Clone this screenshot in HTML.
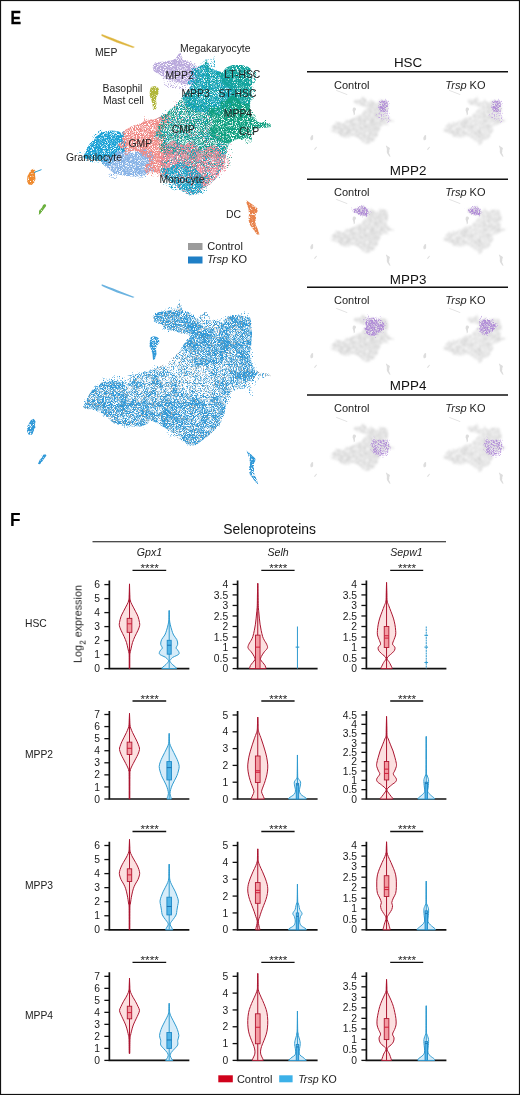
<!DOCTYPE html>
<html><head><meta charset="utf-8"><style>
html,body{margin:0;padding:0;background:#fff;}
body{width:520px;height:1095px;overflow:hidden;}
svg{display:block;font-family:"Liberation Sans", sans-serif;}
text{will-change:transform;}
</style></head><body>
<svg width="520" height="1095" viewBox="0 0 520 1095">
<rect x="0" y="0" width="520" height="1095" fill="#fff"/>
<defs><filter id="f0" filterUnits="userSpaceOnUse" x="-20" y="-20" width="340" height="300" color-interpolation-filters="sRGB"><feTurbulence type="fractalNoise" baseFrequency="0.05" numOctaves="2" seed="251" result="w"/><feDisplacementMap in="SourceGraphic" in2="w" scale="28" xChannelSelector="R" yChannelSelector="G" result="d"/><feTurbulence type="fractalNoise" baseFrequency="1.37" numOctaves="1" seed="201" result="n"/><feColorMatrix in="n" type="matrix" values="0 0 0 0 0  0 0 0 0 0  0 0 0 0 0  6 0 0 0 -2.980" result="m"/><feComposite in="d" in2="m" operator="in" result="o"/><feGaussianBlur in="o" stdDeviation="0.35"/></filter><filter id="f1" filterUnits="userSpaceOnUse" x="-20" y="-20" width="340" height="300" color-interpolation-filters="sRGB"><feTurbulence type="fractalNoise" baseFrequency="0.05" numOctaves="2" seed="252" result="w"/><feDisplacementMap in="SourceGraphic" in2="w" scale="28" xChannelSelector="R" yChannelSelector="G" result="d"/><feTurbulence type="fractalNoise" baseFrequency="1.37" numOctaves="1" seed="202" result="n"/><feColorMatrix in="n" type="matrix" values="0 0 0 0 0  0 0 0 0 0  0 0 0 0 0  6 0 0 0 -3.006" result="m"/><feComposite in="d" in2="m" operator="in" result="o"/><feGaussianBlur in="o" stdDeviation="0.35"/></filter><filter id="f2" filterUnits="userSpaceOnUse" x="-20" y="-20" width="340" height="300" color-interpolation-filters="sRGB"><feTurbulence type="fractalNoise" baseFrequency="0.05" numOctaves="2" seed="253" result="w"/><feDisplacementMap in="SourceGraphic" in2="w" scale="28" xChannelSelector="R" yChannelSelector="G" result="d"/><feTurbulence type="fractalNoise" baseFrequency="1.37" numOctaves="1" seed="203" result="n"/><feColorMatrix in="n" type="matrix" values="0 0 0 0 0  0 0 0 0 0  0 0 0 0 0  6 0 0 0 -3.069" result="m"/><feComposite in="d" in2="m" operator="in" result="o"/><feGaussianBlur in="o" stdDeviation="0.35"/></filter><filter id="f3" filterUnits="userSpaceOnUse" x="-20" y="-20" width="340" height="300" color-interpolation-filters="sRGB"><feTurbulence type="fractalNoise" baseFrequency="0.05" numOctaves="2" seed="254" result="w"/><feDisplacementMap in="SourceGraphic" in2="w" scale="28" xChannelSelector="R" yChannelSelector="G" result="d"/><feTurbulence type="fractalNoise" baseFrequency="1.37" numOctaves="1" seed="204" result="n"/><feColorMatrix in="n" type="matrix" values="0 0 0 0 0  0 0 0 0 0  0 0 0 0 0  6 0 0 0 -3.248" result="m"/><feComposite in="d" in2="m" operator="in" result="o"/><feGaussianBlur in="o" stdDeviation="0.35"/></filter><filter id="f4" filterUnits="userSpaceOnUse" x="-20" y="-20" width="340" height="300" color-interpolation-filters="sRGB"><feTurbulence type="fractalNoise" baseFrequency="0.05" numOctaves="2" seed="255" result="w"/><feDisplacementMap in="SourceGraphic" in2="w" scale="28" xChannelSelector="R" yChannelSelector="G" result="d"/><feTurbulence type="fractalNoise" baseFrequency="1.37" numOctaves="1" seed="205" result="n"/><feColorMatrix in="n" type="matrix" values="0 0 0 0 0  0 0 0 0 0  0 0 0 0 0  6 0 0 0 -3.600" result="m"/><feComposite in="d" in2="m" operator="in" result="o"/><feGaussianBlur in="o" stdDeviation="0.35"/></filter><filter id="f5" filterUnits="userSpaceOnUse" x="-20" y="-20" width="340" height="300" color-interpolation-filters="sRGB"><feTurbulence type="fractalNoise" baseFrequency="0.05" numOctaves="2" seed="269" result="w"/><feDisplacementMap in="SourceGraphic" in2="w" scale="28" xChannelSelector="R" yChannelSelector="G" result="d"/><feTurbulence type="fractalNoise" baseFrequency="1.37" numOctaves="1" seed="219" result="n"/><feColorMatrix in="n" type="matrix" values="0 0 0 0 0  0 0 0 0 0  0 0 0 0 0  6 0 0 0 -3.600" result="m"/><feComposite in="d" in2="m" operator="in" result="o"/><feGaussianBlur in="o" stdDeviation="0.35"/></filter><filter id="f6" filterUnits="userSpaceOnUse" x="-20" y="-20" width="340" height="300" color-interpolation-filters="sRGB"><feTurbulence type="fractalNoise" baseFrequency="0.05" numOctaves="2" seed="256" result="w"/><feDisplacementMap in="SourceGraphic" in2="w" scale="28" xChannelSelector="R" yChannelSelector="G" result="d"/><feTurbulence type="fractalNoise" baseFrequency="1.37" numOctaves="1" seed="206" result="n"/><feColorMatrix in="n" type="matrix" values="0 0 0 0 0  0 0 0 0 0  0 0 0 0 0  6 0 0 0 -3.090" result="m"/><feComposite in="d" in2="m" operator="in" result="o"/><feGaussianBlur in="o" stdDeviation="0.35"/></filter><filter id="f7" filterUnits="userSpaceOnUse" x="-20" y="-20" width="340" height="300" color-interpolation-filters="sRGB"><feTurbulence type="fractalNoise" baseFrequency="0.05" numOctaves="2" seed="257" result="w"/><feDisplacementMap in="SourceGraphic" in2="w" scale="28" xChannelSelector="R" yChannelSelector="G" result="d"/><feTurbulence type="fractalNoise" baseFrequency="1.37" numOctaves="1" seed="207" result="n"/><feColorMatrix in="n" type="matrix" values="0 0 0 0 0  0 0 0 0 0  0 0 0 0 0  6 0 0 0 -3.600" result="m"/><feComposite in="d" in2="m" operator="in" result="o"/><feGaussianBlur in="o" stdDeviation="0.35"/></filter><filter id="f8" filterUnits="userSpaceOnUse" x="-20" y="-20" width="340" height="300" color-interpolation-filters="sRGB"><feTurbulence type="fractalNoise" baseFrequency="0.05" numOctaves="2" seed="270" result="w"/><feDisplacementMap in="SourceGraphic" in2="w" scale="28" xChannelSelector="R" yChannelSelector="G" result="d"/><feTurbulence type="fractalNoise" baseFrequency="1.37" numOctaves="1" seed="220" result="n"/><feColorMatrix in="n" type="matrix" values="0 0 0 0 0  0 0 0 0 0  0 0 0 0 0  6 0 0 0 -3.600" result="m"/><feComposite in="d" in2="m" operator="in" result="o"/><feGaussianBlur in="o" stdDeviation="0.35"/></filter><filter id="f9" filterUnits="userSpaceOnUse" x="-20" y="-20" width="340" height="300" color-interpolation-filters="sRGB"><feTurbulence type="fractalNoise" baseFrequency="0.05" numOctaves="2" seed="258" result="w"/><feDisplacementMap in="SourceGraphic" in2="w" scale="28" xChannelSelector="R" yChannelSelector="G" result="d"/><feTurbulence type="fractalNoise" baseFrequency="1.37" numOctaves="1" seed="208" result="n"/><feColorMatrix in="n" type="matrix" values="0 0 0 0 0  0 0 0 0 0  0 0 0 0 0  6 0 0 0 -3.037" result="m"/><feComposite in="d" in2="m" operator="in" result="o"/><feGaussianBlur in="o" stdDeviation="0.35"/></filter><filter id="f10" filterUnits="userSpaceOnUse" x="-20" y="-20" width="340" height="300" color-interpolation-filters="sRGB"><feTurbulence type="fractalNoise" baseFrequency="0.05" numOctaves="2" seed="268" result="w"/><feDisplacementMap in="SourceGraphic" in2="w" scale="28" xChannelSelector="R" yChannelSelector="G" result="d"/><feTurbulence type="fractalNoise" baseFrequency="1.37" numOctaves="1" seed="218" result="n"/><feColorMatrix in="n" type="matrix" values="0 0 0 0 0  0 0 0 0 0  0 0 0 0 0  6 0 0 0 -3.600" result="m"/><feComposite in="d" in2="m" operator="in" result="o"/><feGaussianBlur in="o" stdDeviation="0.35"/></filter><filter id="f11" filterUnits="userSpaceOnUse" x="-20" y="-20" width="340" height="300" color-interpolation-filters="sRGB"><feTurbulence type="fractalNoise" baseFrequency="0.05" numOctaves="2" seed="259" result="w"/><feDisplacementMap in="SourceGraphic" in2="w" scale="28" xChannelSelector="R" yChannelSelector="G" result="d"/><feTurbulence type="fractalNoise" baseFrequency="1.37" numOctaves="1" seed="209" result="n"/><feColorMatrix in="n" type="matrix" values="0 0 0 0 0  0 0 0 0 0  0 0 0 0 0  6 0 0 0 -3.006" result="m"/><feComposite in="d" in2="m" operator="in" result="o"/><feGaussianBlur in="o" stdDeviation="0.35"/></filter><filter id="f12" filterUnits="userSpaceOnUse" x="-20" y="-20" width="340" height="300" color-interpolation-filters="sRGB"><feTurbulence type="fractalNoise" baseFrequency="0.05" numOctaves="2" seed="260" result="w"/><feDisplacementMap in="SourceGraphic" in2="w" scale="28" xChannelSelector="R" yChannelSelector="G" result="d"/><feTurbulence type="fractalNoise" baseFrequency="1.37" numOctaves="1" seed="210" result="n"/><feColorMatrix in="n" type="matrix" values="0 0 0 0 0  0 0 0 0 0  0 0 0 0 0  6 0 0 0 -3.143" result="m"/><feComposite in="d" in2="m" operator="in" result="o"/><feGaussianBlur in="o" stdDeviation="0.35"/></filter><filter id="f13" filterUnits="userSpaceOnUse" x="-20" y="-20" width="340" height="300" color-interpolation-filters="sRGB"><feTurbulence type="fractalNoise" baseFrequency="0.05" numOctaves="2" seed="261" result="w"/><feDisplacementMap in="SourceGraphic" in2="w" scale="28" xChannelSelector="R" yChannelSelector="G" result="d"/><feTurbulence type="fractalNoise" baseFrequency="1.37" numOctaves="1" seed="211" result="n"/><feColorMatrix in="n" type="matrix" values="0 0 0 0 0  0 0 0 0 0  0 0 0 0 0  6 0 0 0 -3.375" result="m"/><feComposite in="d" in2="m" operator="in" result="o"/><feGaussianBlur in="o" stdDeviation="0.35"/></filter><filter id="f14" filterUnits="userSpaceOnUse" x="-20" y="-20" width="340" height="300" color-interpolation-filters="sRGB"><feTurbulence type="fractalNoise" baseFrequency="0.05" numOctaves="2" seed="262" result="w"/><feDisplacementMap in="SourceGraphic" in2="w" scale="28" xChannelSelector="R" yChannelSelector="G" result="d"/><feTurbulence type="fractalNoise" baseFrequency="1.37" numOctaves="1" seed="212" result="n"/><feColorMatrix in="n" type="matrix" values="0 0 0 0 0  0 0 0 0 0  0 0 0 0 0  6 0 0 0 -2.980" result="m"/><feComposite in="d" in2="m" operator="in" result="o"/><feGaussianBlur in="o" stdDeviation="0.35"/></filter><filter id="f15" filterUnits="userSpaceOnUse" x="-20" y="-20" width="340" height="300" color-interpolation-filters="sRGB"><feTurbulence type="fractalNoise" baseFrequency="0.05" numOctaves="2" seed="263" result="w"/><feDisplacementMap in="SourceGraphic" in2="w" scale="28" xChannelSelector="R" yChannelSelector="G" result="d"/><feTurbulence type="fractalNoise" baseFrequency="1.37" numOctaves="1" seed="213" result="n"/><feColorMatrix in="n" type="matrix" values="0 0 0 0 0  0 0 0 0 0  0 0 0 0 0  6 0 0 0 -3.006" result="m"/><feComposite in="d" in2="m" operator="in" result="o"/><feGaussianBlur in="o" stdDeviation="0.35"/></filter><filter id="f16" filterUnits="userSpaceOnUse" x="-20" y="-20" width="340" height="300" color-interpolation-filters="sRGB"><feTurbulence type="fractalNoise" baseFrequency="0.07" numOctaves="2" seed="51" result="w"/><feDisplacementMap in="SourceGraphic" in2="w" scale="18" xChannelSelector="R" yChannelSelector="G" result="d"/><feTurbulence type="fractalNoise" baseFrequency="1.07" numOctaves="1" seed="1" result="n"/><feColorMatrix in="n" type="matrix" values="0 0 0 0 0  0 0 0 0 0  0 0 0 0 0  6 0 0 0 -2.075" result="m"/><feComposite in="d" in2="m" operator="in" result="o"/><feGaussianBlur in="o" stdDeviation="0.45"/></filter><filter id="f17" filterUnits="userSpaceOnUse" x="-20" y="-20" width="340" height="300" color-interpolation-filters="sRGB"><feTurbulence type="fractalNoise" baseFrequency="0.07" numOctaves="2" seed="52" result="w"/><feDisplacementMap in="SourceGraphic" in2="w" scale="18" xChannelSelector="R" yChannelSelector="G" result="d"/><feTurbulence type="fractalNoise" baseFrequency="1.07" numOctaves="1" seed="2" result="n"/><feColorMatrix in="n" type="matrix" values="0 0 0 0 0  0 0 0 0 0  0 0 0 0 0  6 0 0 0 -2.156" result="m"/><feComposite in="d" in2="m" operator="in" result="o"/><feGaussianBlur in="o" stdDeviation="0.45"/></filter><filter id="f18" filterUnits="userSpaceOnUse" x="-20" y="-20" width="340" height="300" color-interpolation-filters="sRGB"><feTurbulence type="fractalNoise" baseFrequency="0.07" numOctaves="2" seed="53" result="w"/><feDisplacementMap in="SourceGraphic" in2="w" scale="18" xChannelSelector="R" yChannelSelector="G" result="d"/><feTurbulence type="fractalNoise" baseFrequency="1.07" numOctaves="1" seed="3" result="n"/><feColorMatrix in="n" type="matrix" values="0 0 0 0 0  0 0 0 0 0  0 0 0 0 0  6 0 0 0 -2.269" result="m"/><feComposite in="d" in2="m" operator="in" result="o"/><feGaussianBlur in="o" stdDeviation="0.45"/></filter><filter id="f19" filterUnits="userSpaceOnUse" x="-20" y="-20" width="340" height="300" color-interpolation-filters="sRGB"><feTurbulence type="fractalNoise" baseFrequency="0.07" numOctaves="2" seed="54" result="w"/><feDisplacementMap in="SourceGraphic" in2="w" scale="18" xChannelSelector="R" yChannelSelector="G" result="d"/><feTurbulence type="fractalNoise" baseFrequency="1.07" numOctaves="1" seed="4" result="n"/><feColorMatrix in="n" type="matrix" values="0 0 0 0 0  0 0 0 0 0  0 0 0 0 0  6 0 0 0 -2.588" result="m"/><feComposite in="d" in2="m" operator="in" result="o"/><feGaussianBlur in="o" stdDeviation="0.45"/></filter><filter id="f20" filterUnits="userSpaceOnUse" x="-20" y="-20" width="340" height="300" color-interpolation-filters="sRGB"><feTurbulence type="fractalNoise" baseFrequency="0.07" numOctaves="2" seed="55" result="w"/><feDisplacementMap in="SourceGraphic" in2="w" scale="18" xChannelSelector="R" yChannelSelector="G" result="d"/><feTurbulence type="fractalNoise" baseFrequency="1.07" numOctaves="1" seed="5" result="n"/><feColorMatrix in="n" type="matrix" values="0 0 0 0 0  0 0 0 0 0  0 0 0 0 0  6 0 0 0 -3.386" result="m"/><feComposite in="d" in2="m" operator="in" result="o"/><feGaussianBlur in="o" stdDeviation="0.45"/></filter><filter id="f21" filterUnits="userSpaceOnUse" x="-20" y="-20" width="340" height="300" color-interpolation-filters="sRGB"><feTurbulence type="fractalNoise" baseFrequency="0.07" numOctaves="2" seed="69" result="w"/><feDisplacementMap in="SourceGraphic" in2="w" scale="18" xChannelSelector="R" yChannelSelector="G" result="d"/><feTurbulence type="fractalNoise" baseFrequency="1.07" numOctaves="1" seed="19" result="n"/><feColorMatrix in="n" type="matrix" values="0 0 0 0 0  0 0 0 0 0  0 0 0 0 0  6 0 0 0 -3.600" result="m"/><feComposite in="d" in2="m" operator="in" result="o"/><feGaussianBlur in="o" stdDeviation="0.45"/></filter><filter id="f22" filterUnits="userSpaceOnUse" x="-20" y="-20" width="340" height="300" color-interpolation-filters="sRGB"><feTurbulence type="fractalNoise" baseFrequency="0.07" numOctaves="2" seed="56" result="w"/><feDisplacementMap in="SourceGraphic" in2="w" scale="18" xChannelSelector="R" yChannelSelector="G" result="d"/><feTurbulence type="fractalNoise" baseFrequency="1.07" numOctaves="1" seed="6" result="n"/><feColorMatrix in="n" type="matrix" values="0 0 0 0 0  0 0 0 0 0  0 0 0 0 0  6 0 0 0 -2.306" result="m"/><feComposite in="d" in2="m" operator="in" result="o"/><feGaussianBlur in="o" stdDeviation="0.45"/></filter><filter id="f23" filterUnits="userSpaceOnUse" x="-20" y="-20" width="340" height="300" color-interpolation-filters="sRGB"><feTurbulence type="fractalNoise" baseFrequency="0.07" numOctaves="2" seed="57" result="w"/><feDisplacementMap in="SourceGraphic" in2="w" scale="18" xChannelSelector="R" yChannelSelector="G" result="d"/><feTurbulence type="fractalNoise" baseFrequency="1.07" numOctaves="1" seed="7" result="n"/><feColorMatrix in="n" type="matrix" values="0 0 0 0 0  0 0 0 0 0  0 0 0 0 0  6 0 0 0 -3.270" result="m"/><feComposite in="d" in2="m" operator="in" result="o"/><feGaussianBlur in="o" stdDeviation="0.45"/></filter><filter id="f24" filterUnits="userSpaceOnUse" x="-20" y="-20" width="340" height="300" color-interpolation-filters="sRGB"><feTurbulence type="fractalNoise" baseFrequency="0.07" numOctaves="2" seed="70" result="w"/><feDisplacementMap in="SourceGraphic" in2="w" scale="18" xChannelSelector="R" yChannelSelector="G" result="d"/><feTurbulence type="fractalNoise" baseFrequency="1.07" numOctaves="1" seed="20" result="n"/><feColorMatrix in="n" type="matrix" values="0 0 0 0 0  0 0 0 0 0  0 0 0 0 0  6 0 0 0 -3.600" result="m"/><feComposite in="d" in2="m" operator="in" result="o"/><feGaussianBlur in="o" stdDeviation="0.45"/></filter><filter id="f25" filterUnits="userSpaceOnUse" x="-20" y="-20" width="340" height="300" color-interpolation-filters="sRGB"><feTurbulence type="fractalNoise" baseFrequency="0.07" numOctaves="2" seed="58" result="w"/><feDisplacementMap in="SourceGraphic" in2="w" scale="18" xChannelSelector="R" yChannelSelector="G" result="d"/><feTurbulence type="fractalNoise" baseFrequency="1.07" numOctaves="1" seed="8" result="n"/><feColorMatrix in="n" type="matrix" values="0 0 0 0 0  0 0 0 0 0  0 0 0 0 0  6 0 0 0 -2.212" result="m"/><feComposite in="d" in2="m" operator="in" result="o"/><feGaussianBlur in="o" stdDeviation="0.45"/></filter><filter id="f26" filterUnits="userSpaceOnUse" x="-20" y="-20" width="340" height="300" color-interpolation-filters="sRGB"><feTurbulence type="fractalNoise" baseFrequency="0.07" numOctaves="2" seed="68" result="w"/><feDisplacementMap in="SourceGraphic" in2="w" scale="18" xChannelSelector="R" yChannelSelector="G" result="d"/><feTurbulence type="fractalNoise" baseFrequency="1.07" numOctaves="1" seed="18" result="n"/><feColorMatrix in="n" type="matrix" values="0 0 0 0 0  0 0 0 0 0  0 0 0 0 0  6 0 0 0 -3.471" result="m"/><feComposite in="d" in2="m" operator="in" result="o"/><feGaussianBlur in="o" stdDeviation="0.45"/></filter><filter id="f27" filterUnits="userSpaceOnUse" x="-20" y="-20" width="340" height="300" color-interpolation-filters="sRGB"><feTurbulence type="fractalNoise" baseFrequency="0.07" numOctaves="2" seed="59" result="w"/><feDisplacementMap in="SourceGraphic" in2="w" scale="18" xChannelSelector="R" yChannelSelector="G" result="d"/><feTurbulence type="fractalNoise" baseFrequency="1.07" numOctaves="1" seed="9" result="n"/><feColorMatrix in="n" type="matrix" values="0 0 0 0 0  0 0 0 0 0  0 0 0 0 0  6 0 0 0 -2.156" result="m"/><feComposite in="d" in2="m" operator="in" result="o"/><feGaussianBlur in="o" stdDeviation="0.45"/></filter><filter id="f28" filterUnits="userSpaceOnUse" x="-20" y="-20" width="340" height="300" color-interpolation-filters="sRGB"><feTurbulence type="fractalNoise" baseFrequency="0.07" numOctaves="2" seed="60" result="w"/><feDisplacementMap in="SourceGraphic" in2="w" scale="18" xChannelSelector="R" yChannelSelector="G" result="d"/><feTurbulence type="fractalNoise" baseFrequency="1.07" numOctaves="1" seed="10" result="n"/><feColorMatrix in="n" type="matrix" values="0 0 0 0 0  0 0 0 0 0  0 0 0 0 0  6 0 0 0 -2.400" result="m"/><feComposite in="d" in2="m" operator="in" result="o"/><feGaussianBlur in="o" stdDeviation="0.45"/></filter><filter id="f29" filterUnits="userSpaceOnUse" x="-20" y="-20" width="340" height="300" color-interpolation-filters="sRGB"><feTurbulence type="fractalNoise" baseFrequency="0.07" numOctaves="2" seed="61" result="w"/><feDisplacementMap in="SourceGraphic" in2="w" scale="18" xChannelSelector="R" yChannelSelector="G" result="d"/><feTurbulence type="fractalNoise" baseFrequency="1.07" numOctaves="1" seed="11" result="n"/><feColorMatrix in="n" type="matrix" values="0 0 0 0 0  0 0 0 0 0  0 0 0 0 0  6 0 0 0 -2.780" result="m"/><feComposite in="d" in2="m" operator="in" result="o"/><feGaussianBlur in="o" stdDeviation="0.45"/></filter><filter id="f30" filterUnits="userSpaceOnUse" x="-20" y="-20" width="340" height="300" color-interpolation-filters="sRGB"><feTurbulence type="fractalNoise" baseFrequency="0.07" numOctaves="2" seed="62" result="w"/><feDisplacementMap in="SourceGraphic" in2="w" scale="18" xChannelSelector="R" yChannelSelector="G" result="d"/><feTurbulence type="fractalNoise" baseFrequency="1.07" numOctaves="1" seed="12" result="n"/><feColorMatrix in="n" type="matrix" values="0 0 0 0 0  0 0 0 0 0  0 0 0 0 0  6 0 0 0 -2.000" result="m"/><feComposite in="d" in2="m" operator="in" result="o"/><feGaussianBlur in="o" stdDeviation="0.45"/></filter><filter id="f31" filterUnits="userSpaceOnUse" x="-20" y="-20" width="340" height="300" color-interpolation-filters="sRGB"><feTurbulence type="fractalNoise" baseFrequency="0.07" numOctaves="2" seed="63" result="w"/><feDisplacementMap in="SourceGraphic" in2="w" scale="18" xChannelSelector="R" yChannelSelector="G" result="d"/><feTurbulence type="fractalNoise" baseFrequency="1.07" numOctaves="1" seed="13" result="n"/><feColorMatrix in="n" type="matrix" values="0 0 0 0 0  0 0 0 0 0  0 0 0 0 0  6 0 0 0 -2.156" result="m"/><feComposite in="d" in2="m" operator="in" result="o"/><feGaussianBlur in="o" stdDeviation="0.45"/></filter><filter id="f32" filterUnits="userSpaceOnUse" x="-20" y="-20" width="340" height="300" color-interpolation-filters="sRGB"><feTurbulence type="fractalNoise" baseFrequency="0.07" numOctaves="2" seed="64" result="w"/><feDisplacementMap in="SourceGraphic" in2="w" scale="2" xChannelSelector="R" yChannelSelector="G" result="d"/><feTurbulence type="fractalNoise" baseFrequency="1.37" numOctaves="1" seed="14" result="n"/><feColorMatrix in="n" type="matrix" values="0 0 0 0 0  0 0 0 0 0  0 0 0 0 0  6 0 0 0 -1.720" result="m"/><feComposite in="d" in2="m" operator="in" result="o"/><feGaussianBlur in="o" stdDeviation="0.35"/></filter><filter id="f33" filterUnits="userSpaceOnUse" x="-20" y="-20" width="340" height="300" color-interpolation-filters="sRGB"><feTurbulence type="fractalNoise" baseFrequency="0.07" numOctaves="2" seed="65" result="w"/><feDisplacementMap in="SourceGraphic" in2="w" scale="2" xChannelSelector="R" yChannelSelector="G" result="d"/><feTurbulence type="fractalNoise" baseFrequency="1.37" numOctaves="1" seed="15" result="n"/><feColorMatrix in="n" type="matrix" values="0 0 0 0 0  0 0 0 0 0  0 0 0 0 0  6 0 0 0 -1.720" result="m"/><feComposite in="d" in2="m" operator="in" result="o"/><feGaussianBlur in="o" stdDeviation="0.35"/></filter><filter id="f34" filterUnits="userSpaceOnUse" x="-20" y="-20" width="340" height="300" color-interpolation-filters="sRGB"><feTurbulence type="fractalNoise" baseFrequency="0.07" numOctaves="2" seed="66" result="w"/><feDisplacementMap in="SourceGraphic" in2="w" scale="2" xChannelSelector="R" yChannelSelector="G" result="d"/><feTurbulence type="fractalNoise" baseFrequency="1.37" numOctaves="1" seed="16" result="n"/><feColorMatrix in="n" type="matrix" values="0 0 0 0 0  0 0 0 0 0  0 0 0 0 0  6 0 0 0 -1.520" result="m"/><feComposite in="d" in2="m" operator="in" result="o"/><feGaussianBlur in="o" stdDeviation="0.35"/></filter><filter id="f35" filterUnits="userSpaceOnUse" x="-20" y="-20" width="340" height="300" color-interpolation-filters="sRGB"><feTurbulence type="fractalNoise" baseFrequency="0.07" numOctaves="2" seed="67" result="w"/><feDisplacementMap in="SourceGraphic" in2="w" scale="2" xChannelSelector="R" yChannelSelector="G" result="d"/><feTurbulence type="fractalNoise" baseFrequency="1.37" numOctaves="1" seed="17" result="n"/><feColorMatrix in="n" type="matrix" values="0 0 0 0 0  0 0 0 0 0  0 0 0 0 0  6 0 0 0 -1.520" result="m"/><feComposite in="d" in2="m" operator="in" result="o"/><feGaussianBlur in="o" stdDeviation="0.35"/></filter><filter id="f36" filterUnits="userSpaceOnUse" x="-20" y="-20" width="340" height="300" color-interpolation-filters="sRGB"><feTurbulence type="fractalNoise" baseFrequency="0.05" numOctaves="2" seed="111" result="w"/><feDisplacementMap in="SourceGraphic" in2="w" scale="28" xChannelSelector="R" yChannelSelector="G" result="d"/><feTurbulence type="fractalNoise" baseFrequency="1.37" numOctaves="1" seed="61" result="n"/><feColorMatrix in="n" type="matrix" values="0 0 0 0 0  0 0 0 0 0  0 0 0 0 0  6 0 0 0 -3.386" result="m"/><feComposite in="d" in2="m" operator="in" result="o"/><feGaussianBlur in="o" stdDeviation="0.35"/></filter><filter id="f37" filterUnits="userSpaceOnUse" x="-20" y="-20" width="340" height="300" color-interpolation-filters="sRGB"><feTurbulence type="fractalNoise" baseFrequency="0.07" numOctaves="2" seed="112" result="w"/><feDisplacementMap in="SourceGraphic" in2="w" scale="10" xChannelSelector="R" yChannelSelector="G" result="d"/><feTurbulence type="fractalNoise" baseFrequency="1.1" numOctaves="1" seed="62" result="n"/><feColorMatrix in="n" type="matrix" values="1 0 0 0 0  1 0 0 0 0  1 0 0 0 0  0 0 0 0 1" result="g1"/><feTurbulence type="fractalNoise" baseFrequency="0.1" numOctaves="2" seed="152" result="n2"/><feColorMatrix in="n2" type="matrix" values="1 0 0 0 0  1 0 0 0 0  1 0 0 0 0  0 0 0 0 1" result="g2"/><feComposite in="g1" in2="g2" operator="arithmetic" k1="0" k2="1" k3="0.3" k4="-0.15" result="sum"/><feColorMatrix in="sum" type="matrix" values="0 0 0 0 0  0 0 0 0 0  0 0 0 0 0  6 0 0 0 -3.060" result="m"/><feComposite in="d" in2="m" operator="in" result="o"/><feGaussianBlur in="o" stdDeviation="0.35"/></filter><filter id="f38" filterUnits="userSpaceOnUse" x="-20" y="-20" width="340" height="300" color-interpolation-filters="sRGB"><feTurbulence type="fractalNoise" baseFrequency="0.07" numOctaves="2" seed="80" result="w"/><feDisplacementMap in="SourceGraphic" in2="w" scale="18" xChannelSelector="R" yChannelSelector="G" result="d"/><feTurbulence type="fractalNoise" baseFrequency="1.1" numOctaves="1" seed="30" result="n"/><feColorMatrix in="n" type="matrix" values="1 0 0 0 0  1 0 0 0 0  1 0 0 0 0  0 0 0 0 1" result="g1"/><feTurbulence type="fractalNoise" baseFrequency="0.1" numOctaves="2" seed="120" result="n2"/><feColorMatrix in="n2" type="matrix" values="1 0 0 0 0  1 0 0 0 0  1 0 0 0 0  0 0 0 0 1" result="g2"/><feComposite in="g1" in2="g2" operator="arithmetic" k1="0" k2="1" k3="0.3" k4="-0.15" result="sum"/><feColorMatrix in="sum" type="matrix" values="0 0 0 0 0  0 0 0 0 0  0 0 0 0 0  6 0 0 0 -2.494" result="m"/><feComposite in="d" in2="m" operator="in" result="o"/><feGaussianBlur in="o" stdDeviation="0.35"/></filter><filter id="f39" filterUnits="userSpaceOnUse" x="-20" y="-20" width="340" height="300" color-interpolation-filters="sRGB"><feTurbulence type="fractalNoise" baseFrequency="0.07" numOctaves="2" seed="81" result="w"/><feDisplacementMap in="SourceGraphic" in2="w" scale="18" xChannelSelector="R" yChannelSelector="G" result="d"/><feTurbulence type="fractalNoise" baseFrequency="1.1" numOctaves="1" seed="31" result="n"/><feColorMatrix in="n" type="matrix" values="1 0 0 0 0  1 0 0 0 0  1 0 0 0 0  0 0 0 0 1" result="g1"/><feTurbulence type="fractalNoise" baseFrequency="0.1" numOctaves="2" seed="121" result="n2"/><feColorMatrix in="n2" type="matrix" values="1 0 0 0 0  1 0 0 0 0  1 0 0 0 0  0 0 0 0 1" result="g2"/><feComposite in="g1" in2="g2" operator="arithmetic" k1="0" k2="1" k3="0.3" k4="-0.15" result="sum"/><feColorMatrix in="sum" type="matrix" values="0 0 0 0 0  0 0 0 0 0  0 0 0 0 0  6 0 0 0 -2.494" result="m"/><feComposite in="d" in2="m" operator="in" result="o"/><feGaussianBlur in="o" stdDeviation="0.35"/></filter><filter id="f40" filterUnits="userSpaceOnUse" x="-20" y="-20" width="340" height="300" color-interpolation-filters="sRGB"><feTurbulence type="fractalNoise" baseFrequency="0.07" numOctaves="2" seed="82" result="w"/><feDisplacementMap in="SourceGraphic" in2="w" scale="18" xChannelSelector="R" yChannelSelector="G" result="d"/><feTurbulence type="fractalNoise" baseFrequency="1.1" numOctaves="1" seed="32" result="n"/><feColorMatrix in="n" type="matrix" values="1 0 0 0 0  1 0 0 0 0  1 0 0 0 0  0 0 0 0 1" result="g1"/><feTurbulence type="fractalNoise" baseFrequency="0.1" numOctaves="2" seed="122" result="n2"/><feColorMatrix in="n2" type="matrix" values="1 0 0 0 0  1 0 0 0 0  1 0 0 0 0  0 0 0 0 1" result="g2"/><feComposite in="g1" in2="g2" operator="arithmetic" k1="0" k2="1" k3="0.3" k4="-0.15" result="sum"/><feColorMatrix in="sum" type="matrix" values="0 0 0 0 0  0 0 0 0 0  0 0 0 0 0  6 0 0 0 -2.494" result="m"/><feComposite in="d" in2="m" operator="in" result="o"/><feGaussianBlur in="o" stdDeviation="0.35"/></filter><filter id="f41" filterUnits="userSpaceOnUse" x="-20" y="-20" width="340" height="300" color-interpolation-filters="sRGB"><feTurbulence type="fractalNoise" baseFrequency="0.07" numOctaves="2" seed="83" result="w"/><feDisplacementMap in="SourceGraphic" in2="w" scale="18" xChannelSelector="R" yChannelSelector="G" result="d"/><feTurbulence type="fractalNoise" baseFrequency="1.1" numOctaves="1" seed="33" result="n"/><feColorMatrix in="n" type="matrix" values="1 0 0 0 0  1 0 0 0 0  1 0 0 0 0  0 0 0 0 1" result="g1"/><feTurbulence type="fractalNoise" baseFrequency="0.1" numOctaves="2" seed="123" result="n2"/><feColorMatrix in="n2" type="matrix" values="1 0 0 0 0  1 0 0 0 0  1 0 0 0 0  0 0 0 0 1" result="g2"/><feComposite in="g1" in2="g2" operator="arithmetic" k1="0" k2="1" k3="0.3" k4="-0.15" result="sum"/><feColorMatrix in="sum" type="matrix" values="0 0 0 0 0  0 0 0 0 0  0 0 0 0 0  6 0 0 0 -2.880" result="m"/><feComposite in="d" in2="m" operator="in" result="o"/><feGaussianBlur in="o" stdDeviation="0.35"/></filter><filter id="f42" filterUnits="userSpaceOnUse" x="-20" y="-20" width="340" height="300" color-interpolation-filters="sRGB"><feTurbulence type="fractalNoise" baseFrequency="0.07" numOctaves="2" seed="84" result="w"/><feDisplacementMap in="SourceGraphic" in2="w" scale="18" xChannelSelector="R" yChannelSelector="G" result="d"/><feTurbulence type="fractalNoise" baseFrequency="1.1" numOctaves="1" seed="34" result="n"/><feColorMatrix in="n" type="matrix" values="1 0 0 0 0  1 0 0 0 0  1 0 0 0 0  0 0 0 0 1" result="g1"/><feTurbulence type="fractalNoise" baseFrequency="0.1" numOctaves="2" seed="124" result="n2"/><feColorMatrix in="n2" type="matrix" values="1 0 0 0 0  1 0 0 0 0  1 0 0 0 0  0 0 0 0 1" result="g2"/><feComposite in="g1" in2="g2" operator="arithmetic" k1="0" k2="1" k3="0.3" k4="-0.15" result="sum"/><feColorMatrix in="sum" type="matrix" values="0 0 0 0 0  0 0 0 0 0  0 0 0 0 0  6 0 0 0 -2.588" result="m"/><feComposite in="d" in2="m" operator="in" result="o"/><feGaussianBlur in="o" stdDeviation="0.35"/></filter><filter id="f43" filterUnits="userSpaceOnUse" x="-20" y="-20" width="340" height="300" color-interpolation-filters="sRGB"><feTurbulence type="fractalNoise" baseFrequency="0.07" numOctaves="2" seed="85" result="w"/><feDisplacementMap in="SourceGraphic" in2="w" scale="18" xChannelSelector="R" yChannelSelector="G" result="d"/><feTurbulence type="fractalNoise" baseFrequency="1.1" numOctaves="1" seed="35" result="n"/><feColorMatrix in="n" type="matrix" values="1 0 0 0 0  1 0 0 0 0  1 0 0 0 0  0 0 0 0 1" result="g1"/><feTurbulence type="fractalNoise" baseFrequency="0.1" numOctaves="2" seed="125" result="n2"/><feColorMatrix in="n2" type="matrix" values="1 0 0 0 0  1 0 0 0 0  1 0 0 0 0  0 0 0 0 1" result="g2"/><feComposite in="g1" in2="g2" operator="arithmetic" k1="0" k2="1" k3="0.3" k4="-0.15" result="sum"/><feColorMatrix in="sum" type="matrix" values="0 0 0 0 0  0 0 0 0 0  0 0 0 0 0  6 0 0 0 -2.720" result="m"/><feComposite in="d" in2="m" operator="in" result="o"/><feGaussianBlur in="o" stdDeviation="0.35"/></filter><filter id="f44" filterUnits="userSpaceOnUse" x="-20" y="-20" width="340" height="300" color-interpolation-filters="sRGB"><feTurbulence type="fractalNoise" baseFrequency="0.07" numOctaves="2" seed="86" result="w"/><feDisplacementMap in="SourceGraphic" in2="w" scale="18" xChannelSelector="R" yChannelSelector="G" result="d"/><feTurbulence type="fractalNoise" baseFrequency="1.1" numOctaves="1" seed="36" result="n"/><feColorMatrix in="n" type="matrix" values="1 0 0 0 0  1 0 0 0 0  1 0 0 0 0  0 0 0 0 1" result="g1"/><feTurbulence type="fractalNoise" baseFrequency="0.1" numOctaves="2" seed="126" result="n2"/><feColorMatrix in="n2" type="matrix" values="1 0 0 0 0  1 0 0 0 0  1 0 0 0 0  0 0 0 0 1" result="g2"/><feComposite in="g1" in2="g2" operator="arithmetic" k1="0" k2="1" k3="0.3" k4="-0.15" result="sum"/><feColorMatrix in="sum" type="matrix" values="0 0 0 0 0  0 0 0 0 0  0 0 0 0 0  6 0 0 0 -3.060" result="m"/><feComposite in="d" in2="m" operator="in" result="o"/><feGaussianBlur in="o" stdDeviation="0.35"/></filter><filter id="f45" filterUnits="userSpaceOnUse" x="-20" y="-20" width="340" height="300" color-interpolation-filters="sRGB"><feTurbulence type="fractalNoise" baseFrequency="0.07" numOctaves="2" seed="87" result="w"/><feDisplacementMap in="SourceGraphic" in2="w" scale="18" xChannelSelector="R" yChannelSelector="G" result="d"/><feTurbulence type="fractalNoise" baseFrequency="1.1" numOctaves="1" seed="37" result="n"/><feColorMatrix in="n" type="matrix" values="1 0 0 0 0  1 0 0 0 0  1 0 0 0 0  0 0 0 0 1" result="g1"/><feTurbulence type="fractalNoise" baseFrequency="0.1" numOctaves="2" seed="127" result="n2"/><feColorMatrix in="n2" type="matrix" values="1 0 0 0 0  1 0 0 0 0  1 0 0 0 0  0 0 0 0 1" result="g2"/><feComposite in="g1" in2="g2" operator="arithmetic" k1="0" k2="1" k3="0.3" k4="-0.15" result="sum"/><feColorMatrix in="sum" type="matrix" values="0 0 0 0 0  0 0 0 0 0  0 0 0 0 0  6 0 0 0 -2.681" result="m"/><feComposite in="d" in2="m" operator="in" result="o"/><feGaussianBlur in="o" stdDeviation="0.35"/></filter><filter id="f46" filterUnits="userSpaceOnUse" x="-20" y="-20" width="340" height="300" color-interpolation-filters="sRGB"><feTurbulence type="fractalNoise" baseFrequency="0.07" numOctaves="2" seed="88" result="w"/><feDisplacementMap in="SourceGraphic" in2="w" scale="18" xChannelSelector="R" yChannelSelector="G" result="d"/><feTurbulence type="fractalNoise" baseFrequency="1.1" numOctaves="1" seed="38" result="n"/><feColorMatrix in="n" type="matrix" values="1 0 0 0 0  1 0 0 0 0  1 0 0 0 0  0 0 0 0 1" result="g1"/><feTurbulence type="fractalNoise" baseFrequency="0.1" numOctaves="2" seed="128" result="n2"/><feColorMatrix in="n2" type="matrix" values="1 0 0 0 0  1 0 0 0 0  1 0 0 0 0  0 0 0 0 1" result="g2"/><feComposite in="g1" in2="g2" operator="arithmetic" k1="0" k2="1" k3="0.3" k4="-0.15" result="sum"/><feColorMatrix in="sum" type="matrix" values="0 0 0 0 0  0 0 0 0 0  0 0 0 0 0  6 0 0 0 -2.644" result="m"/><feComposite in="d" in2="m" operator="in" result="o"/><feGaussianBlur in="o" stdDeviation="0.35"/></filter><filter id="f47" filterUnits="userSpaceOnUse" x="-20" y="-20" width="340" height="300" color-interpolation-filters="sRGB"><feTurbulence type="fractalNoise" baseFrequency="0.07" numOctaves="2" seed="110" result="w"/><feDisplacementMap in="SourceGraphic" in2="w" scale="5" xChannelSelector="R" yChannelSelector="G" result="d"/><feTurbulence type="fractalNoise" baseFrequency="1.37" numOctaves="1" seed="60" result="n"/><feColorMatrix in="n" type="matrix" values="0 0 0 0 0  0 0 0 0 0  0 0 0 0 0  6 0 0 0 -3.471" result="m"/><feComposite in="d" in2="m" operator="in" result="o"/><feGaussianBlur in="o" stdDeviation="0.35"/></filter><filter id="f48" filterUnits="userSpaceOnUse" x="-20" y="-20" width="340" height="300" color-interpolation-filters="sRGB"><feTurbulence type="fractalNoise" baseFrequency="0.07" numOctaves="2" seed="100" result="w"/><feDisplacementMap in="SourceGraphic" in2="w" scale="2" xChannelSelector="R" yChannelSelector="G" result="d"/><feTurbulence type="fractalNoise" baseFrequency="1.37" numOctaves="1" seed="50" result="n"/><feColorMatrix in="n" type="matrix" values="1 0 0 0 0  1 0 0 0 0  1 0 0 0 0  0 0 0 0 1" result="g1"/><feTurbulence type="fractalNoise" baseFrequency="0.1" numOctaves="2" seed="140" result="n2"/><feColorMatrix in="n2" type="matrix" values="1 0 0 0 0  1 0 0 0 0  1 0 0 0 0  0 0 0 0 1" result="g2"/><feComposite in="g1" in2="g2" operator="arithmetic" k1="0" k2="1" k3="0.25" k4="-0.125" result="sum"/><feColorMatrix in="sum" type="matrix" values="0 0 0 0 0  0 0 0 0 0  0 0 0 0 0  6 0 0 0 -1.875" result="m"/><feComposite in="d" in2="m" operator="in" result="o"/><feGaussianBlur in="o" stdDeviation="0.35"/></filter><filter id="f49" filterUnits="userSpaceOnUse" x="-20" y="-20" width="340" height="300" color-interpolation-filters="sRGB"><feTurbulence type="fractalNoise" baseFrequency="0.07" numOctaves="2" seed="105" result="w"/><feDisplacementMap in="SourceGraphic" in2="w" scale="2" xChannelSelector="R" yChannelSelector="G" result="d"/><feTurbulence type="fractalNoise" baseFrequency="1.37" numOctaves="1" seed="55" result="n"/><feColorMatrix in="n" type="matrix" values="1 0 0 0 0  1 0 0 0 0  1 0 0 0 0  0 0 0 0 1" result="g1"/><feTurbulence type="fractalNoise" baseFrequency="0.1" numOctaves="2" seed="145" result="n2"/><feColorMatrix in="n2" type="matrix" values="1 0 0 0 0  1 0 0 0 0  1 0 0 0 0  0 0 0 0 1" result="g2"/><feComposite in="g1" in2="g2" operator="arithmetic" k1="0" k2="1" k3="0.25" k4="-0.125" result="sum"/><feColorMatrix in="sum" type="matrix" values="0 0 0 0 0  0 0 0 0 0  0 0 0 0 0  6 0 0 0 -2.000" result="m"/><feComposite in="d" in2="m" operator="in" result="o"/><feGaussianBlur in="o" stdDeviation="0.35"/></filter><filter id="f50" filterUnits="userSpaceOnUse" x="-20" y="-20" width="340" height="300" color-interpolation-filters="sRGB"><feTurbulence type="fractalNoise" baseFrequency="0.07" numOctaves="2" seed="102" result="w"/><feDisplacementMap in="SourceGraphic" in2="w" scale="2" xChannelSelector="R" yChannelSelector="G" result="d"/><feTurbulence type="fractalNoise" baseFrequency="1.37" numOctaves="1" seed="52" result="n"/><feColorMatrix in="n" type="matrix" values="1 0 0 0 0  1 0 0 0 0  1 0 0 0 0  0 0 0 0 1" result="g1"/><feTurbulence type="fractalNoise" baseFrequency="0.1" numOctaves="2" seed="142" result="n2"/><feColorMatrix in="n2" type="matrix" values="1 0 0 0 0  1 0 0 0 0  1 0 0 0 0  0 0 0 0 1" result="g2"/><feComposite in="g1" in2="g2" operator="arithmetic" k1="0" k2="1" k3="0.25" k4="-0.125" result="sum"/><feColorMatrix in="sum" type="matrix" values="0 0 0 0 0  0 0 0 0 0  0 0 0 0 0  6 0 0 0 -1.875" result="m"/><feComposite in="d" in2="m" operator="in" result="o"/><feGaussianBlur in="o" stdDeviation="0.35"/></filter><filter id="f51" filterUnits="userSpaceOnUse" x="-20" y="-20" width="340" height="300" color-interpolation-filters="sRGB"><feTurbulence type="fractalNoise" baseFrequency="0.07" numOctaves="2" seed="103" result="w"/><feDisplacementMap in="SourceGraphic" in2="w" scale="2" xChannelSelector="R" yChannelSelector="G" result="d"/><feTurbulence type="fractalNoise" baseFrequency="1.37" numOctaves="1" seed="53" result="n"/><feColorMatrix in="n" type="matrix" values="1 0 0 0 0  1 0 0 0 0  1 0 0 0 0  0 0 0 0 1" result="g1"/><feTurbulence type="fractalNoise" baseFrequency="0.1" numOctaves="2" seed="143" result="n2"/><feColorMatrix in="n2" type="matrix" values="1 0 0 0 0  1 0 0 0 0  1 0 0 0 0  0 0 0 0 1" result="g2"/><feComposite in="g1" in2="g2" operator="arithmetic" k1="0" k2="1" k3="0.25" k4="-0.125" result="sum"/><feColorMatrix in="sum" type="matrix" values="0 0 0 0 0  0 0 0 0 0  0 0 0 0 0  6 0 0 0 -1.875" result="m"/><feComposite in="d" in2="m" operator="in" result="o"/><feGaussianBlur in="o" stdDeviation="0.35"/></filter><filter id="f52" filterUnits="userSpaceOnUse" x="-20" y="-20" width="340" height="300" color-interpolation-filters="sRGB"><feTurbulence type="fractalNoise" baseFrequency="0.05" numOctaves="2" seed="120" result="w"/><feDisplacementMap in="SourceGraphic" in2="w" scale="12" xChannelSelector="R" yChannelSelector="G" result="d"/><feTurbulence type="fractalNoise" baseFrequency="4.09" numOctaves="1" seed="70" result="n"/><feColorMatrix in="n" type="matrix" values="0 0 0 0 0  0 0 0 0 0  0 0 0 0 0  2.0 0 0 0 -0.573" result="m"/><feComposite in="d" in2="m" operator="in" result="o"/><feGaussianBlur in="o" stdDeviation="2.6"/></filter><filter id="f53" filterUnits="userSpaceOnUse" x="-20" y="-20" width="340" height="300" color-interpolation-filters="sRGB"><feTurbulence type="fractalNoise" baseFrequency="0.05" numOctaves="2" seed="121" result="w"/><feDisplacementMap in="SourceGraphic" in2="w" scale="12" xChannelSelector="R" yChannelSelector="G" result="d"/><feTurbulence type="fractalNoise" baseFrequency="4.09" numOctaves="1" seed="71" result="n"/><feColorMatrix in="n" type="matrix" values="0 0 0 0 0  0 0 0 0 0  0 0 0 0 0  2.0 0 0 0 -0.625" result="m"/><feComposite in="d" in2="m" operator="in" result="o"/><feGaussianBlur in="o" stdDeviation="2.6"/></filter><filter id="f54" filterUnits="userSpaceOnUse" x="-20" y="-20" width="340" height="300" color-interpolation-filters="sRGB"><feTurbulence type="fractalNoise" baseFrequency="0.06" numOctaves="2" seed="122" result="w"/><feDisplacementMap in="SourceGraphic" in2="w" scale="10" xChannelSelector="R" yChannelSelector="G" result="d"/><feTurbulence type="fractalNoise" baseFrequency="4.09" numOctaves="1" seed="72" result="n"/><feColorMatrix in="n" type="matrix" values="0 0 0 0 0  0 0 0 0 0  0 0 0 0 0  4 0 0 0 -1.383" result="m"/><feComposite in="d" in2="m" operator="in" result="o"/><feGaussianBlur in="o" stdDeviation="1.6"/></filter><filter id="f55" filterUnits="userSpaceOnUse" x="-20" y="-20" width="340" height="300" color-interpolation-filters="sRGB"><feTurbulence type="fractalNoise" baseFrequency="0.06" numOctaves="2" seed="124" result="w"/><feDisplacementMap in="SourceGraphic" in2="w" scale="14" xChannelSelector="R" yChannelSelector="G" result="d"/><feTurbulence type="fractalNoise" baseFrequency="4.09" numOctaves="1" seed="74" result="n"/><feColorMatrix in="n" type="matrix" values="0 0 0 0 0  0 0 0 0 0  0 0 0 0 0  4 0 0 0 -1.725" result="m"/><feComposite in="d" in2="m" operator="in" result="o"/><feGaussianBlur in="o" stdDeviation="1.6"/></filter><filter id="f56" filterUnits="userSpaceOnUse" x="-20" y="-20" width="340" height="300" color-interpolation-filters="sRGB"><feTurbulence type="fractalNoise" baseFrequency="0.06" numOctaves="2" seed="123" result="w"/><feDisplacementMap in="SourceGraphic" in2="w" scale="30" xChannelSelector="R" yChannelSelector="G" result="d"/><feTurbulence type="fractalNoise" baseFrequency="4.09" numOctaves="1" seed="73" result="n"/><feColorMatrix in="n" type="matrix" values="0 0 0 0 0  0 0 0 0 0  0 0 0 0 0  4 0 0 0 -1.987" result="m"/><feComposite in="d" in2="m" operator="in" result="o"/><feGaussianBlur in="o" stdDeviation="1.0"/></filter></defs>
<path d="M101.8,34.3 Q108,36.4 118,40.6 L134.5,47 L133,47.8 L117,42.4 Q107,38.7 101.6,35.8Z" fill="#dcb43c" stroke="#e8c868" stroke-width="0.6" stroke-opacity="0.6"/>
<path d="M83.0,157.0 L86.0,151.0 L90.0,143.0 L95.0,136.0 L101.0,133.0 L107.0,131.0 L113.0,130.0 L119.0,131.5 L121.0,133.0 L124.0,140.0 L123.0,148.0 L118.8,154.6 L109.6,159.0 L102.0,163.8 L100.0,160.0 L92.0,159.0 L85.0,158.5Z" fill="#1ba2d6" filter="url(#f0)"/>
<path d="M102.0,163.8 L109.6,159.0 L118.8,154.6 L124.6,152.3 L135.0,151.0 L145.0,153.0 L150.0,158.0 L150.0,171.0 L147.0,174.0 L141.0,176.5 L130.0,176.5 L121.0,175.4 L113.8,173.3 L105.8,168.0Z" fill="#88b3e6" filter="url(#f1)"/>
<path d="M121.0,133.0 L126.0,129.5 L132.0,126.0 L140.0,123.5 L146.0,121.0 L153.0,119.5 L158.0,118.0 L162.0,115.0 L163.0,120.0 L160.0,130.0 L160.0,138.0 L165.0,145.0 L168.0,155.0 L166.0,165.0 L165.0,176.0 L162.0,176.0 L155.0,172.0 L150.0,171.0 L150.0,158.0 L145.0,153.0 L135.0,151.0 L124.6,152.3 L123.0,148.0 L124.0,140.0Z" fill="#f08a86" filter="url(#f2)"/>
<path d="M162.0,115.0 L166.0,114.0 L170.0,110.0 L175.0,106.0 L180.0,100.0 L184.0,99.0 L190.0,104.0 L200.0,108.0 L212.0,110.0 L212.0,122.0 L215.0,134.0 L224.0,140.0 L231.0,142.0 L227.0,148.0 L226.0,155.0 L220.0,155.0 L200.0,157.5 L182.5,155.0 L167.5,150.0 L164.0,146.0 L160.0,138.0 L160.0,130.0 L163.0,120.0Z" fill="#0f9e86" filter="url(#f3)"/>
<path d="M162.0,115.0 L166.0,114.0 L170.0,110.0 L175.0,106.0 L180.0,100.0 L184.0,99.0 L190.0,104.0 L200.0,108.0 L212.0,110.0 L212.0,122.0 L215.0,134.0 L224.0,140.0 L231.0,142.0 L227.0,148.0 L226.0,155.0 L220.0,155.0 L200.0,157.5 L182.5,155.0 L167.5,150.0 L164.0,146.0 L160.0,138.0 L160.0,130.0 L163.0,120.0Z" fill="#18a3c9" filter="url(#f4)"/>
<path d="M162.0,115.0 L166.0,114.0 L170.0,110.0 L175.0,106.0 L180.0,100.0 L184.0,99.0 L190.0,104.0 L200.0,108.0 L212.0,110.0 L212.0,122.0 L215.0,134.0 L224.0,140.0 L231.0,142.0 L227.0,148.0 L226.0,155.0 L220.0,155.0 L200.0,157.5 L182.5,155.0 L167.5,150.0 L164.0,146.0 L160.0,138.0 L160.0,130.0 L163.0,120.0Z" fill="#ee8a98" filter="url(#f5)"/>
<path d="M165.0,145.0 L175.0,143.0 L185.0,148.0 L200.0,152.0 L215.0,150.0 L226.0,152.0 L226.0,156.0 L224.0,166.0 L219.0,175.0 L212.0,183.0 L204.0,189.0 L203.0,184.0 L196.0,176.0 L188.0,170.0 L178.0,166.0 L168.0,168.0 L166.0,160.0Z" fill="#ef8797" filter="url(#f6)"/>
<path d="M165.0,145.0 L175.0,143.0 L185.0,148.0 L200.0,152.0 L215.0,150.0 L226.0,152.0 L226.0,156.0 L224.0,166.0 L219.0,175.0 L212.0,183.0 L204.0,189.0 L203.0,184.0 L196.0,176.0 L188.0,170.0 L178.0,166.0 L168.0,168.0 L166.0,160.0Z" fill="#17a0c6" filter="url(#f7)"/>
<path d="M165.0,145.0 L175.0,143.0 L185.0,148.0 L200.0,152.0 L215.0,150.0 L226.0,152.0 L226.0,156.0 L224.0,166.0 L219.0,175.0 L212.0,183.0 L204.0,189.0 L203.0,184.0 L196.0,176.0 L188.0,170.0 L178.0,166.0 L168.0,168.0 L166.0,160.0Z" fill="#0f9e86" filter="url(#f8)"/>
<path d="M168.0,168.0 L178.0,166.0 L188.0,170.0 L196.0,176.0 L203.0,184.0 L204.0,189.0 L196.0,195.0 L191.0,196.0 L185.0,193.0 L178.0,188.0 L170.0,181.0 L165.0,176.0Z" fill="#17a3c8" filter="url(#f9)"/>
<path d="M168.0,168.0 L178.0,166.0 L188.0,170.0 L196.0,176.0 L203.0,184.0 L204.0,189.0 L196.0,195.0 L191.0,196.0 L185.0,193.0 L178.0,188.0 L170.0,181.0 L165.0,176.0Z" fill="#ee8a98" filter="url(#f10)"/>
<path d="M191.0,84.0 L182.5,83.8 L175.0,81.2 L167.5,80.0 L160.0,75.0 L153.8,71.2 L152.5,66.2 L155.0,62.5 L165.0,61.2 L175.0,59.5 L178.8,53.8 L180.5,52.5 L182.5,60.0 L190.0,62.5 L193.8,65.0 L196.0,68.8 L196.0,76.0Z" fill="#b9a8dc" filter="url(#f11)"/>
<path d="M196.0,68.8 L200.0,66.2 L203.8,63.8 L205.5,58.8 L207.5,62.5 L210.0,67.5 L215.0,70.0 L222.5,72.5 L226.0,76.0 L229.0,86.0 L230.0,100.0 L224.0,108.0 L212.0,110.0 L200.0,108.0 L190.0,104.0 L184.0,99.0 L188.8,88.8 L191.0,84.0 L196.0,76.0Z" fill="#18a5c9" filter="url(#f12)"/>
<path d="M196.0,68.8 L200.0,66.2 L203.8,63.8 L205.5,58.8 L207.5,62.5 L210.0,67.5 L215.0,70.0 L222.5,72.5 L226.0,76.0 L229.0,86.0 L230.0,100.0 L224.0,108.0 L212.0,110.0 L200.0,108.0 L190.0,104.0 L184.0,99.0 L188.8,88.8 L191.0,84.0 L196.0,76.0Z" fill="#12a39c" filter="url(#f13)"/>
<path d="M222.5,72.5 L226.2,67.5 L232.5,65.0 L242.5,65.0 L250.0,67.5 L252.0,75.0 L252.0,85.0 L251.2,95.0 L250.0,105.0 L240.0,106.0 L230.0,100.0 L229.0,86.0 L226.0,76.0Z" fill="#13a49e" filter="url(#f14)"/>
<path d="M250.0,105.0 L251.2,112.5 L255.0,120.0 L262.0,123.0 L271.0,123.5 L271.0,127.0 L262.0,128.0 L255.0,128.5 L250.0,132.0 L252.0,140.0 L246.0,138.0 L238.0,139.0 L231.0,142.0 L224.0,140.0 L215.0,134.0 L212.0,122.0 L212.0,110.0 L224.0,108.0 L230.0,100.0 L240.0,106.0Z" fill="#0fa080" filter="url(#f15)"/>
<clipPath id="cpo"><path d="M83.0,157.0 L86.0,151.0 L90.0,143.0 L95.0,136.0 L101.0,133.0 L107.0,131.0 L113.0,130.5 L119.0,131.5 L121.0,133.0 L126.0,129.5 L132.0,126.0 L140.0,123.5 L146.0,121.0 L153.0,119.5 L158.0,118.0 L162.0,115.0 L166.0,114.0 L170.0,110.0 L175.0,106.0 L180.0,100.0 L184.0,94.0 L188.5,89.0 L192.0,84.5 L182.5,83.8 L175.0,81.2 L167.5,80.0 L160.0,75.0 L153.8,71.2 L152.5,66.2 L155.0,62.5 L165.0,61.2 L175.0,59.5 L178.8,53.8 L180.5,52.5 L182.5,60.0 L190.0,62.5 L193.8,65.0 L196.0,68.8 L200.0,66.2 L203.8,63.8 L205.5,58.8 L207.5,62.5 L210.0,67.5 L215.0,70.0 L222.5,72.5 L226.2,67.5 L232.5,65.0 L242.5,65.0 L250.0,67.5 L252.0,75.0 L252.0,85.0 L251.2,95.0 L250.0,105.0 L251.2,112.5 L255.0,120.0 L262.0,123.0 L271.0,123.5 L271.0,127.0 L262.0,128.0 L255.0,128.5 L250.0,132.0 L252.0,140.0 L246.0,138.0 L238.0,139.0 L231.0,142.0 L227.0,148.0 L226.0,156.0 L224.0,166.0 L219.0,175.0 L212.0,183.0 L204.0,189.0 L196.0,195.0 L191.0,196.0 L185.0,193.0 L178.0,188.0 L170.0,181.0 L162.0,176.0 L155.0,172.0 L150.0,171.0 L147.0,174.0 L141.0,176.5 L130.0,176.5 L120.0,175.0 L113.8,173.3 L105.8,166.5 L100.0,162.0 L92.0,160.0 L85.0,158.5Z"/></clipPath><g clip-path="url(#cpo)">
<path d="M83.0,157.0 L86.0,151.0 L90.0,143.0 L95.0,136.0 L101.0,133.0 L107.0,131.0 L113.0,130.0 L119.0,131.5 L121.0,133.0 L124.0,140.0 L123.0,148.0 L118.8,154.6 L109.6,159.0 L102.0,163.8 L100.0,160.0 L92.0,159.0 L85.0,158.5Z" fill="#1ba2d6" stroke="#1ba2d6" stroke-width="5" stroke-linejoin="round" filter="url(#f16)"/>
<path d="M102.0,163.8 L109.6,159.0 L118.8,154.6 L124.6,152.3 L135.0,151.0 L145.0,153.0 L150.0,158.0 L150.0,171.0 L147.0,174.0 L141.0,176.5 L130.0,176.5 L121.0,175.4 L113.8,173.3 L105.8,168.0Z" fill="#88b3e6" stroke="#88b3e6" stroke-width="5" stroke-linejoin="round" filter="url(#f17)"/>
<path d="M121.0,133.0 L126.0,129.5 L132.0,126.0 L140.0,123.5 L146.0,121.0 L153.0,119.5 L158.0,118.0 L162.0,115.0 L163.0,120.0 L160.0,130.0 L160.0,138.0 L165.0,145.0 L168.0,155.0 L166.0,165.0 L165.0,176.0 L162.0,176.0 L155.0,172.0 L150.0,171.0 L150.0,158.0 L145.0,153.0 L135.0,151.0 L124.6,152.3 L123.0,148.0 L124.0,140.0Z" fill="#f08a86" stroke="#f08a86" stroke-width="5" stroke-linejoin="round" filter="url(#f18)"/>
<path d="M162.0,115.0 L166.0,114.0 L170.0,110.0 L175.0,106.0 L180.0,100.0 L184.0,99.0 L190.0,104.0 L200.0,108.0 L212.0,110.0 L212.0,122.0 L215.0,134.0 L224.0,140.0 L231.0,142.0 L227.0,148.0 L226.0,155.0 L220.0,155.0 L200.0,157.5 L182.5,155.0 L167.5,150.0 L164.0,146.0 L160.0,138.0 L160.0,130.0 L163.0,120.0Z" fill="#0f9e86" stroke="#0f9e86" stroke-width="5" stroke-linejoin="round" filter="url(#f19)"/>
<path d="M162.0,115.0 L166.0,114.0 L170.0,110.0 L175.0,106.0 L180.0,100.0 L184.0,99.0 L190.0,104.0 L200.0,108.0 L212.0,110.0 L212.0,122.0 L215.0,134.0 L224.0,140.0 L231.0,142.0 L227.0,148.0 L226.0,155.0 L220.0,155.0 L200.0,157.5 L182.5,155.0 L167.5,150.0 L164.0,146.0 L160.0,138.0 L160.0,130.0 L163.0,120.0Z" fill="#18a3c9" stroke="#18a3c9" stroke-width="5" stroke-linejoin="round" filter="url(#f20)"/>
<path d="M162.0,115.0 L166.0,114.0 L170.0,110.0 L175.0,106.0 L180.0,100.0 L184.0,99.0 L190.0,104.0 L200.0,108.0 L212.0,110.0 L212.0,122.0 L215.0,134.0 L224.0,140.0 L231.0,142.0 L227.0,148.0 L226.0,155.0 L220.0,155.0 L200.0,157.5 L182.5,155.0 L167.5,150.0 L164.0,146.0 L160.0,138.0 L160.0,130.0 L163.0,120.0Z" fill="#ee8a98" stroke="#ee8a98" stroke-width="5" stroke-linejoin="round" filter="url(#f21)"/>
<path d="M165.0,145.0 L175.0,143.0 L185.0,148.0 L200.0,152.0 L215.0,150.0 L226.0,152.0 L226.0,156.0 L224.0,166.0 L219.0,175.0 L212.0,183.0 L204.0,189.0 L203.0,184.0 L196.0,176.0 L188.0,170.0 L178.0,166.0 L168.0,168.0 L166.0,160.0Z" fill="#ef8797" stroke="#ef8797" stroke-width="5" stroke-linejoin="round" filter="url(#f22)"/>
<path d="M165.0,145.0 L175.0,143.0 L185.0,148.0 L200.0,152.0 L215.0,150.0 L226.0,152.0 L226.0,156.0 L224.0,166.0 L219.0,175.0 L212.0,183.0 L204.0,189.0 L203.0,184.0 L196.0,176.0 L188.0,170.0 L178.0,166.0 L168.0,168.0 L166.0,160.0Z" fill="#17a0c6" stroke="#17a0c6" stroke-width="5" stroke-linejoin="round" filter="url(#f23)"/>
<path d="M165.0,145.0 L175.0,143.0 L185.0,148.0 L200.0,152.0 L215.0,150.0 L226.0,152.0 L226.0,156.0 L224.0,166.0 L219.0,175.0 L212.0,183.0 L204.0,189.0 L203.0,184.0 L196.0,176.0 L188.0,170.0 L178.0,166.0 L168.0,168.0 L166.0,160.0Z" fill="#0f9e86" stroke="#0f9e86" stroke-width="5" stroke-linejoin="round" filter="url(#f24)"/>
<path d="M168.0,168.0 L178.0,166.0 L188.0,170.0 L196.0,176.0 L203.0,184.0 L204.0,189.0 L196.0,195.0 L191.0,196.0 L185.0,193.0 L178.0,188.0 L170.0,181.0 L165.0,176.0Z" fill="#17a3c8" stroke="#17a3c8" stroke-width="5" stroke-linejoin="round" filter="url(#f25)"/>
<path d="M168.0,168.0 L178.0,166.0 L188.0,170.0 L196.0,176.0 L203.0,184.0 L204.0,189.0 L196.0,195.0 L191.0,196.0 L185.0,193.0 L178.0,188.0 L170.0,181.0 L165.0,176.0Z" fill="#ee8a98" stroke="#ee8a98" stroke-width="5" stroke-linejoin="round" filter="url(#f26)"/>
<path d="M191.0,84.0 L182.5,83.8 L175.0,81.2 L167.5,80.0 L160.0,75.0 L153.8,71.2 L152.5,66.2 L155.0,62.5 L165.0,61.2 L175.0,59.5 L178.8,53.8 L180.5,52.5 L182.5,60.0 L190.0,62.5 L193.8,65.0 L196.0,68.8 L196.0,76.0Z" fill="#b9a8dc" stroke="#b9a8dc" stroke-width="5" stroke-linejoin="round" filter="url(#f27)"/>
<path d="M196.0,68.8 L200.0,66.2 L203.8,63.8 L205.5,58.8 L207.5,62.5 L210.0,67.5 L215.0,70.0 L222.5,72.5 L226.0,76.0 L229.0,86.0 L230.0,100.0 L224.0,108.0 L212.0,110.0 L200.0,108.0 L190.0,104.0 L184.0,99.0 L188.8,88.8 L191.0,84.0 L196.0,76.0Z" fill="#18a5c9" stroke="#18a5c9" stroke-width="5" stroke-linejoin="round" filter="url(#f28)"/>
<path d="M196.0,68.8 L200.0,66.2 L203.8,63.8 L205.5,58.8 L207.5,62.5 L210.0,67.5 L215.0,70.0 L222.5,72.5 L226.0,76.0 L229.0,86.0 L230.0,100.0 L224.0,108.0 L212.0,110.0 L200.0,108.0 L190.0,104.0 L184.0,99.0 L188.8,88.8 L191.0,84.0 L196.0,76.0Z" fill="#12a39c" stroke="#12a39c" stroke-width="5" stroke-linejoin="round" filter="url(#f29)"/>
<path d="M222.5,72.5 L226.2,67.5 L232.5,65.0 L242.5,65.0 L250.0,67.5 L252.0,75.0 L252.0,85.0 L251.2,95.0 L250.0,105.0 L240.0,106.0 L230.0,100.0 L229.0,86.0 L226.0,76.0Z" fill="#13a49e" stroke="#13a49e" stroke-width="5" stroke-linejoin="round" filter="url(#f30)"/>
<path d="M250.0,105.0 L251.2,112.5 L255.0,120.0 L262.0,123.0 L271.0,123.5 L271.0,127.0 L262.0,128.0 L255.0,128.5 L250.0,132.0 L252.0,140.0 L246.0,138.0 L238.0,139.0 L231.0,142.0 L224.0,140.0 L215.0,134.0 L212.0,122.0 L212.0,110.0 L224.0,108.0 L230.0,100.0 L240.0,106.0Z" fill="#0fa080" stroke="#0fa080" stroke-width="5" stroke-linejoin="round" filter="url(#f31)"/>
</g>
<path d="M151.0,87.0 L155.0,86.0 L158.5,88.0 L159.5,92.0 L157.5,95.0 L156.0,99.0 L156.5,104.0 L155.0,109.0 L153.0,110.0 L152.5,104.0 L151.0,99.0 L149.5,95.0 L150.0,90.0Z" fill="#b0b63a" filter="url(#f32)"/>
<path d="M246.0,200.0 L249.5,202.5 L254.5,206.0 L257.5,208.5 L257.5,211.5 L255.8,214.0 L256.0,219.0 L255.0,223.0 L257.5,228.5 L259.5,234.5 L257.0,234.5 L253.0,229.0 L250.0,225.0 L248.5,220.0 L249.0,214.0 L248.5,208.5 L246.8,204.0Z" fill="#e8834c" filter="url(#f33)"/>
<path d="M31.0,170.0 L33.5,168.8 L35.5,171.0 L35.0,175.0 L35.5,179.0 L34.0,183.0 L31.5,185.0 L28.5,184.5 L27.0,181.0 L27.5,176.0 L29.5,172.5Z" fill="#ef8a2e" filter="url(#f34)"/>
<path d="M38.0,214.0 L39.5,210.0 L42.0,207.5 L43.0,205.0 L45.0,204.0 L46.5,205.5 L45.0,207.5 L43.5,209.5 L41.5,212.5 L39.5,214.5Z" fill="#6bb03e" filter="url(#f35)"/>
<path d="M34,172.5 L41.5,169.6" stroke="#2a9fd6" stroke-width="1"/>
<g transform="translate(0 250)">
<path d="M101.8,34.3 Q108,36.4 118,40.6 L134.5,47 L133,47.8 L117,42.4 Q107,38.7 101.6,35.8Z" fill="#3a9ad6" fill-opacity="0.75"/>
<path d="M83.0,157.0 L86.0,151.0 L90.0,143.0 L95.0,136.0 L101.0,133.0 L107.0,131.0 L113.0,130.5 L119.0,131.5 L121.0,133.0 L126.0,129.5 L132.0,126.0 L140.0,123.5 L146.0,121.0 L153.0,119.5 L158.0,118.0 L162.0,115.0 L166.0,114.0 L170.0,110.0 L175.0,106.0 L180.0,100.0 L184.0,94.0 L188.5,89.0 L192.0,84.5 L182.5,83.8 L175.0,81.2 L167.5,80.0 L160.0,75.0 L153.8,71.2 L152.5,66.2 L155.0,62.5 L165.0,61.2 L175.0,59.5 L178.8,53.8 L180.5,52.5 L182.5,60.0 L190.0,62.5 L193.8,65.0 L196.0,68.8 L200.0,66.2 L203.8,63.8 L205.5,58.8 L207.5,62.5 L210.0,67.5 L215.0,70.0 L222.5,72.5 L226.2,67.5 L232.5,65.0 L242.5,65.0 L250.0,67.5 L252.0,75.0 L252.0,85.0 L251.2,95.0 L250.0,105.0 L251.2,112.5 L255.0,120.0 L262.0,123.0 L271.0,123.5 L271.0,127.0 L262.0,128.0 L255.0,128.5 L250.0,132.0 L252.0,140.0 L246.0,138.0 L238.0,139.0 L231.0,142.0 L227.0,148.0 L226.0,156.0 L224.0,166.0 L219.0,175.0 L212.0,183.0 L204.0,189.0 L196.0,195.0 L191.0,196.0 L185.0,193.0 L178.0,188.0 L170.0,181.0 L162.0,176.0 L155.0,172.0 L150.0,171.0 L147.0,174.0 L141.0,176.5 L130.0,176.5 L120.0,175.0 L113.8,173.3 L105.8,166.5 L100.0,162.0 L92.0,160.0 L85.0,158.5Z" fill="#3099d8" filter="url(#f36)"/>
<g clip-path="url(#cpo)">
<path d="M83.0,157.0 L86.0,151.0 L90.0,143.0 L95.0,136.0 L101.0,133.0 L107.0,131.0 L113.0,130.5 L119.0,131.5 L121.0,133.0 L126.0,129.5 L132.0,126.0 L140.0,123.5 L146.0,121.0 L153.0,119.5 L158.0,118.0 L162.0,115.0 L166.0,114.0 L170.0,110.0 L175.0,106.0 L180.0,100.0 L184.0,94.0 L188.5,89.0 L192.0,84.5 L182.5,83.8 L175.0,81.2 L167.5,80.0 L160.0,75.0 L153.8,71.2 L152.5,66.2 L155.0,62.5 L165.0,61.2 L175.0,59.5 L178.8,53.8 L180.5,52.5 L182.5,60.0 L190.0,62.5 L193.8,65.0 L196.0,68.8 L200.0,66.2 L203.8,63.8 L205.5,58.8 L207.5,62.5 L210.0,67.5 L215.0,70.0 L222.5,72.5 L226.2,67.5 L232.5,65.0 L242.5,65.0 L250.0,67.5 L252.0,75.0 L252.0,85.0 L251.2,95.0 L250.0,105.0 L251.2,112.5 L255.0,120.0 L262.0,123.0 L271.0,123.5 L271.0,127.0 L262.0,128.0 L255.0,128.5 L250.0,132.0 L252.0,140.0 L246.0,138.0 L238.0,139.0 L231.0,142.0 L227.0,148.0 L226.0,156.0 L224.0,166.0 L219.0,175.0 L212.0,183.0 L204.0,189.0 L196.0,195.0 L191.0,196.0 L185.0,193.0 L178.0,188.0 L170.0,181.0 L162.0,176.0 L155.0,172.0 L150.0,171.0 L147.0,174.0 L141.0,176.5 L130.0,176.5 L120.0,175.0 L113.8,173.3 L105.8,166.5 L100.0,162.0 L92.0,160.0 L85.0,158.5Z" fill="#3099d8" filter="url(#f37)"/>
<path d="M191.0,84.0 L182.5,83.8 L175.0,81.2 L167.5,80.0 L160.0,75.0 L153.8,71.2 L152.5,66.2 L155.0,62.5 L165.0,61.2 L175.0,59.5 L178.8,53.8 L180.5,52.5 L182.5,60.0 L190.0,62.5 L193.8,65.0 L196.0,68.8 L196.0,76.0Z" fill="#3099d8" stroke="#3099d8" stroke-width="5" stroke-linejoin="round" filter="url(#f38)"/>
<path d="M186.0,86.0 L196.0,80.0 L210.0,84.0 L220.0,90.0 L224.0,100.0 L220.0,110.0 L205.0,114.0 L192.0,110.0 L186.0,100.0Z" fill="#3099d8" stroke="#3099d8" stroke-width="5" stroke-linejoin="round" filter="url(#f39)"/>
<path d="M226.0,66.0 L240.0,64.0 L250.0,67.0 L252.0,80.0 L251.0,100.0 L252.0,118.0 L248.0,130.0 L240.0,128.0 L232.0,120.0 L228.0,105.0 L225.0,90.0Z" fill="#3099d8" stroke="#3099d8" stroke-width="5" stroke-linejoin="round" filter="url(#f40)"/>
<path d="M215.0,118.0 L235.0,122.0 L250.0,132.0 L246.0,140.0 L232.0,143.0 L222.0,140.0 L214.0,130.0Z" fill="#3099d8" stroke="#3099d8" stroke-width="5" stroke-linejoin="round" filter="url(#f41)"/>
<path d="M83.0,157.0 L86.0,151.0 L90.0,143.0 L95.0,136.0 L101.0,133.0 L107.0,131.0 L113.0,130.0 L119.0,131.5 L121.0,133.0 L124.0,140.0 L123.0,148.0 L118.8,154.6 L109.6,159.0 L102.0,163.8 L100.0,160.0 L92.0,159.0 L85.0,158.5Z" fill="#3099d8" stroke="#3099d8" stroke-width="5" stroke-linejoin="round" filter="url(#f42)"/>
<path d="M102.0,163.8 L109.6,159.0 L118.8,154.6 L124.6,152.3 L135.0,151.0 L145.0,153.0 L150.0,158.0 L150.0,171.0 L147.0,174.0 L141.0,176.5 L130.0,176.5 L121.0,175.4 L113.8,173.3 L105.8,168.0Z" fill="#3099d8" stroke="#3099d8" stroke-width="5" stroke-linejoin="round" filter="url(#f43)"/>
<path d="M121.0,133.0 L126.0,129.5 L132.0,126.0 L140.0,123.5 L146.0,121.0 L153.0,119.5 L158.0,118.0 L162.0,115.0 L163.0,120.0 L160.0,130.0 L160.0,138.0 L165.0,145.0 L168.0,155.0 L166.0,165.0 L165.0,176.0 L162.0,176.0 L155.0,172.0 L150.0,171.0 L150.0,158.0 L145.0,153.0 L135.0,151.0 L124.6,152.3 L123.0,148.0 L124.0,140.0Z" fill="#3099d8" stroke="#3099d8" stroke-width="5" stroke-linejoin="round" filter="url(#f44)"/>
<path d="M165.0,145.0 L175.0,143.0 L185.0,148.0 L200.0,152.0 L215.0,150.0 L226.0,152.0 L226.0,156.0 L224.0,166.0 L219.0,175.0 L212.0,183.0 L204.0,189.0 L203.0,184.0 L196.0,176.0 L188.0,170.0 L178.0,166.0 L168.0,168.0 L166.0,160.0Z" fill="#3099d8" stroke="#3099d8" stroke-width="5" stroke-linejoin="round" filter="url(#f45)"/>
<path d="M168.0,168.0 L178.0,166.0 L188.0,170.0 L196.0,176.0 L203.0,184.0 L204.0,189.0 L196.0,195.0 L191.0,196.0 L185.0,193.0 L178.0,188.0 L170.0,181.0 L165.0,176.0Z" fill="#3099d8" stroke="#3099d8" stroke-width="5" stroke-linejoin="round" filter="url(#f46)"/>
<path d="M83.0,157.0 L86.0,151.0 L90.0,143.0 L95.0,136.0 L101.0,133.0 L107.0,131.0 L113.0,130.5 L119.0,131.5 L121.0,133.0 L126.0,129.5 L132.0,126.0 L140.0,123.5 L146.0,121.0 L153.0,119.5 L158.0,118.0 L162.0,115.0 L166.0,114.0 L170.0,110.0 L175.0,106.0 L180.0,100.0 L184.0,94.0 L188.5,89.0 L192.0,84.5 L182.5,83.8 L175.0,81.2 L167.5,80.0 L160.0,75.0 L153.8,71.2 L152.5,66.2 L155.0,62.5 L165.0,61.2 L175.0,59.5 L178.8,53.8 L180.5,52.5 L182.5,60.0 L190.0,62.5 L193.8,65.0 L196.0,68.8 L200.0,66.2 L203.8,63.8 L205.5,58.8 L207.5,62.5 L210.0,67.5 L215.0,70.0 L222.5,72.5 L226.2,67.5 L232.5,65.0 L242.5,65.0 L250.0,67.5 L252.0,75.0 L252.0,85.0 L251.2,95.0 L250.0,105.0 L251.2,112.5 L255.0,120.0 L262.0,123.0 L271.0,123.5 L271.0,127.0 L262.0,128.0 L255.0,128.5 L250.0,132.0 L252.0,140.0 L246.0,138.0 L238.0,139.0 L231.0,142.0 L227.0,148.0 L226.0,156.0 L224.0,166.0 L219.0,175.0 L212.0,183.0 L204.0,189.0 L196.0,195.0 L191.0,196.0 L185.0,193.0 L178.0,188.0 L170.0,181.0 L162.0,176.0 L155.0,172.0 L150.0,171.0 L147.0,174.0 L141.0,176.5 L130.0,176.5 L120.0,175.0 L113.8,173.3 L105.8,166.5 L100.0,162.0 L92.0,160.0 L85.0,158.5Z" fill="#a0a0a0" filter="url(#f47)"/>
</g>
<path d="M151.0,87.0 L155.0,86.0 L158.5,88.0 L159.5,92.0 L157.5,95.0 L156.0,99.0 L156.5,104.0 L155.0,109.0 L153.0,110.0 L152.5,104.0 L151.0,99.0 L149.5,95.0 L150.0,90.0Z" fill="#3099d8" filter="url(#f48)"/>
<path d="M246.5,200.4 L249.6,203.0 L254.5,207.7 L255.5,210.4 L254.0,213.0 L254.0,219.0 L253.8,222.3 L256.3,228.5 L258.5,234.2 L256.5,233.5 L252.5,228.0 L249.5,224.0 L249.0,219.2 L250.0,213.0 L249.2,207.7 L247.5,203.5Z" fill="#3099d8" filter="url(#f49)"/>
<path d="M31.0,170.0 L33.5,168.8 L35.5,171.0 L35.0,175.0 L35.5,179.0 L34.0,183.0 L31.5,185.0 L28.5,184.5 L27.0,181.0 L27.5,176.0 L29.5,172.5Z" fill="#3099d8" filter="url(#f50)"/>
<path d="M38.0,214.0 L39.5,210.0 L42.0,207.5 L43.0,205.0 L45.0,204.0 L46.5,205.5 L45.0,207.5 L43.5,209.5 L41.5,212.5 L39.5,214.5Z" fill="#3099d8" filter="url(#f51)"/>
</g>
<g transform="translate(301.0 78.9) scale(0.345 0.332)">
<path d="M102.2,34.6 L134,47.3" stroke="#e0e0e0" stroke-width="3"/>
<path d="M83.0,157.0 L86.0,151.0 L90.0,143.0 L95.0,136.0 L101.0,133.0 L107.0,131.0 L113.0,130.5 L119.0,131.5 L121.0,133.0 L126.0,129.5 L132.0,126.0 L140.0,123.5 L146.0,121.0 L153.0,119.5 L158.0,118.0 L162.0,115.0 L166.0,114.0 L170.0,110.0 L175.0,106.0 L180.0,100.0 L184.0,94.0 L188.5,89.0 L192.0,84.5 L182.5,83.8 L175.0,81.2 L167.5,80.0 L160.0,75.0 L153.8,71.2 L152.5,66.2 L155.0,62.5 L165.0,61.2 L175.0,59.5 L178.8,53.8 L180.5,52.5 L182.5,60.0 L190.0,62.5 L193.8,65.0 L196.0,68.8 L200.0,66.2 L203.8,63.8 L205.5,58.8 L207.5,62.5 L210.0,67.5 L215.0,70.0 L222.5,72.5 L226.2,67.5 L232.5,65.0 L242.5,65.0 L250.0,67.5 L252.0,75.0 L252.0,85.0 L251.2,95.0 L250.0,105.0 L251.2,112.5 L255.0,120.0 L262.0,123.0 L271.0,123.5 L271.0,127.0 L262.0,128.0 L255.0,128.5 L250.0,132.0 L252.0,140.0 L246.0,138.0 L238.0,139.0 L231.0,142.0 L227.0,148.0 L226.0,156.0 L224.0,166.0 L219.0,175.0 L212.0,183.0 L204.0,189.0 L196.0,195.0 L191.0,196.0 L185.0,193.0 L178.0,188.0 L170.0,181.0 L162.0,176.0 L155.0,172.0 L150.0,171.0 L147.0,174.0 L141.0,176.5 L130.0,176.5 L120.0,175.0 L113.8,173.3 L105.8,166.5 L100.0,162.0 L92.0,160.0 L85.0,158.5Z" fill="#bfbfbf" filter="url(#f52)"/>
<path d="M151.0,87.0 L155.0,86.0 L158.5,88.0 L159.5,92.0 L157.5,95.0 L156.0,99.0 L156.5,104.0 L155.0,109.0 L153.0,110.0 L152.5,104.0 L151.0,99.0 L149.5,95.0 L150.0,90.0Z" fill="#dddddd"/>
<path d="M246.0,200.0 L249.5,202.5 L254.5,206.0 L257.5,208.5 L257.5,211.5 L255.8,214.0 L256.0,219.0 L255.0,223.0 L257.5,228.5 L259.5,234.5 L257.0,234.5 L253.0,229.0 L250.0,225.0 L248.5,220.0 L249.0,214.0 L248.5,208.5 L246.8,204.0Z" fill="#dddddd"/>
<path d="M31.0,170.0 L33.5,168.8 L35.5,171.0 L35.0,175.0 L35.5,179.0 L34.0,183.0 L31.5,185.0 L28.5,184.5 L27.0,181.0 L27.5,176.0 L29.5,172.5Z" fill="#dddddd"/>
<path d="M38.0,214.0 L39.5,210.0 L42.0,207.5 L43.0,205.0 L45.0,204.0 L46.5,205.5 L45.0,207.5 L43.5,209.5 L41.5,212.5 L39.5,214.5Z" fill="#dddddd"/>
<path d="M226.0,68.0 L238.0,65.0 L250.0,67.0 L252.0,80.0 L251.0,96.0 L244.0,100.0 L234.0,99.0 L228.0,92.0 L226.0,80.0Z" fill="#bf9fe0" stroke="#bf9fe0" stroke-width="8" stroke-linejoin="round" filter="url(#f56)"/>
<path d="M220.0,98.0 L252.0,96.0 L258.0,110.0 L255.0,128.0 L235.0,128.0 L222.0,118.0Z" fill="#c4a4e4" filter="url(#f56)"/>
<path d="M226.0,68.0 L238.0,65.0 L250.0,67.0 L252.0,80.0 L251.0,96.0 L244.0,100.0 L234.0,99.0 L228.0,92.0 L226.0,80.0Z" fill="#b08cd6" filter="url(#f54)"/>
</g>
<g transform="translate(414.0 78.9) scale(0.345 0.332)">
<path d="M102.2,34.6 L134,47.3" stroke="#e0e0e0" stroke-width="3"/>
<path d="M83.0,157.0 L86.0,151.0 L90.0,143.0 L95.0,136.0 L101.0,133.0 L107.0,131.0 L113.0,130.5 L119.0,131.5 L121.0,133.0 L126.0,129.5 L132.0,126.0 L140.0,123.5 L146.0,121.0 L153.0,119.5 L158.0,118.0 L162.0,115.0 L166.0,114.0 L170.0,110.0 L175.0,106.0 L180.0,100.0 L184.0,94.0 L188.5,89.0 L192.0,84.5 L182.5,83.8 L175.0,81.2 L167.5,80.0 L160.0,75.0 L153.8,71.2 L152.5,66.2 L155.0,62.5 L165.0,61.2 L175.0,59.5 L178.8,53.8 L180.5,52.5 L182.5,60.0 L190.0,62.5 L193.8,65.0 L196.0,68.8 L200.0,66.2 L203.8,63.8 L205.5,58.8 L207.5,62.5 L210.0,67.5 L215.0,70.0 L222.5,72.5 L226.2,67.5 L232.5,65.0 L242.5,65.0 L250.0,67.5 L252.0,75.0 L252.0,85.0 L251.2,95.0 L250.0,105.0 L251.2,112.5 L255.0,120.0 L262.0,123.0 L271.0,123.5 L271.0,127.0 L262.0,128.0 L255.0,128.5 L250.0,132.0 L252.0,140.0 L246.0,138.0 L238.0,139.0 L231.0,142.0 L227.0,148.0 L226.0,156.0 L224.0,166.0 L219.0,175.0 L212.0,183.0 L204.0,189.0 L196.0,195.0 L191.0,196.0 L185.0,193.0 L178.0,188.0 L170.0,181.0 L162.0,176.0 L155.0,172.0 L150.0,171.0 L147.0,174.0 L141.0,176.5 L130.0,176.5 L120.0,175.0 L113.8,173.3 L105.8,166.5 L100.0,162.0 L92.0,160.0 L85.0,158.5Z" fill="#bfbfbf" filter="url(#f53)"/>
<path d="M151.0,87.0 L155.0,86.0 L158.5,88.0 L159.5,92.0 L157.5,95.0 L156.0,99.0 L156.5,104.0 L155.0,109.0 L153.0,110.0 L152.5,104.0 L151.0,99.0 L149.5,95.0 L150.0,90.0Z" fill="#dddddd"/>
<path d="M246.0,200.0 L249.5,202.5 L254.5,206.0 L257.5,208.5 L257.5,211.5 L255.8,214.0 L256.0,219.0 L255.0,223.0 L257.5,228.5 L259.5,234.5 L257.0,234.5 L253.0,229.0 L250.0,225.0 L248.5,220.0 L249.0,214.0 L248.5,208.5 L246.8,204.0Z" fill="#dddddd"/>
<path d="M31.0,170.0 L33.5,168.8 L35.5,171.0 L35.0,175.0 L35.5,179.0 L34.0,183.0 L31.5,185.0 L28.5,184.5 L27.0,181.0 L27.5,176.0 L29.5,172.5Z" fill="#dddddd"/>
<path d="M38.0,214.0 L39.5,210.0 L42.0,207.5 L43.0,205.0 L45.0,204.0 L46.5,205.5 L45.0,207.5 L43.5,209.5 L41.5,212.5 L39.5,214.5Z" fill="#dddddd"/>
<path d="M226.0,68.0 L238.0,65.0 L250.0,67.0 L252.0,80.0 L251.0,96.0 L244.0,100.0 L234.0,99.0 L228.0,92.0 L226.0,80.0Z" fill="#bf9fe0" stroke="#bf9fe0" stroke-width="8" stroke-linejoin="round" filter="url(#f56)"/>
<path d="M220.0,98.0 L252.0,96.0 L258.0,110.0 L255.0,128.0 L235.0,128.0 L222.0,118.0Z" fill="#c4a4e4" filter="url(#f56)"/>
<path d="M226.0,68.0 L238.0,65.0 L250.0,67.0 L252.0,80.0 L251.0,96.0 L244.0,100.0 L234.0,99.0 L228.0,92.0 L226.0,80.0Z" fill="#b08cd6" filter="url(#f54)"/>
</g>
<g transform="translate(301.0 187.9) scale(0.345 0.332)">
<path d="M102.2,34.6 L134,47.3" stroke="#e0e0e0" stroke-width="3"/>
<path d="M83.0,157.0 L86.0,151.0 L90.0,143.0 L95.0,136.0 L101.0,133.0 L107.0,131.0 L113.0,130.5 L119.0,131.5 L121.0,133.0 L126.0,129.5 L132.0,126.0 L140.0,123.5 L146.0,121.0 L153.0,119.5 L158.0,118.0 L162.0,115.0 L166.0,114.0 L170.0,110.0 L175.0,106.0 L180.0,100.0 L184.0,94.0 L188.5,89.0 L192.0,84.5 L182.5,83.8 L175.0,81.2 L167.5,80.0 L160.0,75.0 L153.8,71.2 L152.5,66.2 L155.0,62.5 L165.0,61.2 L175.0,59.5 L178.8,53.8 L180.5,52.5 L182.5,60.0 L190.0,62.5 L193.8,65.0 L196.0,68.8 L200.0,66.2 L203.8,63.8 L205.5,58.8 L207.5,62.5 L210.0,67.5 L215.0,70.0 L222.5,72.5 L226.2,67.5 L232.5,65.0 L242.5,65.0 L250.0,67.5 L252.0,75.0 L252.0,85.0 L251.2,95.0 L250.0,105.0 L251.2,112.5 L255.0,120.0 L262.0,123.0 L271.0,123.5 L271.0,127.0 L262.0,128.0 L255.0,128.5 L250.0,132.0 L252.0,140.0 L246.0,138.0 L238.0,139.0 L231.0,142.0 L227.0,148.0 L226.0,156.0 L224.0,166.0 L219.0,175.0 L212.0,183.0 L204.0,189.0 L196.0,195.0 L191.0,196.0 L185.0,193.0 L178.0,188.0 L170.0,181.0 L162.0,176.0 L155.0,172.0 L150.0,171.0 L147.0,174.0 L141.0,176.5 L130.0,176.5 L120.0,175.0 L113.8,173.3 L105.8,166.5 L100.0,162.0 L92.0,160.0 L85.0,158.5Z" fill="#bfbfbf" filter="url(#f52)"/>
<path d="M151.0,87.0 L155.0,86.0 L158.5,88.0 L159.5,92.0 L157.5,95.0 L156.0,99.0 L156.5,104.0 L155.0,109.0 L153.0,110.0 L152.5,104.0 L151.0,99.0 L149.5,95.0 L150.0,90.0Z" fill="#dddddd"/>
<path d="M246.0,200.0 L249.5,202.5 L254.5,206.0 L257.5,208.5 L257.5,211.5 L255.8,214.0 L256.0,219.0 L255.0,223.0 L257.5,228.5 L259.5,234.5 L257.0,234.5 L253.0,229.0 L250.0,225.0 L248.5,220.0 L249.0,214.0 L248.5,208.5 L246.8,204.0Z" fill="#dddddd"/>
<path d="M31.0,170.0 L33.5,168.8 L35.5,171.0 L35.0,175.0 L35.5,179.0 L34.0,183.0 L31.5,185.0 L28.5,184.5 L27.0,181.0 L27.5,176.0 L29.5,172.5Z" fill="#dddddd"/>
<path d="M38.0,214.0 L39.5,210.0 L42.0,207.5 L43.0,205.0 L45.0,204.0 L46.5,205.5 L45.0,207.5 L43.5,209.5 L41.5,212.5 L39.5,214.5Z" fill="#dddddd"/>
<path d="M191.0,84.0 L182.5,83.8 L175.0,81.2 L167.5,80.0 L160.0,75.0 L153.8,71.2 L152.5,66.2 L155.0,62.5 L165.0,61.2 L175.0,59.5 L178.8,53.8 L180.5,52.5 L182.5,60.0 L190.0,62.5 L193.8,65.0 L196.0,68.8 L196.0,76.0Z" fill="#bf9fe0" stroke="#bf9fe0" stroke-width="8" stroke-linejoin="round" filter="url(#f56)"/>
<path d="M191.0,84.0 L182.5,83.8 L175.0,81.2 L167.5,80.0 L160.0,75.0 L153.8,71.2 L152.5,66.2 L155.0,62.5 L165.0,61.2 L175.0,59.5 L178.8,53.8 L180.5,52.5 L182.5,60.0 L190.0,62.5 L193.8,65.0 L196.0,68.8 L196.0,76.0Z" fill="#b08cd6" filter="url(#f54)"/>
</g>
<g transform="translate(414.0 187.9) scale(0.345 0.332)">
<path d="M102.2,34.6 L134,47.3" stroke="#e0e0e0" stroke-width="3"/>
<path d="M83.0,157.0 L86.0,151.0 L90.0,143.0 L95.0,136.0 L101.0,133.0 L107.0,131.0 L113.0,130.5 L119.0,131.5 L121.0,133.0 L126.0,129.5 L132.0,126.0 L140.0,123.5 L146.0,121.0 L153.0,119.5 L158.0,118.0 L162.0,115.0 L166.0,114.0 L170.0,110.0 L175.0,106.0 L180.0,100.0 L184.0,94.0 L188.5,89.0 L192.0,84.5 L182.5,83.8 L175.0,81.2 L167.5,80.0 L160.0,75.0 L153.8,71.2 L152.5,66.2 L155.0,62.5 L165.0,61.2 L175.0,59.5 L178.8,53.8 L180.5,52.5 L182.5,60.0 L190.0,62.5 L193.8,65.0 L196.0,68.8 L200.0,66.2 L203.8,63.8 L205.5,58.8 L207.5,62.5 L210.0,67.5 L215.0,70.0 L222.5,72.5 L226.2,67.5 L232.5,65.0 L242.5,65.0 L250.0,67.5 L252.0,75.0 L252.0,85.0 L251.2,95.0 L250.0,105.0 L251.2,112.5 L255.0,120.0 L262.0,123.0 L271.0,123.5 L271.0,127.0 L262.0,128.0 L255.0,128.5 L250.0,132.0 L252.0,140.0 L246.0,138.0 L238.0,139.0 L231.0,142.0 L227.0,148.0 L226.0,156.0 L224.0,166.0 L219.0,175.0 L212.0,183.0 L204.0,189.0 L196.0,195.0 L191.0,196.0 L185.0,193.0 L178.0,188.0 L170.0,181.0 L162.0,176.0 L155.0,172.0 L150.0,171.0 L147.0,174.0 L141.0,176.5 L130.0,176.5 L120.0,175.0 L113.8,173.3 L105.8,166.5 L100.0,162.0 L92.0,160.0 L85.0,158.5Z" fill="#bfbfbf" filter="url(#f53)"/>
<path d="M151.0,87.0 L155.0,86.0 L158.5,88.0 L159.5,92.0 L157.5,95.0 L156.0,99.0 L156.5,104.0 L155.0,109.0 L153.0,110.0 L152.5,104.0 L151.0,99.0 L149.5,95.0 L150.0,90.0Z" fill="#dddddd"/>
<path d="M246.0,200.0 L249.5,202.5 L254.5,206.0 L257.5,208.5 L257.5,211.5 L255.8,214.0 L256.0,219.0 L255.0,223.0 L257.5,228.5 L259.5,234.5 L257.0,234.5 L253.0,229.0 L250.0,225.0 L248.5,220.0 L249.0,214.0 L248.5,208.5 L246.8,204.0Z" fill="#dddddd"/>
<path d="M31.0,170.0 L33.5,168.8 L35.5,171.0 L35.0,175.0 L35.5,179.0 L34.0,183.0 L31.5,185.0 L28.5,184.5 L27.0,181.0 L27.5,176.0 L29.5,172.5Z" fill="#dddddd"/>
<path d="M38.0,214.0 L39.5,210.0 L42.0,207.5 L43.0,205.0 L45.0,204.0 L46.5,205.5 L45.0,207.5 L43.5,209.5 L41.5,212.5 L39.5,214.5Z" fill="#dddddd"/>
<path d="M188.8,81.7 L181.5,81.5 L175.2,79.3 L168.8,78.3 L162.4,74.0 L157.1,70.8 L156.0,66.6 L158.2,63.4 L166.7,62.3 L175.2,60.8 L178.4,56.0 L179.8,54.9 L181.5,61.3 L187.9,63.4 L191.1,65.5 L193.0,68.7 L193.0,74.9Z" fill="#bf9fe0" stroke="#bf9fe0" stroke-width="8" stroke-linejoin="round" filter="url(#f56)"/>
<path d="M188.8,81.7 L181.5,81.5 L175.2,79.3 L168.8,78.3 L162.4,74.0 L157.1,70.8 L156.0,66.6 L158.2,63.4 L166.7,62.3 L175.2,60.8 L178.4,56.0 L179.8,54.9 L181.5,61.3 L187.9,63.4 L191.1,65.5 L193.0,68.7 L193.0,74.9Z" fill="#b08cd6" filter="url(#f54)"/>
</g>
<g transform="translate(301.0 296.9) scale(0.345 0.332)">
<path d="M102.2,34.6 L134,47.3" stroke="#e0e0e0" stroke-width="3"/>
<path d="M83.0,157.0 L86.0,151.0 L90.0,143.0 L95.0,136.0 L101.0,133.0 L107.0,131.0 L113.0,130.5 L119.0,131.5 L121.0,133.0 L126.0,129.5 L132.0,126.0 L140.0,123.5 L146.0,121.0 L153.0,119.5 L158.0,118.0 L162.0,115.0 L166.0,114.0 L170.0,110.0 L175.0,106.0 L180.0,100.0 L184.0,94.0 L188.5,89.0 L192.0,84.5 L182.5,83.8 L175.0,81.2 L167.5,80.0 L160.0,75.0 L153.8,71.2 L152.5,66.2 L155.0,62.5 L165.0,61.2 L175.0,59.5 L178.8,53.8 L180.5,52.5 L182.5,60.0 L190.0,62.5 L193.8,65.0 L196.0,68.8 L200.0,66.2 L203.8,63.8 L205.5,58.8 L207.5,62.5 L210.0,67.5 L215.0,70.0 L222.5,72.5 L226.2,67.5 L232.5,65.0 L242.5,65.0 L250.0,67.5 L252.0,75.0 L252.0,85.0 L251.2,95.0 L250.0,105.0 L251.2,112.5 L255.0,120.0 L262.0,123.0 L271.0,123.5 L271.0,127.0 L262.0,128.0 L255.0,128.5 L250.0,132.0 L252.0,140.0 L246.0,138.0 L238.0,139.0 L231.0,142.0 L227.0,148.0 L226.0,156.0 L224.0,166.0 L219.0,175.0 L212.0,183.0 L204.0,189.0 L196.0,195.0 L191.0,196.0 L185.0,193.0 L178.0,188.0 L170.0,181.0 L162.0,176.0 L155.0,172.0 L150.0,171.0 L147.0,174.0 L141.0,176.5 L130.0,176.5 L120.0,175.0 L113.8,173.3 L105.8,166.5 L100.0,162.0 L92.0,160.0 L85.0,158.5Z" fill="#bfbfbf" filter="url(#f52)"/>
<path d="M151.0,87.0 L155.0,86.0 L158.5,88.0 L159.5,92.0 L157.5,95.0 L156.0,99.0 L156.5,104.0 L155.0,109.0 L153.0,110.0 L152.5,104.0 L151.0,99.0 L149.5,95.0 L150.0,90.0Z" fill="#dddddd"/>
<path d="M246.0,200.0 L249.5,202.5 L254.5,206.0 L257.5,208.5 L257.5,211.5 L255.8,214.0 L256.0,219.0 L255.0,223.0 L257.5,228.5 L259.5,234.5 L257.0,234.5 L253.0,229.0 L250.0,225.0 L248.5,220.0 L249.0,214.0 L248.5,208.5 L246.8,204.0Z" fill="#dddddd"/>
<path d="M31.0,170.0 L33.5,168.8 L35.5,171.0 L35.0,175.0 L35.5,179.0 L34.0,183.0 L31.5,185.0 L28.5,184.5 L27.0,181.0 L27.5,176.0 L29.5,172.5Z" fill="#dddddd"/>
<path d="M38.0,214.0 L39.5,210.0 L42.0,207.5 L43.0,205.0 L45.0,204.0 L46.5,205.5 L45.0,207.5 L43.5,209.5 L41.5,212.5 L39.5,214.5Z" fill="#dddddd"/>
<path d="M186.0,70.0 L198.0,64.0 L208.0,62.0 L220.0,68.0 L234.0,70.0 L242.0,80.0 L240.0,96.0 L230.0,108.0 L214.0,116.0 L200.0,117.0 L190.0,110.0 L184.0,96.0 L187.0,82.0Z" fill="#bf9fe0" stroke="#bf9fe0" stroke-width="8" stroke-linejoin="round" filter="url(#f56)"/>
<path d="M186.0,70.0 L198.0,64.0 L208.0,62.0 L220.0,68.0 L234.0,70.0 L242.0,80.0 L240.0,96.0 L230.0,108.0 L214.0,116.0 L200.0,117.0 L190.0,110.0 L184.0,96.0 L187.0,82.0Z" fill="#b08cd6" filter="url(#f54)"/>
</g>
<g transform="translate(414.0 296.9) scale(0.345 0.332)">
<path d="M102.2,34.6 L134,47.3" stroke="#e0e0e0" stroke-width="3"/>
<path d="M83.0,157.0 L86.0,151.0 L90.0,143.0 L95.0,136.0 L101.0,133.0 L107.0,131.0 L113.0,130.5 L119.0,131.5 L121.0,133.0 L126.0,129.5 L132.0,126.0 L140.0,123.5 L146.0,121.0 L153.0,119.5 L158.0,118.0 L162.0,115.0 L166.0,114.0 L170.0,110.0 L175.0,106.0 L180.0,100.0 L184.0,94.0 L188.5,89.0 L192.0,84.5 L182.5,83.8 L175.0,81.2 L167.5,80.0 L160.0,75.0 L153.8,71.2 L152.5,66.2 L155.0,62.5 L165.0,61.2 L175.0,59.5 L178.8,53.8 L180.5,52.5 L182.5,60.0 L190.0,62.5 L193.8,65.0 L196.0,68.8 L200.0,66.2 L203.8,63.8 L205.5,58.8 L207.5,62.5 L210.0,67.5 L215.0,70.0 L222.5,72.5 L226.2,67.5 L232.5,65.0 L242.5,65.0 L250.0,67.5 L252.0,75.0 L252.0,85.0 L251.2,95.0 L250.0,105.0 L251.2,112.5 L255.0,120.0 L262.0,123.0 L271.0,123.5 L271.0,127.0 L262.0,128.0 L255.0,128.5 L250.0,132.0 L252.0,140.0 L246.0,138.0 L238.0,139.0 L231.0,142.0 L227.0,148.0 L226.0,156.0 L224.0,166.0 L219.0,175.0 L212.0,183.0 L204.0,189.0 L196.0,195.0 L191.0,196.0 L185.0,193.0 L178.0,188.0 L170.0,181.0 L162.0,176.0 L155.0,172.0 L150.0,171.0 L147.0,174.0 L141.0,176.5 L130.0,176.5 L120.0,175.0 L113.8,173.3 L105.8,166.5 L100.0,162.0 L92.0,160.0 L85.0,158.5Z" fill="#bfbfbf" filter="url(#f53)"/>
<path d="M151.0,87.0 L155.0,86.0 L158.5,88.0 L159.5,92.0 L157.5,95.0 L156.0,99.0 L156.5,104.0 L155.0,109.0 L153.0,110.0 L152.5,104.0 L151.0,99.0 L149.5,95.0 L150.0,90.0Z" fill="#dddddd"/>
<path d="M246.0,200.0 L249.5,202.5 L254.5,206.0 L257.5,208.5 L257.5,211.5 L255.8,214.0 L256.0,219.0 L255.0,223.0 L257.5,228.5 L259.5,234.5 L257.0,234.5 L253.0,229.0 L250.0,225.0 L248.5,220.0 L249.0,214.0 L248.5,208.5 L246.8,204.0Z" fill="#dddddd"/>
<path d="M31.0,170.0 L33.5,168.8 L35.5,171.0 L35.0,175.0 L35.5,179.0 L34.0,183.0 L31.5,185.0 L28.5,184.5 L27.0,181.0 L27.5,176.0 L29.5,172.5Z" fill="#dddddd"/>
<path d="M38.0,214.0 L39.5,210.0 L42.0,207.5 L43.0,205.0 L45.0,204.0 L46.5,205.5 L45.0,207.5 L43.5,209.5 L41.5,212.5 L39.5,214.5Z" fill="#dddddd"/>
<path d="M189.6,72.6 L199.8,67.5 L208.3,65.8 L218.5,70.9 L230.4,72.6 L237.2,81.1 L235.5,94.7 L227.0,104.9 L213.4,111.7 L201.5,112.6 L193.0,106.6 L187.9,94.7 L190.5,82.8Z" fill="#bf9fe0" stroke="#bf9fe0" stroke-width="8" stroke-linejoin="round" filter="url(#f56)"/>
<path d="M189.6,72.6 L199.8,67.5 L208.3,65.8 L218.5,70.9 L230.4,72.6 L237.2,81.1 L235.5,94.7 L227.0,104.9 L213.4,111.7 L201.5,112.6 L193.0,106.6 L187.9,94.7 L190.5,82.8Z" fill="#b08cd6" filter="url(#f54)"/>
</g>
<g transform="translate(301.0 405.9) scale(0.345 0.332)">
<path d="M102.2,34.6 L134,47.3" stroke="#e0e0e0" stroke-width="3"/>
<path d="M83.0,157.0 L86.0,151.0 L90.0,143.0 L95.0,136.0 L101.0,133.0 L107.0,131.0 L113.0,130.5 L119.0,131.5 L121.0,133.0 L126.0,129.5 L132.0,126.0 L140.0,123.5 L146.0,121.0 L153.0,119.5 L158.0,118.0 L162.0,115.0 L166.0,114.0 L170.0,110.0 L175.0,106.0 L180.0,100.0 L184.0,94.0 L188.5,89.0 L192.0,84.5 L182.5,83.8 L175.0,81.2 L167.5,80.0 L160.0,75.0 L153.8,71.2 L152.5,66.2 L155.0,62.5 L165.0,61.2 L175.0,59.5 L178.8,53.8 L180.5,52.5 L182.5,60.0 L190.0,62.5 L193.8,65.0 L196.0,68.8 L200.0,66.2 L203.8,63.8 L205.5,58.8 L207.5,62.5 L210.0,67.5 L215.0,70.0 L222.5,72.5 L226.2,67.5 L232.5,65.0 L242.5,65.0 L250.0,67.5 L252.0,75.0 L252.0,85.0 L251.2,95.0 L250.0,105.0 L251.2,112.5 L255.0,120.0 L262.0,123.0 L271.0,123.5 L271.0,127.0 L262.0,128.0 L255.0,128.5 L250.0,132.0 L252.0,140.0 L246.0,138.0 L238.0,139.0 L231.0,142.0 L227.0,148.0 L226.0,156.0 L224.0,166.0 L219.0,175.0 L212.0,183.0 L204.0,189.0 L196.0,195.0 L191.0,196.0 L185.0,193.0 L178.0,188.0 L170.0,181.0 L162.0,176.0 L155.0,172.0 L150.0,171.0 L147.0,174.0 L141.0,176.5 L130.0,176.5 L120.0,175.0 L113.8,173.3 L105.8,166.5 L100.0,162.0 L92.0,160.0 L85.0,158.5Z" fill="#bfbfbf" filter="url(#f52)"/>
<path d="M151.0,87.0 L155.0,86.0 L158.5,88.0 L159.5,92.0 L157.5,95.0 L156.0,99.0 L156.5,104.0 L155.0,109.0 L153.0,110.0 L152.5,104.0 L151.0,99.0 L149.5,95.0 L150.0,90.0Z" fill="#dddddd"/>
<path d="M246.0,200.0 L249.5,202.5 L254.5,206.0 L257.5,208.5 L257.5,211.5 L255.8,214.0 L256.0,219.0 L255.0,223.0 L257.5,228.5 L259.5,234.5 L257.0,234.5 L253.0,229.0 L250.0,225.0 L248.5,220.0 L249.0,214.0 L248.5,208.5 L246.8,204.0Z" fill="#dddddd"/>
<path d="M31.0,170.0 L33.5,168.8 L35.5,171.0 L35.0,175.0 L35.5,179.0 L34.0,183.0 L31.5,185.0 L28.5,184.5 L27.0,181.0 L27.5,176.0 L29.5,172.5Z" fill="#dddddd"/>
<path d="M38.0,214.0 L39.5,210.0 L42.0,207.5 L43.0,205.0 L45.0,204.0 L46.5,205.5 L45.0,207.5 L43.5,209.5 L41.5,212.5 L39.5,214.5Z" fill="#dddddd"/>
<path d="M205.0,104.0 L222.0,102.0 L240.0,104.0 L252.0,106.0 L255.0,118.0 L253.0,134.0 L245.0,148.0 L230.0,150.0 L215.0,146.0 L206.0,134.0 L202.0,118.0Z" fill="#bf9fe0" stroke="#bf9fe0" stroke-width="8" stroke-linejoin="round" filter="url(#f56)"/>
<path d="M205.0,104.0 L222.0,102.0 L240.0,104.0 L252.0,106.0 L255.0,118.0 L253.0,134.0 L245.0,148.0 L230.0,150.0 L215.0,146.0 L206.0,134.0 L202.0,118.0Z" fill="#b08cd6" filter="url(#f55)"/>
</g>
<g transform="translate(414.0 405.9) scale(0.345 0.332)">
<path d="M102.2,34.6 L134,47.3" stroke="#e0e0e0" stroke-width="3"/>
<path d="M83.0,157.0 L86.0,151.0 L90.0,143.0 L95.0,136.0 L101.0,133.0 L107.0,131.0 L113.0,130.5 L119.0,131.5 L121.0,133.0 L126.0,129.5 L132.0,126.0 L140.0,123.5 L146.0,121.0 L153.0,119.5 L158.0,118.0 L162.0,115.0 L166.0,114.0 L170.0,110.0 L175.0,106.0 L180.0,100.0 L184.0,94.0 L188.5,89.0 L192.0,84.5 L182.5,83.8 L175.0,81.2 L167.5,80.0 L160.0,75.0 L153.8,71.2 L152.5,66.2 L155.0,62.5 L165.0,61.2 L175.0,59.5 L178.8,53.8 L180.5,52.5 L182.5,60.0 L190.0,62.5 L193.8,65.0 L196.0,68.8 L200.0,66.2 L203.8,63.8 L205.5,58.8 L207.5,62.5 L210.0,67.5 L215.0,70.0 L222.5,72.5 L226.2,67.5 L232.5,65.0 L242.5,65.0 L250.0,67.5 L252.0,75.0 L252.0,85.0 L251.2,95.0 L250.0,105.0 L251.2,112.5 L255.0,120.0 L262.0,123.0 L271.0,123.5 L271.0,127.0 L262.0,128.0 L255.0,128.5 L250.0,132.0 L252.0,140.0 L246.0,138.0 L238.0,139.0 L231.0,142.0 L227.0,148.0 L226.0,156.0 L224.0,166.0 L219.0,175.0 L212.0,183.0 L204.0,189.0 L196.0,195.0 L191.0,196.0 L185.0,193.0 L178.0,188.0 L170.0,181.0 L162.0,176.0 L155.0,172.0 L150.0,171.0 L147.0,174.0 L141.0,176.5 L130.0,176.5 L120.0,175.0 L113.8,173.3 L105.8,166.5 L100.0,162.0 L92.0,160.0 L85.0,158.5Z" fill="#bfbfbf" filter="url(#f53)"/>
<path d="M151.0,87.0 L155.0,86.0 L158.5,88.0 L159.5,92.0 L157.5,95.0 L156.0,99.0 L156.5,104.0 L155.0,109.0 L153.0,110.0 L152.5,104.0 L151.0,99.0 L149.5,95.0 L150.0,90.0Z" fill="#dddddd"/>
<path d="M246.0,200.0 L249.5,202.5 L254.5,206.0 L257.5,208.5 L257.5,211.5 L255.8,214.0 L256.0,219.0 L255.0,223.0 L257.5,228.5 L259.5,234.5 L257.0,234.5 L253.0,229.0 L250.0,225.0 L248.5,220.0 L249.0,214.0 L248.5,208.5 L246.8,204.0Z" fill="#dddddd"/>
<path d="M31.0,170.0 L33.5,168.8 L35.5,171.0 L35.0,175.0 L35.5,179.0 L34.0,183.0 L31.5,185.0 L28.5,184.5 L27.0,181.0 L27.5,176.0 L29.5,172.5Z" fill="#dddddd"/>
<path d="M38.0,214.0 L39.5,210.0 L42.0,207.5 L43.0,205.0 L45.0,204.0 L46.5,205.5 L45.0,207.5 L43.5,209.5 L41.5,212.5 L39.5,214.5Z" fill="#dddddd"/>
<path d="M205.0,104.0 L222.0,102.0 L240.0,104.0 L252.0,106.0 L255.0,118.0 L253.0,134.0 L245.0,148.0 L230.0,150.0 L215.0,146.0 L206.0,134.0 L202.0,118.0Z" fill="#bf9fe0" stroke="#bf9fe0" stroke-width="8" stroke-linejoin="round" filter="url(#f56)"/>
<path d="M205.0,104.0 L222.0,102.0 L240.0,104.0 L252.0,106.0 L255.0,118.0 L253.0,134.0 L245.0,148.0 L230.0,150.0 L215.0,146.0 L206.0,134.0 L202.0,118.0Z" fill="#b08cd6" filter="url(#f55)"/>
</g>
<text x="94.89" y="55.7" font-size="10.4" text-anchor="start" fill="#222" font-weight="normal" font-style="normal" >MEP</text>
<text x="180.06" y="51.5" font-size="10.4" text-anchor="start" fill="#222" font-weight="normal" font-style="normal" >Megakaryocyte</text>
<text x="102.48" y="91.8" font-size="10.4" text-anchor="start" fill="#222" font-weight="normal" font-style="normal" >Basophil</text>
<text x="102.91" y="104.4" font-size="10.4" text-anchor="start" fill="#222" font-weight="normal" font-style="normal" >Mast cell</text>
<text x="165.45" y="78.8" font-size="10.4" text-anchor="start" fill="#222" font-weight="normal" font-style="normal" >MPP2</text>
<text x="224.2" y="77.6" font-size="10.4" text-anchor="start" fill="#222" font-weight="normal" font-style="normal" >LT-HSC</text>
<text x="218.42" y="97" font-size="10.4" text-anchor="start" fill="#222" font-weight="normal" font-style="normal" >ST-HSC</text>
<text x="181.42" y="97" font-size="10.4" text-anchor="start" fill="#222" font-weight="normal" font-style="normal" >MPP3</text>
<text x="223.85" y="117" font-size="10.4" text-anchor="start" fill="#222" font-weight="normal" font-style="normal" >MPP4</text>
<text x="238.89" y="134.5" font-size="10.4" text-anchor="start" fill="#222" font-weight="normal" font-style="normal" >CLP</text>
<text x="171.71" y="133" font-size="10.4" text-anchor="start" fill="#222" font-weight="normal" font-style="normal" >CMP</text>
<text x="128.42" y="147" font-size="10.4" text-anchor="start" fill="#222" font-weight="normal" font-style="normal" >GMP</text>
<text x="65.95" y="161.2" font-size="10.4" text-anchor="start" fill="#222" font-weight="normal" font-style="normal" >Granulocyte</text>
<text x="159.4" y="182.6" font-size="10.4" text-anchor="start" fill="#222" font-weight="normal" font-style="normal" >Monocyte</text>
<text x="225.93" y="217.6" font-size="10.4" text-anchor="start" fill="#222" font-weight="normal" font-style="normal" >DC</text>
<rect x="188" y="243" width="14.5" height="7" fill="#9b9b9b"/>
<text x="207.37" y="250.2" font-size="11" text-anchor="start" fill="#222" font-weight="normal" font-style="normal" >Control</text>
<rect x="188" y="256.5" width="14.5" height="7" fill="#1f7fc6"/>
<text x="206.9" y="262.8" font-size="11" fill="#222"><tspan font-style="italic">Trsp</tspan> KO</text>
<text x="10.6" y="23.6" font-size="18.2" text-anchor="start" fill="#000" font-weight="bold" font-style="normal" stroke="#000" stroke-width="0.35" transform="translate(10.6 0) scale(0.87 1) translate(-10.6 0)">E</text>
<text x="10.0" y="526" font-size="18.2" text-anchor="start" fill="#000" font-weight="bold" font-style="normal" transform="translate(10 0) scale(0.95 1) translate(-10 0)">F</text>
<text x="408.1" y="67" font-size="13.4" text-anchor="middle" fill="#111" font-weight="normal" font-style="normal" >HSC</text>
<line x1="307" y1="71.7" x2="508" y2="71.7" stroke="#111" stroke-width="1.5" />
<text x="351.8" y="88.5" font-size="11" text-anchor="middle" fill="#222" font-weight="normal" font-style="normal" >Control</text>
<text x="465.4" y="88.5" font-size="11" text-anchor="middle" fill="#222"><tspan font-style="italic">Trsp</tspan> KO</text>
<text x="408.1" y="175" font-size="13.4" text-anchor="middle" fill="#111" font-weight="normal" font-style="normal" >MPP2</text>
<line x1="307" y1="179.2" x2="508" y2="179.2" stroke="#111" stroke-width="1.5" />
<text x="351.8" y="196.0" font-size="11" text-anchor="middle" fill="#222" font-weight="normal" font-style="normal" >Control</text>
<text x="465.4" y="196.0" font-size="11" text-anchor="middle" fill="#222"><tspan font-style="italic">Trsp</tspan> KO</text>
<text x="408.1" y="283.5" font-size="13.4" text-anchor="middle" fill="#111" font-weight="normal" font-style="normal" >MPP3</text>
<line x1="307" y1="287.3" x2="508" y2="287.3" stroke="#111" stroke-width="1.5" />
<text x="351.8" y="304.1" font-size="11" text-anchor="middle" fill="#222" font-weight="normal" font-style="normal" >Control</text>
<text x="465.4" y="304.1" font-size="11" text-anchor="middle" fill="#222"><tspan font-style="italic">Trsp</tspan> KO</text>
<text x="408.1" y="390.3" font-size="13.4" text-anchor="middle" fill="#111" font-weight="normal" font-style="normal" >MPP4</text>
<line x1="307" y1="395" x2="508" y2="395" stroke="#111" stroke-width="1.5" />
<text x="351.8" y="411.8" font-size="11" text-anchor="middle" fill="#222" font-weight="normal" font-style="normal" >Control</text>
<text x="465.4" y="411.8" font-size="11" text-anchor="middle" fill="#222"><tspan font-style="italic">Trsp</tspan> KO</text>
<text x="269.6" y="533.5" font-size="13.9" text-anchor="middle" fill="#111" font-weight="normal" font-style="normal" >Selenoproteins</text>
<line x1="92.5" y1="541.7" x2="446" y2="541.7" stroke="#111" stroke-width="1.1" />
<text x="149.5" y="555.6" font-size="10.6" text-anchor="middle" fill="#222" font-weight="normal" font-style="italic" >Gpx1</text>
<text x="278.1" y="555.6" font-size="10.6" text-anchor="middle" fill="#222" font-weight="normal" font-style="italic" >Selh</text>
<text x="406.5" y="555.6" font-size="10.6" text-anchor="middle" fill="#222" font-weight="normal" font-style="italic" >Sepw1</text>
<line x1="132.5" y1="570.4" x2="166.2" y2="570.4" stroke="#111" stroke-width="1.3" />
<text x="149.65" y="571.9" font-size="11.7" text-anchor="middle" fill="#222" font-weight="normal" font-style="normal" >****</text>
<line x1="261.3" y1="570.4" x2="294.6" y2="570.4" stroke="#111" stroke-width="1.3" />
<text x="278.25000000000006" y="571.9" font-size="11.7" text-anchor="middle" fill="#222" font-weight="normal" font-style="normal" >****</text>
<line x1="390.2" y1="570.4" x2="423.2" y2="570.4" stroke="#111" stroke-width="1.3" />
<text x="407.0" y="571.9" font-size="11.7" text-anchor="middle" fill="#222" font-weight="normal" font-style="normal" >****</text>
<line x1="132.5" y1="701.0" x2="166.2" y2="701.0" stroke="#111" stroke-width="1.3" />
<text x="149.65" y="702.5" font-size="11.7" text-anchor="middle" fill="#222" font-weight="normal" font-style="normal" >****</text>
<line x1="261.3" y1="701.0" x2="294.6" y2="701.0" stroke="#111" stroke-width="1.3" />
<text x="278.25000000000006" y="702.5" font-size="11.7" text-anchor="middle" fill="#222" font-weight="normal" font-style="normal" >****</text>
<line x1="390.2" y1="701.0" x2="423.2" y2="701.0" stroke="#111" stroke-width="1.3" />
<text x="407.0" y="702.5" font-size="11.7" text-anchor="middle" fill="#222" font-weight="normal" font-style="normal" >****</text>
<line x1="132.5" y1="831.5" x2="166.2" y2="831.5" stroke="#111" stroke-width="1.3" />
<text x="149.65" y="833.0" font-size="11.7" text-anchor="middle" fill="#222" font-weight="normal" font-style="normal" >****</text>
<line x1="261.3" y1="831.5" x2="294.6" y2="831.5" stroke="#111" stroke-width="1.3" />
<text x="278.25000000000006" y="833.0" font-size="11.7" text-anchor="middle" fill="#222" font-weight="normal" font-style="normal" >****</text>
<line x1="390.2" y1="831.5" x2="423.2" y2="831.5" stroke="#111" stroke-width="1.3" />
<text x="407.0" y="833.0" font-size="11.7" text-anchor="middle" fill="#222" font-weight="normal" font-style="normal" >****</text>
<line x1="132.5" y1="962.3" x2="166.2" y2="962.3" stroke="#111" stroke-width="1.3" />
<text x="149.65" y="963.8" font-size="11.7" text-anchor="middle" fill="#222" font-weight="normal" font-style="normal" >****</text>
<line x1="261.3" y1="962.3" x2="294.6" y2="962.3" stroke="#111" stroke-width="1.3" />
<text x="278.25000000000006" y="963.8" font-size="11.7" text-anchor="middle" fill="#222" font-weight="normal" font-style="normal" >****</text>
<line x1="390.2" y1="962.3" x2="423.2" y2="962.3" stroke="#111" stroke-width="1.3" />
<text x="407.0" y="963.8" font-size="11.7" text-anchor="middle" fill="#222" font-weight="normal" font-style="normal" >****</text>
<text x="25.0" y="627.1" font-size="10.3" text-anchor="start" fill="#222" font-weight="normal" font-style="normal" >HSC</text>
<text x="25.0" y="758.0" font-size="10.3" text-anchor="start" fill="#222" font-weight="normal" font-style="normal" >MPP2</text>
<text x="25.0" y="888.9" font-size="10.3" text-anchor="start" fill="#222" font-weight="normal" font-style="normal" >MPP3</text>
<text x="25.0" y="1019.3" font-size="10.3" text-anchor="start" fill="#222" font-weight="normal" font-style="normal" >MPP4</text>
<path d="M109.35,580.5 V668.6 H189.35" fill="none" stroke="#111" stroke-width="1.7"/>
<line x1="104.35" y1="668.6" x2="109.35" y2="668.6" stroke="#111" stroke-width="1.3" />
<text x="99.94999999999999" y="672.2" font-size="10.3" text-anchor="end" fill="#1a1a1a" font-weight="normal" font-style="normal" >0</text>
<line x1="104.35" y1="654.6" x2="109.35" y2="654.6" stroke="#111" stroke-width="1.3" />
<text x="99.94999999999999" y="658.2" font-size="10.3" text-anchor="end" fill="#1a1a1a" font-weight="normal" font-style="normal" >1</text>
<line x1="104.35" y1="640.6" x2="109.35" y2="640.6" stroke="#111" stroke-width="1.3" />
<text x="99.94999999999999" y="644.2" font-size="10.3" text-anchor="end" fill="#1a1a1a" font-weight="normal" font-style="normal" >2</text>
<line x1="104.35" y1="626.6" x2="109.35" y2="626.6" stroke="#111" stroke-width="1.3" />
<text x="99.94999999999999" y="630.2" font-size="10.3" text-anchor="end" fill="#1a1a1a" font-weight="normal" font-style="normal" >3</text>
<line x1="104.35" y1="612.6" x2="109.35" y2="612.6" stroke="#111" stroke-width="1.3" />
<text x="99.94999999999999" y="616.2" font-size="10.3" text-anchor="end" fill="#1a1a1a" font-weight="normal" font-style="normal" >4</text>
<line x1="104.35" y1="598.6" x2="109.35" y2="598.6" stroke="#111" stroke-width="1.3" />
<text x="99.94999999999999" y="602.2" font-size="10.3" text-anchor="end" fill="#1a1a1a" font-weight="normal" font-style="normal" >5</text>
<line x1="104.35" y1="584.6" x2="109.35" y2="584.6" stroke="#111" stroke-width="1.3" />
<text x="99.94999999999999" y="588.2" font-size="10.3" text-anchor="end" fill="#1a1a1a" font-weight="normal" font-style="normal" >6</text>
<path d="M129.50,583.90 C129.55,585.65 129.70,591.83 129.80,594.40 C129.90,596.97 129.90,597.92 130.10,599.30 C130.30,600.68 130.47,601.35 131.00,602.66 C131.53,603.97 132.52,605.62 133.30,607.14 C134.08,608.66 134.92,610.20 135.70,611.76 C136.48,613.32 137.37,614.72 138.00,616.52 C138.63,618.32 139.23,621.00 139.50,622.54 C139.77,624.08 139.85,624.48 139.60,625.76 C139.35,627.04 138.78,628.44 138.00,630.24 C137.22,632.04 135.82,634.49 134.90,636.54 C133.98,638.59 133.15,640.51 132.50,642.56 C131.85,644.61 131.42,647.06 131.00,648.86 C130.58,650.66 130.20,651.92 130.00,653.34 C129.80,654.76 129.83,654.86 129.80,657.40 C129.77,659.94 129.80,666.73 129.80,668.60 L129.20,668.60 C129.20,666.73 129.23,659.94 129.20,657.40 C129.17,654.86 129.20,654.76 129.00,653.34 C128.80,651.92 128.42,650.66 128.00,648.86 C127.58,647.06 127.15,644.61 126.50,642.56 C125.85,640.51 125.02,638.59 124.10,636.54 C123.18,634.49 121.78,632.04 121.00,630.24 C120.22,628.44 119.65,627.04 119.40,625.76 C119.15,624.48 119.23,624.08 119.50,622.54 C119.77,621.00 120.37,618.32 121.00,616.52 C121.63,614.72 122.52,613.32 123.30,611.76 C124.08,610.20 124.92,608.66 125.70,607.14 C126.48,605.62 127.47,603.97 128.00,602.66 C128.53,601.35 128.70,600.68 128.90,599.30 C129.10,597.92 129.10,596.97 129.20,594.40 C129.30,591.83 129.45,585.65 129.50,583.90 Z" fill="#fce0e0" stroke="#aa1530" stroke-width="1.0" stroke-linejoin="round"/>
<line x1="129.5" y1="583.90" x2="129.5" y2="668.60" stroke="#aa1530" stroke-width="1"/>
<rect x="127.15" y="618.34" width="4.70" height="14.00" fill="#f49ba2" stroke="#b0152f" stroke-width="0.9"/>
<line x1="127.15" y1="623.80" x2="131.85" y2="623.80" stroke="#d01c38" stroke-width="1"/>
<path d="M169.20,610.50 C169.25,612.02 169.33,617.31 169.50,619.60 C169.67,621.89 169.82,622.45 170.20,624.22 C170.58,625.99 171.23,628.44 171.80,630.24 C172.37,632.04 172.77,633.44 173.60,635.00 C174.43,636.56 176.12,638.08 176.80,639.62 C177.48,641.16 177.82,642.84 177.70,644.24 C177.58,645.64 175.98,646.90 176.10,648.02 C176.22,649.14 177.92,649.98 178.40,650.96 C178.88,651.94 179.37,653.11 179.00,653.90 C178.63,654.69 177.25,655.14 176.20,655.72 C175.15,656.30 173.62,656.77 172.70,657.40 C171.78,658.03 171.18,658.89 170.70,659.50 C170.22,660.11 169.55,660.25 169.80,661.04 C170.05,661.83 171.22,663.23 172.20,664.26 C173.18,665.29 174.98,666.48 175.70,667.20 C176.42,667.92 176.37,668.37 176.50,668.60 L161.90,668.60 C162.03,668.37 161.98,667.92 162.70,667.20 C163.42,666.48 165.22,665.29 166.20,664.26 C167.18,663.23 168.35,661.83 168.60,661.04 C168.85,660.25 168.18,660.11 167.70,659.50 C167.22,658.89 166.62,658.03 165.70,657.40 C164.78,656.77 163.25,656.30 162.20,655.72 C161.15,655.14 159.77,654.69 159.40,653.90 C159.03,653.11 159.52,651.94 160.00,650.96 C160.48,649.98 162.18,649.14 162.30,648.02 C162.42,646.90 160.82,645.64 160.70,644.24 C160.58,642.84 160.92,641.16 161.60,639.62 C162.28,638.08 163.97,636.56 164.80,635.00 C165.63,633.44 166.03,632.04 166.60,630.24 C167.17,628.44 167.82,625.99 168.20,624.22 C168.58,622.45 168.73,621.89 168.90,619.60 C169.07,617.31 169.15,612.02 169.20,610.50 Z" fill="#d6ecf9" stroke="#2f9bd0" stroke-width="1.0" stroke-linejoin="round"/>
<line x1="169.2" y1="610.50" x2="169.2" y2="668.60" stroke="#2f9bd0" stroke-width="1"/>
<rect x="167.20" y="640.32" width="4.00" height="13.86" fill="#52b5e8" stroke="#1f88c6" stroke-width="0.9"/>
<line x1="167.20" y1="645.22" x2="171.20" y2="645.22" stroke="#1a72b0" stroke-width="1"/>
<path d="M237.6,580.5 V668.6 H317.6" fill="none" stroke="#111" stroke-width="1.7"/>
<line x1="232.6" y1="668.6" x2="237.6" y2="668.6" stroke="#111" stroke-width="1.3" />
<text x="228.2" y="672.2" font-size="10.3" text-anchor="end" fill="#1a1a1a" font-weight="normal" font-style="normal" >0</text>
<line x1="232.6" y1="658.075" x2="237.6" y2="658.075" stroke="#111" stroke-width="1.3" />
<text x="228.2" y="661.6750000000001" font-size="10.3" text-anchor="end" fill="#1a1a1a" font-weight="normal" font-style="normal" >0.5</text>
<line x1="232.6" y1="647.5500000000001" x2="237.6" y2="647.5500000000001" stroke="#111" stroke-width="1.3" />
<text x="228.2" y="651.1500000000001" font-size="10.3" text-anchor="end" fill="#1a1a1a" font-weight="normal" font-style="normal" >1</text>
<line x1="232.6" y1="637.025" x2="237.6" y2="637.025" stroke="#111" stroke-width="1.3" />
<text x="228.2" y="640.625" font-size="10.3" text-anchor="end" fill="#1a1a1a" font-weight="normal" font-style="normal" >1.5</text>
<line x1="232.6" y1="626.5" x2="237.6" y2="626.5" stroke="#111" stroke-width="1.3" />
<text x="228.2" y="630.1" font-size="10.3" text-anchor="end" fill="#1a1a1a" font-weight="normal" font-style="normal" >2</text>
<line x1="232.6" y1="615.975" x2="237.6" y2="615.975" stroke="#111" stroke-width="1.3" />
<text x="228.2" y="619.575" font-size="10.3" text-anchor="end" fill="#1a1a1a" font-weight="normal" font-style="normal" >2.5</text>
<line x1="232.6" y1="605.45" x2="237.6" y2="605.45" stroke="#111" stroke-width="1.3" />
<text x="228.2" y="609.0500000000001" font-size="10.3" text-anchor="end" fill="#1a1a1a" font-weight="normal" font-style="normal" >3</text>
<line x1="232.6" y1="594.9250000000001" x2="237.6" y2="594.9250000000001" stroke="#111" stroke-width="1.3" />
<text x="228.2" y="598.5250000000001" font-size="10.3" text-anchor="end" fill="#1a1a1a" font-weight="normal" font-style="normal" >3.5</text>
<line x1="232.6" y1="584.4" x2="237.6" y2="584.4" stroke="#111" stroke-width="1.3" />
<text x="228.2" y="588.0" font-size="10.3" text-anchor="end" fill="#1a1a1a" font-weight="normal" font-style="normal" >4</text>
<path d="M257.75,583.35 C257.80,585.28 257.97,591.21 258.05,594.93 C258.13,598.64 258.13,602.85 258.25,605.66 C258.37,608.47 258.57,609.70 258.75,611.76 C258.93,613.83 259.13,616.01 259.35,618.08 C259.57,620.15 259.75,622.15 260.05,624.18 C260.35,626.22 260.72,628.22 261.15,630.29 C261.58,632.36 262.13,634.96 262.65,636.60 C263.17,638.25 263.70,639.13 264.25,640.18 C264.80,641.24 265.47,642.04 265.95,642.92 C266.43,643.80 266.88,644.67 267.15,645.45 C267.42,646.22 267.68,646.85 267.55,647.55 C267.42,648.25 266.88,648.95 266.35,649.65 C265.82,650.36 265.20,650.60 264.35,651.76 C263.50,652.92 261.88,655.30 261.25,656.60 C260.62,657.90 260.30,658.57 260.55,659.55 C260.80,660.53 261.98,661.48 262.75,662.50 C263.52,663.51 264.62,664.64 265.15,665.65 C265.68,666.67 265.82,668.11 265.95,668.60 L249.55,668.60 C249.68,668.11 249.82,666.67 250.35,665.65 C250.88,664.64 251.98,663.51 252.75,662.50 C253.52,661.48 254.70,660.53 254.95,659.55 C255.20,658.57 254.88,657.90 254.25,656.60 C253.62,655.30 252.00,652.92 251.15,651.76 C250.30,650.60 249.68,650.36 249.15,649.65 C248.62,648.95 248.08,648.25 247.95,647.55 C247.82,646.85 248.08,646.22 248.35,645.45 C248.62,644.67 249.07,643.80 249.55,642.92 C250.03,642.04 250.70,641.24 251.25,640.18 C251.80,639.13 252.33,638.25 252.85,636.60 C253.37,634.96 253.92,632.36 254.35,630.29 C254.78,628.22 255.15,626.22 255.45,624.18 C255.75,622.15 255.93,620.15 256.15,618.08 C256.37,616.01 256.57,613.83 256.75,611.76 C256.93,609.70 257.13,608.47 257.25,605.66 C257.37,602.85 257.37,598.64 257.45,594.93 C257.53,591.21 257.70,585.28 257.75,583.35 Z" fill="#fce0e0" stroke="#aa1530" stroke-width="1.0" stroke-linejoin="round"/>
<line x1="257.75" y1="583.35" x2="257.75" y2="668.60" stroke="#aa1530" stroke-width="1"/>
<rect x="255.45" y="635.13" width="4.60" height="33.47" fill="#f49ba2" stroke="#b0152f" stroke-width="0.9"/>
<line x1="255.45" y1="647.13" x2="260.05" y2="647.13" stroke="#d01c38" stroke-width="1"/>
<line x1="297.45" y1="626.50" x2="297.45" y2="668.60" stroke="#2f9bd0" stroke-width="1"/>
<line x1="295.65" y1="647.13" x2="299.25" y2="647.13" stroke="#2f9bd0" stroke-width="1.1"/>
<path d="M366.4,580.5 V668.6 H446.4" fill="none" stroke="#111" stroke-width="1.7"/>
<line x1="361.4" y1="668.6" x2="366.4" y2="668.6" stroke="#111" stroke-width="1.3" />
<text x="357.0" y="672.2" font-size="10.3" text-anchor="end" fill="#1a1a1a" font-weight="normal" font-style="normal" >0</text>
<line x1="361.4" y1="658.075" x2="366.4" y2="658.075" stroke="#111" stroke-width="1.3" />
<text x="357.0" y="661.6750000000001" font-size="10.3" text-anchor="end" fill="#1a1a1a" font-weight="normal" font-style="normal" >0.5</text>
<line x1="361.4" y1="647.5500000000001" x2="366.4" y2="647.5500000000001" stroke="#111" stroke-width="1.3" />
<text x="357.0" y="651.1500000000001" font-size="10.3" text-anchor="end" fill="#1a1a1a" font-weight="normal" font-style="normal" >1</text>
<line x1="361.4" y1="637.025" x2="366.4" y2="637.025" stroke="#111" stroke-width="1.3" />
<text x="357.0" y="640.625" font-size="10.3" text-anchor="end" fill="#1a1a1a" font-weight="normal" font-style="normal" >1.5</text>
<line x1="361.4" y1="626.5" x2="366.4" y2="626.5" stroke="#111" stroke-width="1.3" />
<text x="357.0" y="630.1" font-size="10.3" text-anchor="end" fill="#1a1a1a" font-weight="normal" font-style="normal" >2</text>
<line x1="361.4" y1="615.975" x2="366.4" y2="615.975" stroke="#111" stroke-width="1.3" />
<text x="357.0" y="619.575" font-size="10.3" text-anchor="end" fill="#1a1a1a" font-weight="normal" font-style="normal" >2.5</text>
<line x1="361.4" y1="605.45" x2="366.4" y2="605.45" stroke="#111" stroke-width="1.3" />
<text x="357.0" y="609.0500000000001" font-size="10.3" text-anchor="end" fill="#1a1a1a" font-weight="normal" font-style="normal" >3</text>
<line x1="361.4" y1="594.9250000000001" x2="366.4" y2="594.9250000000001" stroke="#111" stroke-width="1.3" />
<text x="357.0" y="598.5250000000001" font-size="10.3" text-anchor="end" fill="#1a1a1a" font-weight="normal" font-style="normal" >3.5</text>
<line x1="361.4" y1="584.4" x2="366.4" y2="584.4" stroke="#111" stroke-width="1.3" />
<text x="357.0" y="588.0" font-size="10.3" text-anchor="end" fill="#1a1a1a" font-weight="normal" font-style="normal" >4</text>
<path d="M386.55,582.51 C386.60,584.22 386.75,589.73 386.85,592.82 C386.95,595.91 386.83,598.89 387.15,601.03 C387.47,603.17 388.10,603.87 388.75,605.66 C389.40,607.45 390.28,609.70 391.05,611.76 C391.82,613.83 392.72,616.01 393.35,618.08 C393.98,620.15 394.47,622.15 394.85,624.18 C395.23,626.22 395.52,628.50 395.65,630.29 C395.78,632.08 395.92,633.38 395.65,634.92 C395.38,636.46 394.57,638.01 394.05,639.55 C393.53,641.09 392.42,642.92 392.55,644.18 C392.68,645.45 394.52,646.11 394.85,647.13 C395.18,648.15 395.07,649.23 394.55,650.29 C394.03,651.34 393.00,652.15 391.75,653.44 C390.50,654.74 387.43,656.57 387.05,658.08 C386.67,659.58 388.67,660.99 389.45,662.50 C390.23,664.00 391.30,666.11 391.75,667.13 C392.20,668.14 392.08,668.35 392.15,668.60 L380.95,668.60 C381.02,668.35 380.90,668.14 381.35,667.13 C381.80,666.11 382.87,664.00 383.65,662.50 C384.43,660.99 386.43,659.58 386.05,658.08 C385.67,656.57 382.60,654.74 381.35,653.44 C380.10,652.15 379.07,651.34 378.55,650.29 C378.03,649.23 377.92,648.15 378.25,647.13 C378.58,646.11 380.42,645.45 380.55,644.18 C380.68,642.92 379.57,641.09 379.05,639.55 C378.53,638.01 377.72,636.46 377.45,634.92 C377.18,633.38 377.32,632.08 377.45,630.29 C377.58,628.50 377.87,626.22 378.25,624.18 C378.63,622.15 379.12,620.15 379.75,618.08 C380.38,616.01 381.28,613.83 382.05,611.76 C382.82,609.70 383.70,607.45 384.35,605.66 C385.00,603.87 385.63,603.17 385.95,601.03 C386.27,598.89 386.15,595.91 386.25,592.82 C386.35,589.73 386.50,584.22 386.55,582.51 Z" fill="#fce0e0" stroke="#aa1530" stroke-width="1.0" stroke-linejoin="round"/>
<line x1="386.54999999999995" y1="582.51" x2="386.54999999999995" y2="668.60" stroke="#aa1530" stroke-width="1"/>
<rect x="384.25" y="626.50" width="4.60" height="21.05" fill="#f49ba2" stroke="#b0152f" stroke-width="0.9"/>
<line x1="384.25" y1="635.76" x2="388.85" y2="635.76" stroke="#d01c38" stroke-width="1"/>
<line x1="384.25" y1="638.08" x2="388.85" y2="638.08" stroke="#d01c38" stroke-width="1"/>
<line x1="426.25" y1="626.50" x2="426.25" y2="668.60" stroke="#2f9bd0" stroke-width="1" stroke-dasharray="2 0.6"/>
<line x1="424.45" y1="635.34" x2="428.05" y2="635.34" stroke="#2f9bd0" stroke-width="1.1"/>
<line x1="424.45" y1="647.13" x2="428.05" y2="647.13" stroke="#2f9bd0" stroke-width="1.1"/>
<line x1="424.45" y1="662.50" x2="428.05" y2="662.50" stroke="#2f9bd0" stroke-width="1.1"/>
<path d="M109.35,711.0 V799.0 H189.35" fill="none" stroke="#111" stroke-width="1.7"/>
<line x1="104.35" y1="799.0" x2="109.35" y2="799.0" stroke="#111" stroke-width="1.3" />
<text x="99.94999999999999" y="802.6" font-size="10.3" text-anchor="end" fill="#1a1a1a" font-weight="normal" font-style="normal" >0</text>
<line x1="104.35" y1="786.93" x2="109.35" y2="786.93" stroke="#111" stroke-width="1.3" />
<text x="99.94999999999999" y="790.53" font-size="10.3" text-anchor="end" fill="#1a1a1a" font-weight="normal" font-style="normal" >1</text>
<line x1="104.35" y1="774.86" x2="109.35" y2="774.86" stroke="#111" stroke-width="1.3" />
<text x="99.94999999999999" y="778.46" font-size="10.3" text-anchor="end" fill="#1a1a1a" font-weight="normal" font-style="normal" >2</text>
<line x1="104.35" y1="762.79" x2="109.35" y2="762.79" stroke="#111" stroke-width="1.3" />
<text x="99.94999999999999" y="766.39" font-size="10.3" text-anchor="end" fill="#1a1a1a" font-weight="normal" font-style="normal" >3</text>
<line x1="104.35" y1="750.72" x2="109.35" y2="750.72" stroke="#111" stroke-width="1.3" />
<text x="99.94999999999999" y="754.32" font-size="10.3" text-anchor="end" fill="#1a1a1a" font-weight="normal" font-style="normal" >4</text>
<line x1="104.35" y1="738.65" x2="109.35" y2="738.65" stroke="#111" stroke-width="1.3" />
<text x="99.94999999999999" y="742.25" font-size="10.3" text-anchor="end" fill="#1a1a1a" font-weight="normal" font-style="normal" >5</text>
<line x1="104.35" y1="726.58" x2="109.35" y2="726.58" stroke="#111" stroke-width="1.3" />
<text x="99.94999999999999" y="730.1800000000001" font-size="10.3" text-anchor="end" fill="#1a1a1a" font-weight="normal" font-style="normal" >6</text>
<line x1="104.35" y1="714.51" x2="109.35" y2="714.51" stroke="#111" stroke-width="1.3" />
<text x="99.94999999999999" y="718.11" font-size="10.3" text-anchor="end" fill="#1a1a1a" font-weight="normal" font-style="normal" >7</text>
<path d="M129.50,713.42 C129.55,714.61 129.72,718.63 129.80,720.54 C129.88,722.46 129.85,723.64 130.00,724.89 C130.15,726.14 130.27,726.74 130.70,728.03 C131.13,729.32 131.90,731.09 132.60,732.62 C133.30,734.14 134.13,735.67 134.90,737.20 C135.67,738.73 136.52,740.24 137.20,741.79 C137.88,743.34 138.62,745.21 139.00,746.50 C139.38,747.78 139.67,748.23 139.50,749.51 C139.33,750.80 138.63,752.67 138.00,754.22 C137.37,755.77 136.48,757.28 135.70,758.81 C134.92,760.34 134.08,761.86 133.30,763.39 C132.52,764.92 131.52,766.71 131.00,767.98 C130.48,769.25 130.38,769.97 130.20,771.00 C130.02,772.02 129.97,769.47 129.90,774.14 C129.83,778.80 129.82,794.86 129.80,799.00 L129.20,799.00 C129.18,794.86 129.17,778.80 129.10,774.14 C129.03,769.47 128.98,772.02 128.80,771.00 C128.62,769.97 128.52,769.25 128.00,767.98 C127.48,766.71 126.48,764.92 125.70,763.39 C124.92,761.86 124.08,760.34 123.30,758.81 C122.52,757.28 121.63,755.77 121.00,754.22 C120.37,752.67 119.67,750.80 119.50,749.51 C119.33,748.23 119.62,747.78 120.00,746.50 C120.38,745.21 121.12,743.34 121.80,741.79 C122.48,740.24 123.33,738.73 124.10,737.20 C124.87,735.67 125.70,734.14 126.40,732.62 C127.10,731.09 127.87,729.32 128.30,728.03 C128.73,726.74 128.85,726.14 129.00,724.89 C129.15,723.64 129.12,722.46 129.20,720.54 C129.28,718.63 129.45,714.61 129.50,713.42 Z" fill="#fce0e0" stroke="#aa1530" stroke-width="1.0" stroke-linejoin="round"/>
<line x1="129.5" y1="713.42" x2="129.5" y2="799.00" stroke="#aa1530" stroke-width="1"/>
<rect x="127.15" y="742.15" width="4.70" height="12.31" fill="#f49ba2" stroke="#b0152f" stroke-width="0.9"/>
<line x1="127.15" y1="748.31" x2="131.85" y2="748.31" stroke="#d01c38" stroke-width="1"/>
<path d="M169.20,733.46 C169.25,734.53 169.42,738.19 169.50,739.86 C169.58,741.53 169.37,742.11 169.70,743.48 C170.03,744.85 170.82,746.54 171.50,748.06 C172.18,749.59 173.03,751.12 173.80,752.65 C174.57,754.18 175.38,755.71 176.10,757.24 C176.82,758.77 177.58,760.28 178.10,761.82 C178.62,763.37 179.15,765.00 179.20,766.53 C179.25,768.06 178.78,769.47 178.40,771.00 C178.02,772.53 177.53,774.16 176.90,775.70 C176.27,777.25 175.37,778.76 174.60,780.29 C173.83,781.82 172.95,783.35 172.30,784.88 C171.65,786.41 171.08,788.04 170.70,789.46 C170.32,790.89 170.00,792.28 170.00,793.45 C170.00,794.61 170.50,795.70 170.70,796.47 C170.90,797.23 171.08,797.61 171.20,798.03 C171.32,798.46 171.37,798.84 171.40,799.00 L167.00,799.00 C167.03,798.84 167.08,798.46 167.20,798.03 C167.32,797.61 167.50,797.23 167.70,796.47 C167.90,795.70 168.40,794.61 168.40,793.45 C168.40,792.28 168.08,790.89 167.70,789.46 C167.32,788.04 166.75,786.41 166.10,784.88 C165.45,783.35 164.57,781.82 163.80,780.29 C163.03,778.76 162.13,777.25 161.50,775.70 C160.87,774.16 160.38,772.53 160.00,771.00 C159.62,769.47 159.15,768.06 159.20,766.53 C159.25,765.00 159.78,763.37 160.30,761.82 C160.82,760.28 161.58,758.77 162.30,757.24 C163.02,755.71 163.83,754.18 164.60,752.65 C165.37,751.12 166.22,749.59 166.90,748.06 C167.58,746.54 168.37,744.85 168.70,743.48 C169.03,742.11 168.82,741.53 168.90,739.86 C168.98,738.19 169.15,734.53 169.20,733.46 Z" fill="#d6ecf9" stroke="#2f9bd0" stroke-width="1.0" stroke-linejoin="round"/>
<line x1="169.2" y1="733.46" x2="169.2" y2="799.00" stroke="#2f9bd0" stroke-width="1"/>
<rect x="166.90" y="761.58" width="4.60" height="18.35" fill="#52b5e8" stroke="#1f88c6" stroke-width="0.9"/>
<line x1="166.90" y1="767.62" x2="171.50" y2="767.62" stroke="#1a72b0" stroke-width="1"/>
<path d="M237.6,711.0 V799.0 H317.6" fill="none" stroke="#111" stroke-width="1.7"/>
<line x1="232.6" y1="799.0" x2="237.6" y2="799.0" stroke="#111" stroke-width="1.3" />
<text x="228.2" y="802.6" font-size="10.3" text-anchor="end" fill="#1a1a1a" font-weight="normal" font-style="normal" >0</text>
<line x1="232.6" y1="782.2" x2="237.6" y2="782.2" stroke="#111" stroke-width="1.3" />
<text x="228.2" y="785.8000000000001" font-size="10.3" text-anchor="end" fill="#1a1a1a" font-weight="normal" font-style="normal" >1</text>
<line x1="232.6" y1="765.4" x2="237.6" y2="765.4" stroke="#111" stroke-width="1.3" />
<text x="228.2" y="769.0" font-size="10.3" text-anchor="end" fill="#1a1a1a" font-weight="normal" font-style="normal" >2</text>
<line x1="232.6" y1="748.6" x2="237.6" y2="748.6" stroke="#111" stroke-width="1.3" />
<text x="228.2" y="752.2" font-size="10.3" text-anchor="end" fill="#1a1a1a" font-weight="normal" font-style="normal" >3</text>
<line x1="232.6" y1="731.8" x2="237.6" y2="731.8" stroke="#111" stroke-width="1.3" />
<text x="228.2" y="735.4" font-size="10.3" text-anchor="end" fill="#1a1a1a" font-weight="normal" font-style="normal" >4</text>
<line x1="232.6" y1="715.0" x2="237.6" y2="715.0" stroke="#111" stroke-width="1.3" />
<text x="228.2" y="718.6" font-size="10.3" text-anchor="end" fill="#1a1a1a" font-weight="normal" font-style="normal" >5</text>
<path d="M257.75,717.18 C257.80,718.50 257.97,723.04 258.05,725.08 C258.13,727.12 258.10,728.19 258.25,729.45 C258.40,730.71 258.45,731.07 258.95,732.64 C259.45,734.21 260.53,736.81 261.25,738.86 C261.97,740.90 262.60,742.86 263.25,744.90 C263.90,746.95 264.58,749.08 265.15,751.12 C265.72,753.16 266.22,754.87 266.65,757.17 C267.08,759.46 267.62,762.57 267.75,764.90 C267.88,767.22 267.70,769.07 267.45,771.11 C267.20,773.16 266.77,775.12 266.25,777.16 C265.73,779.20 264.97,781.56 264.35,783.38 C263.73,785.20 263.02,786.68 262.55,788.08 C262.08,789.48 261.52,790.63 261.55,791.78 C261.58,792.92 262.33,793.93 262.75,794.97 C263.17,796.00 263.78,797.32 264.05,797.99 C264.32,798.66 264.30,798.83 264.35,799.00 L251.15,799.00 C251.20,798.83 251.18,798.66 251.45,797.99 C251.72,797.32 252.33,796.00 252.75,794.97 C253.17,793.93 253.92,792.92 253.95,791.78 C253.98,790.63 253.42,789.48 252.95,788.08 C252.48,786.68 251.77,785.20 251.15,783.38 C250.53,781.56 249.77,779.20 249.25,777.16 C248.73,775.12 248.30,773.16 248.05,771.11 C247.80,769.07 247.62,767.22 247.75,764.90 C247.88,762.57 248.42,759.46 248.85,757.17 C249.28,754.87 249.78,753.16 250.35,751.12 C250.92,749.08 251.60,746.95 252.25,744.90 C252.90,742.86 253.53,740.90 254.25,738.86 C254.97,736.81 256.05,734.21 256.55,732.64 C257.05,731.07 257.10,730.71 257.25,729.45 C257.40,728.19 257.37,727.12 257.45,725.08 C257.53,723.04 257.70,718.50 257.75,717.18 Z" fill="#fce0e0" stroke="#aa1530" stroke-width="1.0" stroke-linejoin="round"/>
<line x1="257.75" y1="717.18" x2="257.75" y2="799.00" stroke="#aa1530" stroke-width="1"/>
<rect x="255.40" y="755.99" width="4.70" height="26.54" fill="#f49ba2" stroke="#b0152f" stroke-width="0.9"/>
<line x1="255.40" y1="770.78" x2="260.10" y2="770.78" stroke="#d01c38" stroke-width="1"/>
<line x1="255.40" y1="772.29" x2="260.10" y2="772.29" stroke="#d01c38" stroke-width="1"/>
<path d="M297.45,754.98 C297.49,758.40 297.60,771.64 297.70,775.48 C297.80,779.32 297.84,777.33 298.05,778.00 C298.26,778.67 298.53,778.87 298.95,779.51 C299.37,780.16 300.30,780.97 300.55,781.86 C300.80,782.76 300.58,783.85 300.45,784.89 C300.32,785.92 299.92,787.04 299.75,788.08 C299.58,789.12 299.32,790.10 299.45,791.10 C299.58,792.11 299.85,793.23 300.55,794.13 C301.25,795.02 302.75,795.84 303.65,796.48 C304.55,797.12 305.52,797.57 305.95,797.99 C306.38,798.41 306.20,798.83 306.25,799.00 L288.65,799.00 C288.70,798.83 288.52,798.41 288.95,797.99 C289.38,797.57 290.35,797.12 291.25,796.48 C292.15,795.84 293.65,795.02 294.35,794.13 C295.05,793.23 295.32,792.11 295.45,791.10 C295.58,790.10 295.32,789.12 295.15,788.08 C294.98,787.04 294.58,785.92 294.45,784.89 C294.32,783.85 294.10,782.76 294.35,781.86 C294.60,780.97 295.53,780.16 295.95,779.51 C296.37,778.87 296.64,778.67 296.85,778.00 C297.06,777.33 297.10,779.32 297.20,775.48 C297.30,771.64 297.41,758.40 297.45,754.98 Z" fill="#d6ecf9" stroke="#2f9bd0" stroke-width="1.0" stroke-linejoin="round"/>
<line x1="297.45" y1="754.98" x2="297.45" y2="799.00" stroke="#2f9bd0" stroke-width="1"/>
<rect x="296.25" y="783.38" width="2.40" height="15.62" fill="#52b5e8" stroke="#1f88c6" stroke-width="0.9"/>
<line x1="296.25" y1="784.89" x2="298.65" y2="784.89" stroke="#1a72b0" stroke-width="1"/>
<path d="M366.4,711.0 V799.0 H446.4" fill="none" stroke="#111" stroke-width="1.7"/>
<line x1="361.4" y1="799.0" x2="366.4" y2="799.0" stroke="#111" stroke-width="1.3" />
<text x="357.0" y="802.6" font-size="10.3" text-anchor="end" fill="#1a1a1a" font-weight="normal" font-style="normal" >0</text>
<line x1="361.4" y1="789.665" x2="366.4" y2="789.665" stroke="#111" stroke-width="1.3" />
<text x="357.0" y="793.265" font-size="10.3" text-anchor="end" fill="#1a1a1a" font-weight="normal" font-style="normal" >0.5</text>
<line x1="361.4" y1="780.33" x2="366.4" y2="780.33" stroke="#111" stroke-width="1.3" />
<text x="357.0" y="783.9300000000001" font-size="10.3" text-anchor="end" fill="#1a1a1a" font-weight="normal" font-style="normal" >1</text>
<line x1="361.4" y1="770.995" x2="366.4" y2="770.995" stroke="#111" stroke-width="1.3" />
<text x="357.0" y="774.595" font-size="10.3" text-anchor="end" fill="#1a1a1a" font-weight="normal" font-style="normal" >1.5</text>
<line x1="361.4" y1="761.66" x2="366.4" y2="761.66" stroke="#111" stroke-width="1.3" />
<text x="357.0" y="765.26" font-size="10.3" text-anchor="end" fill="#1a1a1a" font-weight="normal" font-style="normal" >2</text>
<line x1="361.4" y1="752.325" x2="366.4" y2="752.325" stroke="#111" stroke-width="1.3" />
<text x="357.0" y="755.9250000000001" font-size="10.3" text-anchor="end" fill="#1a1a1a" font-weight="normal" font-style="normal" >2.5</text>
<line x1="361.4" y1="742.99" x2="366.4" y2="742.99" stroke="#111" stroke-width="1.3" />
<text x="357.0" y="746.59" font-size="10.3" text-anchor="end" fill="#1a1a1a" font-weight="normal" font-style="normal" >3</text>
<line x1="361.4" y1="733.655" x2="366.4" y2="733.655" stroke="#111" stroke-width="1.3" />
<text x="357.0" y="737.255" font-size="10.3" text-anchor="end" fill="#1a1a1a" font-weight="normal" font-style="normal" >3.5</text>
<line x1="361.4" y1="724.3199999999999" x2="366.4" y2="724.3199999999999" stroke="#111" stroke-width="1.3" />
<text x="357.0" y="727.92" font-size="10.3" text-anchor="end" fill="#1a1a1a" font-weight="normal" font-style="normal" >4</text>
<line x1="361.4" y1="714.985" x2="366.4" y2="714.985" stroke="#111" stroke-width="1.3" />
<text x="357.0" y="718.585" font-size="10.3" text-anchor="end" fill="#1a1a1a" font-weight="normal" font-style="normal" >4.5</text>
<path d="M386.55,716.48 C386.60,718.41 386.77,724.85 386.85,728.05 C386.93,731.26 386.82,733.90 387.05,735.71 C387.28,737.51 387.67,737.36 388.25,738.88 C388.83,740.41 389.75,742.83 390.55,744.86 C391.35,746.88 392.33,748.96 393.05,751.02 C393.77,753.07 394.30,755.13 394.85,757.18 C395.40,759.23 396.10,761.78 396.35,763.34 C396.60,764.90 396.65,765.21 396.35,766.51 C396.05,767.82 395.05,769.91 394.55,771.18 C394.05,772.46 393.05,772.89 393.35,774.17 C393.65,775.44 395.97,777.56 396.35,778.84 C396.73,780.11 396.42,780.83 395.65,781.82 C394.88,782.82 393.18,783.54 391.75,784.81 C390.32,786.09 387.43,787.92 387.05,789.48 C386.67,791.03 388.53,792.71 389.45,794.15 C390.37,795.58 391.98,797.26 392.55,798.07 C393.12,798.88 392.80,798.84 392.85,799.00 L380.25,799.00 C380.30,798.84 379.98,798.88 380.55,798.07 C381.12,797.26 382.73,795.58 383.65,794.15 C384.57,792.71 386.43,791.03 386.05,789.48 C385.67,787.92 382.78,786.09 381.35,784.81 C379.92,783.54 378.22,782.82 377.45,781.82 C376.68,780.83 376.37,780.11 376.75,778.84 C377.13,777.56 379.45,775.44 379.75,774.17 C380.05,772.89 379.05,772.46 378.55,771.18 C378.05,769.91 377.05,767.82 376.75,766.51 C376.45,765.21 376.50,764.90 376.75,763.34 C377.00,761.78 377.70,759.23 378.25,757.18 C378.80,755.13 379.33,753.07 380.05,751.02 C380.77,748.96 381.75,746.88 382.55,744.86 C383.35,742.83 384.27,740.41 384.85,738.88 C385.43,737.36 385.82,737.51 386.05,735.71 C386.28,733.90 386.17,731.26 386.25,728.05 C386.33,724.85 386.50,718.41 386.55,716.48 Z" fill="#fce0e0" stroke="#aa1530" stroke-width="1.0" stroke-linejoin="round"/>
<line x1="386.54999999999995" y1="716.48" x2="386.54999999999995" y2="799.00" stroke="#aa1530" stroke-width="1"/>
<rect x="384.35" y="761.47" width="4.40" height="18.48" fill="#f49ba2" stroke="#b0152f" stroke-width="0.9"/>
<line x1="384.35" y1="769.13" x2="388.75" y2="769.13" stroke="#d01c38" stroke-width="1"/>
<line x1="384.35" y1="773.42" x2="388.75" y2="773.42" stroke="#d01c38" stroke-width="1"/>
<path d="M426.25,736.46 C426.29,742.37 426.40,765.52 426.50,771.93 C426.60,778.34 426.64,774.04 426.85,774.92 C427.06,775.79 427.47,776.38 427.75,777.16 C428.03,777.93 428.42,778.56 428.55,779.58 C428.68,780.61 428.63,781.92 428.55,783.32 C428.47,784.72 428.18,786.58 428.05,787.98 C427.92,789.38 427.35,790.57 427.75,791.72 C428.15,792.87 429.37,793.83 430.45,794.89 C431.53,795.95 433.57,797.38 434.25,798.07 C434.93,798.75 434.50,798.84 434.55,799.00 L417.95,799.00 C418.00,798.84 417.57,798.75 418.25,798.07 C418.93,797.38 420.97,795.95 422.05,794.89 C423.13,793.83 424.35,792.87 424.75,791.72 C425.15,790.57 424.58,789.38 424.45,787.98 C424.32,786.58 424.03,784.72 423.95,783.32 C423.87,781.92 423.82,780.61 423.95,779.58 C424.08,778.56 424.47,777.93 424.75,777.16 C425.03,776.38 425.44,775.79 425.65,774.92 C425.86,774.04 425.90,778.34 426.00,771.93 C426.10,765.52 426.21,742.37 426.25,736.46 Z" fill="#d6ecf9" stroke="#2f9bd0" stroke-width="1.0" stroke-linejoin="round"/>
<line x1="426.25" y1="736.46" x2="426.25" y2="799.00" stroke="#2f9bd0" stroke-width="1"/>
<rect x="425.05" y="782.20" width="2.40" height="16.80" fill="#52b5e8" stroke="#1f88c6" stroke-width="0.9"/>
<line x1="425.05" y1="783.32" x2="427.45" y2="783.32" stroke="#1a72b0" stroke-width="1"/>
<path d="M109.35,841.8 V929.8 H189.35" fill="none" stroke="#111" stroke-width="1.7"/>
<line x1="104.35" y1="929.8" x2="109.35" y2="929.8" stroke="#111" stroke-width="1.3" />
<text x="99.94999999999999" y="933.4" font-size="10.3" text-anchor="end" fill="#1a1a1a" font-weight="normal" font-style="normal" >0</text>
<line x1="104.35" y1="915.75" x2="109.35" y2="915.75" stroke="#111" stroke-width="1.3" />
<text x="99.94999999999999" y="919.35" font-size="10.3" text-anchor="end" fill="#1a1a1a" font-weight="normal" font-style="normal" >1</text>
<line x1="104.35" y1="901.6999999999999" x2="109.35" y2="901.6999999999999" stroke="#111" stroke-width="1.3" />
<text x="99.94999999999999" y="905.3" font-size="10.3" text-anchor="end" fill="#1a1a1a" font-weight="normal" font-style="normal" >2</text>
<line x1="104.35" y1="887.65" x2="109.35" y2="887.65" stroke="#111" stroke-width="1.3" />
<text x="99.94999999999999" y="891.25" font-size="10.3" text-anchor="end" fill="#1a1a1a" font-weight="normal" font-style="normal" >3</text>
<line x1="104.35" y1="873.5999999999999" x2="109.35" y2="873.5999999999999" stroke="#111" stroke-width="1.3" />
<text x="99.94999999999999" y="877.1999999999999" font-size="10.3" text-anchor="end" fill="#1a1a1a" font-weight="normal" font-style="normal" >4</text>
<line x1="104.35" y1="859.55" x2="109.35" y2="859.55" stroke="#111" stroke-width="1.3" />
<text x="99.94999999999999" y="863.15" font-size="10.3" text-anchor="end" fill="#1a1a1a" font-weight="normal" font-style="normal" >5</text>
<line x1="104.35" y1="845.5" x2="109.35" y2="845.5" stroke="#111" stroke-width="1.3" />
<text x="99.94999999999999" y="849.1" font-size="10.3" text-anchor="end" fill="#1a1a1a" font-weight="normal" font-style="normal" >6</text>
<path d="M129.50,839.46 C129.55,840.70 129.72,845.10 129.80,846.90 C129.88,848.71 129.85,849.20 130.00,850.28 C130.15,851.35 130.20,852.08 130.70,853.37 C131.20,854.66 132.17,856.46 133.00,858.00 C133.83,859.55 134.87,861.12 135.70,862.64 C136.53,864.16 137.37,865.61 138.00,867.14 C138.63,868.66 139.25,870.49 139.50,871.77 C139.75,873.06 139.75,873.58 139.50,874.86 C139.25,876.15 138.70,877.96 138.00,879.50 C137.30,881.05 136.08,882.59 135.30,884.14 C134.52,885.68 133.88,886.97 133.30,888.77 C132.72,890.58 132.18,893.18 131.80,894.96 C131.42,896.74 131.25,897.91 131.00,899.45 C130.75,901.00 130.48,902.68 130.30,904.23 C130.12,905.77 129.98,904.46 129.90,908.72 C129.82,912.99 129.82,926.29 129.80,929.80 L129.20,929.80 C129.18,926.29 129.18,912.99 129.10,908.72 C129.02,904.46 128.88,905.77 128.70,904.23 C128.52,902.68 128.25,901.00 128.00,899.45 C127.75,897.91 127.58,896.74 127.20,894.96 C126.82,893.18 126.28,890.58 125.70,888.77 C125.12,886.97 124.48,885.68 123.70,884.14 C122.92,882.59 121.70,881.05 121.00,879.50 C120.30,877.96 119.75,876.15 119.50,874.86 C119.25,873.58 119.25,873.06 119.50,871.77 C119.75,870.49 120.37,868.66 121.00,867.14 C121.63,865.61 122.47,864.16 123.30,862.64 C124.13,861.12 125.17,859.55 126.00,858.00 C126.83,856.46 127.80,854.66 128.30,853.37 C128.80,852.08 128.85,851.35 129.00,850.28 C129.15,849.20 129.12,848.71 129.20,846.90 C129.28,845.10 129.45,840.70 129.50,839.46 Z" fill="#fce0e0" stroke="#aa1530" stroke-width="1.0" stroke-linejoin="round"/>
<line x1="129.5" y1="839.46" x2="129.5" y2="929.80" stroke="#aa1530" stroke-width="1"/>
<rect x="127.30" y="868.82" width="4.40" height="12.64" fill="#f49ba2" stroke="#b0152f" stroke-width="0.9"/>
<line x1="127.30" y1="874.86" x2="131.70" y2="874.86" stroke="#d01c38" stroke-width="1"/>
<path d="M169.20,864.19 C169.25,865.76 169.42,871.16 169.50,873.60 C169.58,876.04 169.50,877.30 169.70,878.80 C169.90,880.30 170.15,881.19 170.70,882.59 C171.25,884.00 172.22,885.68 173.00,887.23 C173.78,888.77 174.70,890.32 175.40,891.87 C176.10,893.41 176.70,894.96 177.20,896.50 C177.70,898.05 178.32,899.62 178.40,901.14 C178.48,902.66 177.95,904.11 177.70,905.63 C177.45,907.16 177.17,908.72 176.90,910.27 C176.63,911.82 176.75,913.36 176.10,914.91 C175.45,916.45 173.90,918.26 173.00,919.54 C172.10,920.83 171.17,921.74 170.70,922.63 C170.23,923.52 170.07,924.13 170.20,924.88 C170.33,925.63 171.08,926.36 171.50,927.13 C171.92,927.90 172.48,929.07 172.70,929.52 C172.92,929.96 172.78,929.75 172.80,929.80 L165.60,929.80 C165.62,929.75 165.48,929.96 165.70,929.52 C165.92,929.07 166.48,927.90 166.90,927.13 C167.32,926.36 168.07,925.63 168.20,924.88 C168.33,924.13 168.17,923.52 167.70,922.63 C167.23,921.74 166.30,920.83 165.40,919.54 C164.50,918.26 162.95,916.45 162.30,914.91 C161.65,913.36 161.77,911.82 161.50,910.27 C161.23,908.72 160.95,907.16 160.70,905.63 C160.45,904.11 159.92,902.66 160.00,901.14 C160.08,899.62 160.70,898.05 161.20,896.50 C161.70,894.96 162.30,893.41 163.00,891.87 C163.70,890.32 164.62,888.77 165.40,887.23 C166.18,885.68 167.15,884.00 167.70,882.59 C168.25,881.19 168.50,880.30 168.70,878.80 C168.90,877.30 168.82,876.04 168.90,873.60 C168.98,871.16 169.15,865.76 169.20,864.19 Z" fill="#d6ecf9" stroke="#2f9bd0" stroke-width="1.0" stroke-linejoin="round"/>
<line x1="169.2" y1="864.19" x2="169.2" y2="929.80" stroke="#2f9bd0" stroke-width="1"/>
<rect x="166.90" y="897.20" width="4.60" height="17.70" fill="#52b5e8" stroke="#1f88c6" stroke-width="0.9"/>
<line x1="166.90" y1="906.48" x2="171.50" y2="906.48" stroke="#1a72b0" stroke-width="1"/>
<path d="M237.6,841.8 V929.8 H317.6" fill="none" stroke="#111" stroke-width="1.7"/>
<line x1="232.6" y1="929.8" x2="237.6" y2="929.8" stroke="#111" stroke-width="1.3" />
<text x="228.2" y="933.4" font-size="10.3" text-anchor="end" fill="#1a1a1a" font-weight="normal" font-style="normal" >0</text>
<line x1="232.6" y1="912.9399999999999" x2="237.6" y2="912.9399999999999" stroke="#111" stroke-width="1.3" />
<text x="228.2" y="916.54" font-size="10.3" text-anchor="end" fill="#1a1a1a" font-weight="normal" font-style="normal" >1</text>
<line x1="232.6" y1="896.0799999999999" x2="237.6" y2="896.0799999999999" stroke="#111" stroke-width="1.3" />
<text x="228.2" y="899.68" font-size="10.3" text-anchor="end" fill="#1a1a1a" font-weight="normal" font-style="normal" >2</text>
<line x1="232.6" y1="879.2199999999999" x2="237.6" y2="879.2199999999999" stroke="#111" stroke-width="1.3" />
<text x="228.2" y="882.8199999999999" font-size="10.3" text-anchor="end" fill="#1a1a1a" font-weight="normal" font-style="normal" >3</text>
<line x1="232.6" y1="862.3599999999999" x2="237.6" y2="862.3599999999999" stroke="#111" stroke-width="1.3" />
<text x="228.2" y="865.9599999999999" font-size="10.3" text-anchor="end" fill="#1a1a1a" font-weight="normal" font-style="normal" >4</text>
<line x1="232.6" y1="845.5" x2="237.6" y2="845.5" stroke="#111" stroke-width="1.3" />
<text x="228.2" y="849.1" font-size="10.3" text-anchor="end" fill="#1a1a1a" font-weight="normal" font-style="normal" >5</text>
<path d="M257.75,848.87 C257.80,850.28 257.97,855.25 258.05,857.30 C258.13,859.35 257.97,859.77 258.25,861.18 C258.53,862.58 259.03,863.96 259.75,865.73 C260.47,867.50 261.65,869.75 262.55,871.80 C263.45,873.85 264.38,875.96 265.15,878.04 C265.92,880.12 266.72,882.48 267.15,884.28 C267.58,886.08 267.70,887.31 267.75,888.83 C267.80,890.35 267.75,891.61 267.45,893.38 C267.15,895.15 266.60,897.40 265.95,899.45 C265.30,901.50 264.33,903.64 263.55,905.69 C262.77,907.74 261.88,909.96 261.25,911.76 C260.62,913.56 260.25,914.94 259.75,916.48 C259.25,918.03 258.38,919.49 258.25,921.03 C258.12,922.58 258.70,924.46 258.95,925.75 C259.20,927.05 259.58,928.11 259.75,928.79 C259.92,929.46 259.92,929.63 259.95,929.80 L255.55,929.80 C255.58,929.63 255.58,929.46 255.75,928.79 C255.92,928.11 256.30,927.05 256.55,925.75 C256.80,924.46 257.38,922.58 257.25,921.03 C257.12,919.49 256.25,918.03 255.75,916.48 C255.25,914.94 254.88,913.56 254.25,911.76 C253.62,909.96 252.73,907.74 251.95,905.69 C251.17,903.64 250.20,901.50 249.55,899.45 C248.90,897.40 248.35,895.15 248.05,893.38 C247.75,891.61 247.70,890.35 247.75,888.83 C247.80,887.31 247.92,886.08 248.35,884.28 C248.78,882.48 249.58,880.12 250.35,878.04 C251.12,875.96 252.05,873.85 252.95,871.80 C253.85,869.75 255.03,867.50 255.75,865.73 C256.47,863.96 256.97,862.58 257.25,861.18 C257.53,859.77 257.37,859.35 257.45,857.30 C257.53,855.25 257.70,850.28 257.75,848.87 Z" fill="#fce0e0" stroke="#aa1530" stroke-width="1.0" stroke-linejoin="round"/>
<line x1="257.75" y1="848.87" x2="257.75" y2="929.80" stroke="#aa1530" stroke-width="1"/>
<rect x="255.40" y="882.59" width="4.70" height="20.74" fill="#f49ba2" stroke="#b0152f" stroke-width="0.9"/>
<line x1="255.40" y1="890.35" x2="260.10" y2="890.35" stroke="#d01c38" stroke-width="1"/>
<line x1="255.40" y1="892.71" x2="260.10" y2="892.71" stroke="#d01c38" stroke-width="1"/>
<path d="M297.45,884.28 C297.49,886.95 297.60,897.23 297.70,900.29 C297.80,903.36 297.84,901.76 298.05,902.66 C298.26,903.55 298.67,904.54 298.95,905.69 C299.23,906.84 299.23,908.28 299.75,909.57 C300.27,910.86 301.92,912.29 302.05,913.45 C302.18,914.60 300.93,915.47 300.55,916.48 C300.17,917.49 299.88,918.50 299.75,919.52 C299.62,920.53 299.50,921.51 299.75,922.55 C300.00,923.59 300.22,924.71 301.25,925.75 C302.28,926.79 305.12,928.11 305.95,928.79 C306.78,929.46 306.20,929.63 306.25,929.80 L288.65,929.80 C288.70,929.63 288.12,929.46 288.95,928.79 C289.78,928.11 292.62,926.79 293.65,925.75 C294.68,924.71 294.90,923.59 295.15,922.55 C295.40,921.51 295.28,920.53 295.15,919.52 C295.02,918.50 294.73,917.49 294.35,916.48 C293.97,915.47 292.72,914.60 292.85,913.45 C292.98,912.29 294.63,910.86 295.15,909.57 C295.67,908.28 295.67,906.84 295.95,905.69 C296.23,904.54 296.64,903.55 296.85,902.66 C297.06,901.76 297.10,903.36 297.20,900.29 C297.30,897.23 297.41,886.95 297.45,884.28 Z" fill="#d6ecf9" stroke="#2f9bd0" stroke-width="1.0" stroke-linejoin="round"/>
<line x1="297.45" y1="884.28" x2="297.45" y2="929.80" stroke="#2f9bd0" stroke-width="1"/>
<rect x="296.25" y="912.94" width="2.40" height="16.86" fill="#52b5e8" stroke="#1f88c6" stroke-width="0.9"/>
<line x1="296.25" y1="916.31" x2="298.65" y2="916.31" stroke="#1a72b0" stroke-width="1"/>
<path d="M366.4,841.8 V929.8 H446.4" fill="none" stroke="#111" stroke-width="1.7"/>
<line x1="361.4" y1="929.8" x2="366.4" y2="929.8" stroke="#111" stroke-width="1.3" />
<text x="357.0" y="933.4" font-size="10.3" text-anchor="end" fill="#1a1a1a" font-weight="normal" font-style="normal" >0</text>
<line x1="361.4" y1="919.275" x2="366.4" y2="919.275" stroke="#111" stroke-width="1.3" />
<text x="357.0" y="922.875" font-size="10.3" text-anchor="end" fill="#1a1a1a" font-weight="normal" font-style="normal" >0.5</text>
<line x1="361.4" y1="908.75" x2="366.4" y2="908.75" stroke="#111" stroke-width="1.3" />
<text x="357.0" y="912.35" font-size="10.3" text-anchor="end" fill="#1a1a1a" font-weight="normal" font-style="normal" >1</text>
<line x1="361.4" y1="898.2249999999999" x2="366.4" y2="898.2249999999999" stroke="#111" stroke-width="1.3" />
<text x="357.0" y="901.8249999999999" font-size="10.3" text-anchor="end" fill="#1a1a1a" font-weight="normal" font-style="normal" >1.5</text>
<line x1="361.4" y1="887.6999999999999" x2="366.4" y2="887.6999999999999" stroke="#111" stroke-width="1.3" />
<text x="357.0" y="891.3" font-size="10.3" text-anchor="end" fill="#1a1a1a" font-weight="normal" font-style="normal" >2</text>
<line x1="361.4" y1="877.175" x2="366.4" y2="877.175" stroke="#111" stroke-width="1.3" />
<text x="357.0" y="880.775" font-size="10.3" text-anchor="end" fill="#1a1a1a" font-weight="normal" font-style="normal" >2.5</text>
<line x1="361.4" y1="866.65" x2="366.4" y2="866.65" stroke="#111" stroke-width="1.3" />
<text x="357.0" y="870.25" font-size="10.3" text-anchor="end" fill="#1a1a1a" font-weight="normal" font-style="normal" >3</text>
<line x1="361.4" y1="856.125" x2="366.4" y2="856.125" stroke="#111" stroke-width="1.3" />
<text x="357.0" y="859.725" font-size="10.3" text-anchor="end" fill="#1a1a1a" font-weight="normal" font-style="normal" >3.5</text>
<line x1="361.4" y1="845.5999999999999" x2="366.4" y2="845.5999999999999" stroke="#111" stroke-width="1.3" />
<text x="357.0" y="849.1999999999999" font-size="10.3" text-anchor="end" fill="#1a1a1a" font-weight="normal" font-style="normal" >4</text>
<path d="M386.55,841.81 C386.60,842.97 386.77,846.97 386.85,848.76 C386.93,850.55 386.82,851.25 387.05,852.55 C387.28,853.84 387.58,854.86 388.25,856.55 C388.92,858.23 390.15,860.62 391.05,862.65 C391.95,864.69 392.88,866.72 393.65,868.75 C394.42,870.79 395.20,872.79 395.65,874.86 C396.10,876.93 396.23,879.10 396.35,881.17 C396.47,883.24 396.47,885.24 396.35,887.28 C396.23,889.31 396.15,891.59 395.65,893.38 C395.15,895.17 394.00,896.47 393.35,898.01 C392.70,899.56 391.88,901.38 391.75,902.65 C391.62,903.91 392.55,904.43 392.55,905.59 C392.55,906.75 392.27,908.29 391.75,909.59 C391.23,910.89 390.23,911.98 389.45,913.38 C388.67,914.78 387.17,916.22 387.05,918.01 C386.93,919.80 388.27,922.33 388.75,924.12 C389.23,925.91 389.72,927.80 389.95,928.75 C390.18,929.69 390.12,929.62 390.15,929.80 L382.95,929.80 C382.98,929.62 382.92,929.69 383.15,928.75 C383.38,927.80 383.87,925.91 384.35,924.12 C384.83,922.33 386.17,919.80 386.05,918.01 C385.93,916.22 384.43,914.78 383.65,913.38 C382.87,911.98 381.87,910.89 381.35,909.59 C380.83,908.29 380.55,906.75 380.55,905.59 C380.55,904.43 381.48,903.91 381.35,902.65 C381.22,901.38 380.40,899.56 379.75,898.01 C379.10,896.47 377.95,895.17 377.45,893.38 C376.95,891.59 376.87,889.31 376.75,887.28 C376.63,885.24 376.63,883.24 376.75,881.17 C376.87,879.10 377.00,876.93 377.45,874.86 C377.90,872.79 378.68,870.79 379.45,868.75 C380.22,866.72 381.15,864.69 382.05,862.65 C382.95,860.62 384.18,858.23 384.85,856.55 C385.52,854.86 385.82,853.84 386.05,852.55 C386.28,851.25 386.17,850.55 386.25,848.76 C386.33,846.97 386.50,842.97 386.55,841.81 Z" fill="#fce0e0" stroke="#aa1530" stroke-width="1.0" stroke-linejoin="round"/>
<line x1="386.54999999999995" y1="841.81" x2="386.54999999999995" y2="929.80" stroke="#aa1530" stroke-width="1"/>
<rect x="384.25" y="875.70" width="4.60" height="20.84" fill="#f49ba2" stroke="#b0152f" stroke-width="0.9"/>
<line x1="384.25" y1="887.28" x2="388.85" y2="887.28" stroke="#d01c38" stroke-width="1"/>
<line x1="384.25" y1="889.59" x2="388.85" y2="889.59" stroke="#d01c38" stroke-width="1"/>
<path d="M426.25,881.17 C426.29,884.54 426.40,897.56 426.50,901.38 C426.60,905.21 426.64,903.28 426.85,904.12 C427.06,904.96 427.47,905.66 427.75,906.43 C428.03,907.21 428.42,907.59 428.55,908.75 C428.68,909.91 428.63,911.84 428.55,913.38 C428.47,914.92 428.13,916.61 428.05,918.01 C427.97,919.42 427.65,920.64 428.05,921.80 C428.45,922.96 429.28,923.80 430.45,924.96 C431.62,926.12 434.25,927.94 435.05,928.75 C435.85,929.55 435.22,929.62 435.25,929.80 L417.25,929.80 C417.28,929.62 416.65,929.55 417.45,928.75 C418.25,927.94 420.88,926.12 422.05,924.96 C423.22,923.80 424.05,922.96 424.45,921.80 C424.85,920.64 424.53,919.42 424.45,918.01 C424.37,916.61 424.03,914.92 423.95,913.38 C423.87,911.84 423.82,909.91 423.95,908.75 C424.08,907.59 424.47,907.21 424.75,906.43 C425.03,905.66 425.44,904.96 425.65,904.12 C425.86,903.28 425.90,905.21 426.00,901.38 C426.10,897.56 426.21,884.54 426.25,881.17 Z" fill="#d6ecf9" stroke="#2f9bd0" stroke-width="1.0" stroke-linejoin="round"/>
<line x1="426.25" y1="881.17" x2="426.25" y2="929.80" stroke="#2f9bd0" stroke-width="1"/>
<rect x="425.05" y="910.85" width="2.40" height="18.95" fill="#52b5e8" stroke="#1f88c6" stroke-width="0.9"/>
<line x1="425.05" y1="913.38" x2="427.45" y2="913.38" stroke="#1a72b0" stroke-width="1"/>
<path d="M109.35,972.3 V1060.4 H189.35" fill="none" stroke="#111" stroke-width="1.7"/>
<line x1="104.35" y1="1060.4" x2="109.35" y2="1060.4" stroke="#111" stroke-width="1.3" />
<text x="99.94999999999999" y="1064.0" font-size="10.3" text-anchor="end" fill="#1a1a1a" font-weight="normal" font-style="normal" >0</text>
<line x1="104.35" y1="1048.39" x2="109.35" y2="1048.39" stroke="#111" stroke-width="1.3" />
<text x="99.94999999999999" y="1051.99" font-size="10.3" text-anchor="end" fill="#1a1a1a" font-weight="normal" font-style="normal" >1</text>
<line x1="104.35" y1="1036.38" x2="109.35" y2="1036.38" stroke="#111" stroke-width="1.3" />
<text x="99.94999999999999" y="1039.98" font-size="10.3" text-anchor="end" fill="#1a1a1a" font-weight="normal" font-style="normal" >2</text>
<line x1="104.35" y1="1024.3700000000001" x2="109.35" y2="1024.3700000000001" stroke="#111" stroke-width="1.3" />
<text x="99.94999999999999" y="1027.97" font-size="10.3" text-anchor="end" fill="#1a1a1a" font-weight="normal" font-style="normal" >3</text>
<line x1="104.35" y1="1012.3600000000001" x2="109.35" y2="1012.3600000000001" stroke="#111" stroke-width="1.3" />
<text x="99.94999999999999" y="1015.9600000000002" font-size="10.3" text-anchor="end" fill="#1a1a1a" font-weight="normal" font-style="normal" >4</text>
<line x1="104.35" y1="1000.3500000000001" x2="109.35" y2="1000.3500000000001" stroke="#111" stroke-width="1.3" />
<text x="99.94999999999999" y="1003.9500000000002" font-size="10.3" text-anchor="end" fill="#1a1a1a" font-weight="normal" font-style="normal" >5</text>
<line x1="104.35" y1="988.3400000000001" x2="109.35" y2="988.3400000000001" stroke="#111" stroke-width="1.3" />
<text x="99.94999999999999" y="991.9400000000002" font-size="10.3" text-anchor="end" fill="#1a1a1a" font-weight="normal" font-style="normal" >6</text>
<line x1="104.35" y1="976.3300000000002" x2="109.35" y2="976.3300000000002" stroke="#111" stroke-width="1.3" />
<text x="99.94999999999999" y="979.9300000000002" font-size="10.3" text-anchor="end" fill="#1a1a1a" font-weight="normal" font-style="normal" >7</text>
<path d="M129.50,978.01 C129.55,979.33 129.72,984.02 129.80,985.94 C129.88,987.86 129.85,988.44 130.00,989.54 C130.15,990.64 130.20,991.26 130.70,992.54 C131.20,993.82 132.17,995.69 133.00,997.23 C133.83,998.77 134.87,1000.25 135.70,1001.79 C136.53,1003.33 137.37,1005.05 138.00,1006.48 C138.63,1007.90 139.45,1009.04 139.50,1010.32 C139.55,1011.60 138.87,1012.74 138.30,1014.16 C137.73,1015.58 136.93,1017.04 136.10,1018.85 C135.27,1020.65 134.07,1022.93 133.30,1024.97 C132.53,1027.01 131.97,1029.31 131.50,1031.10 C131.03,1032.88 130.75,1034.26 130.50,1035.66 C130.25,1037.06 130.12,1036.54 130.00,1039.50 C129.88,1042.47 129.83,1051.11 129.80,1053.43 L129.20,1053.43 C129.17,1051.11 129.12,1042.47 129.00,1039.50 C128.88,1036.54 128.75,1037.06 128.50,1035.66 C128.25,1034.26 127.97,1032.88 127.50,1031.10 C127.03,1029.31 126.47,1027.01 125.70,1024.97 C124.93,1022.93 123.73,1020.65 122.90,1018.85 C122.07,1017.04 121.27,1015.58 120.70,1014.16 C120.13,1012.74 119.45,1011.60 119.50,1010.32 C119.55,1009.04 120.37,1007.90 121.00,1006.48 C121.63,1005.05 122.47,1003.33 123.30,1001.79 C124.13,1000.25 125.17,998.77 126.00,997.23 C126.83,995.69 127.80,993.82 128.30,992.54 C128.80,991.26 128.85,990.64 129.00,989.54 C129.15,988.44 129.12,987.86 129.20,985.94 C129.28,984.02 129.45,979.33 129.50,978.01 Z" fill="#fce0e0" stroke="#aa1530" stroke-width="1.0" stroke-linejoin="round"/>
<line x1="129.5" y1="978.01" x2="129.5" y2="1053.43" stroke="#aa1530" stroke-width="1"/>
<rect x="127.30" y="1006.23" width="4.40" height="12.61" fill="#f49ba2" stroke="#b0152f" stroke-width="0.9"/>
<line x1="127.30" y1="1012.60" x2="131.70" y2="1012.60" stroke="#d01c38" stroke-width="1"/>
<path d="M169.20,1003.35 C169.25,1004.45 169.42,1008.42 169.50,1009.96 C169.58,1011.50 169.50,1011.64 169.70,1012.60 C169.90,1013.56 170.15,1014.44 170.70,1015.72 C171.25,1017.00 172.22,1018.75 173.00,1020.29 C173.78,1021.83 174.67,1023.43 175.40,1024.97 C176.13,1026.51 176.82,1027.75 177.40,1029.53 C177.98,1031.32 178.85,1033.86 178.90,1035.66 C178.95,1037.46 177.90,1038.80 177.70,1040.34 C177.50,1041.88 178.22,1043.51 177.70,1044.91 C177.18,1046.31 175.68,1047.47 174.60,1048.75 C173.52,1050.03 171.93,1051.43 171.20,1052.59 C170.47,1053.75 170.12,1054.68 170.20,1055.72 C170.28,1056.76 171.28,1058.06 171.70,1058.84 C172.12,1059.62 172.53,1060.14 172.70,1060.40 L165.70,1060.40 C165.87,1060.14 166.28,1059.62 166.70,1058.84 C167.12,1058.06 168.12,1056.76 168.20,1055.72 C168.28,1054.68 167.93,1053.75 167.20,1052.59 C166.47,1051.43 164.88,1050.03 163.80,1048.75 C162.72,1047.47 161.22,1046.31 160.70,1044.91 C160.18,1043.51 160.90,1041.88 160.70,1040.34 C160.50,1038.80 159.45,1037.46 159.50,1035.66 C159.55,1033.86 160.42,1031.32 161.00,1029.53 C161.58,1027.75 162.27,1026.51 163.00,1024.97 C163.73,1023.43 164.62,1021.83 165.40,1020.29 C166.18,1018.75 167.15,1017.00 167.70,1015.72 C168.25,1014.44 168.50,1013.56 168.70,1012.60 C168.90,1011.64 168.82,1011.50 168.90,1009.96 C168.98,1008.42 169.15,1004.45 169.20,1003.35 Z" fill="#d6ecf9" stroke="#2f9bd0" stroke-width="1.0" stroke-linejoin="round"/>
<line x1="169.2" y1="1003.35" x2="169.2" y2="1060.40" stroke="#2f9bd0" stroke-width="1"/>
<rect x="166.90" y="1032.54" width="4.60" height="15.85" fill="#52b5e8" stroke="#1f88c6" stroke-width="0.9"/>
<line x1="166.90" y1="1039.98" x2="171.50" y2="1039.98" stroke="#1a72b0" stroke-width="1"/>
<path d="M237.6,972.3 V1060.4 H317.6" fill="none" stroke="#111" stroke-width="1.7"/>
<line x1="232.6" y1="1060.4" x2="237.6" y2="1060.4" stroke="#111" stroke-width="1.3" />
<text x="228.2" y="1064.0" font-size="10.3" text-anchor="end" fill="#1a1a1a" font-weight="normal" font-style="normal" >0</text>
<line x1="232.6" y1="1043.5800000000002" x2="237.6" y2="1043.5800000000002" stroke="#111" stroke-width="1.3" />
<text x="228.2" y="1047.18" font-size="10.3" text-anchor="end" fill="#1a1a1a" font-weight="normal" font-style="normal" >1</text>
<line x1="232.6" y1="1026.76" x2="237.6" y2="1026.76" stroke="#111" stroke-width="1.3" />
<text x="228.2" y="1030.36" font-size="10.3" text-anchor="end" fill="#1a1a1a" font-weight="normal" font-style="normal" >2</text>
<line x1="232.6" y1="1009.94" x2="237.6" y2="1009.94" stroke="#111" stroke-width="1.3" />
<text x="228.2" y="1013.5400000000001" font-size="10.3" text-anchor="end" fill="#1a1a1a" font-weight="normal" font-style="normal" >3</text>
<line x1="232.6" y1="993.1200000000001" x2="237.6" y2="993.1200000000001" stroke="#111" stroke-width="1.3" />
<text x="228.2" y="996.7200000000001" font-size="10.3" text-anchor="end" fill="#1a1a1a" font-weight="normal" font-style="normal" >4</text>
<line x1="232.6" y1="976.3000000000001" x2="237.6" y2="976.3000000000001" stroke="#111" stroke-width="1.3" />
<text x="228.2" y="979.9000000000001" font-size="10.3" text-anchor="end" fill="#1a1a1a" font-weight="normal" font-style="normal" >5</text>
<path d="M257.75,973.44 C257.80,975.32 257.97,982.02 258.05,984.71 C258.13,987.40 257.97,988.02 258.25,989.59 C258.53,991.16 259.03,992.34 259.75,994.13 C260.47,995.92 261.65,998.28 262.55,1000.35 C263.45,1002.43 264.42,1004.53 265.15,1006.58 C265.88,1008.62 266.52,1010.33 266.95,1012.63 C267.38,1014.93 267.67,1017.82 267.75,1020.37 C267.83,1022.92 267.70,1025.64 267.45,1027.94 C267.20,1030.24 266.82,1032.11 266.25,1034.16 C265.68,1036.21 264.83,1038.17 264.05,1040.22 C263.27,1042.26 262.13,1044.62 261.55,1046.44 C260.97,1048.26 260.65,1049.75 260.55,1051.15 C260.45,1052.55 260.58,1053.59 260.95,1054.85 C261.32,1056.11 262.38,1057.79 262.75,1058.72 C263.12,1059.64 263.08,1060.12 263.15,1060.40 L252.35,1060.40 C252.42,1060.12 252.38,1059.64 252.75,1058.72 C253.12,1057.79 254.18,1056.11 254.55,1054.85 C254.92,1053.59 255.05,1052.55 254.95,1051.15 C254.85,1049.75 254.53,1048.26 253.95,1046.44 C253.37,1044.62 252.23,1042.26 251.45,1040.22 C250.67,1038.17 249.82,1036.21 249.25,1034.16 C248.68,1032.11 248.30,1030.24 248.05,1027.94 C247.80,1025.64 247.67,1022.92 247.75,1020.37 C247.83,1017.82 248.12,1014.93 248.55,1012.63 C248.98,1010.33 249.62,1008.62 250.35,1006.58 C251.08,1004.53 252.05,1002.43 252.95,1000.35 C253.85,998.28 255.03,995.92 255.75,994.13 C256.47,992.34 256.97,991.16 257.25,989.59 C257.53,988.02 257.37,987.40 257.45,984.71 C257.53,982.02 257.70,975.32 257.75,973.44 Z" fill="#fce0e0" stroke="#aa1530" stroke-width="1.0" stroke-linejoin="round"/>
<line x1="257.75" y1="973.44" x2="257.75" y2="1060.40" stroke="#aa1530" stroke-width="1"/>
<rect x="255.40" y="1013.81" width="4.70" height="29.94" fill="#f49ba2" stroke="#b0152f" stroke-width="0.9"/>
<line x1="255.40" y1="1027.26" x2="260.10" y2="1027.26" stroke="#d01c38" stroke-width="1"/>
<path d="M297.45,1011.12 C297.49,1014.29 297.60,1026.54 297.70,1030.12 C297.80,1033.71 297.93,1031.72 298.05,1032.65 C298.18,1033.57 298.17,1034.41 298.45,1035.67 C298.73,1036.94 299.45,1038.93 299.75,1040.22 C300.05,1041.51 300.22,1042.37 300.25,1043.41 C300.28,1044.45 300.12,1045.15 299.95,1046.44 C299.78,1047.73 299.28,1049.75 299.25,1051.15 C299.22,1052.55 299.15,1053.84 299.75,1054.85 C300.35,1055.86 301.82,1056.36 302.85,1057.20 C303.88,1058.05 305.40,1059.36 305.95,1059.90 C306.50,1060.43 306.12,1060.32 306.15,1060.40 L288.75,1060.40 C288.78,1060.32 288.40,1060.43 288.95,1059.90 C289.50,1059.36 291.02,1058.05 292.05,1057.20 C293.08,1056.36 294.55,1055.86 295.15,1054.85 C295.75,1053.84 295.68,1052.55 295.65,1051.15 C295.62,1049.75 295.12,1047.73 294.95,1046.44 C294.78,1045.15 294.62,1044.45 294.65,1043.41 C294.68,1042.37 294.85,1041.51 295.15,1040.22 C295.45,1038.93 296.17,1036.94 296.45,1035.67 C296.73,1034.41 296.72,1033.57 296.85,1032.65 C296.97,1031.72 297.10,1033.71 297.20,1030.12 C297.30,1026.54 297.41,1014.29 297.45,1011.12 Z" fill="#d6ecf9" stroke="#2f9bd0" stroke-width="1.0" stroke-linejoin="round"/>
<line x1="297.45" y1="1011.12" x2="297.45" y2="1060.40" stroke="#2f9bd0" stroke-width="1"/>
<rect x="296.25" y="1044.42" width="2.40" height="15.98" fill="#52b5e8" stroke="#1f88c6" stroke-width="0.9"/>
<line x1="296.25" y1="1046.94" x2="298.65" y2="1046.94" stroke="#1a72b0" stroke-width="1"/>
<path d="M366.4,972.3 V1060.4 H446.4" fill="none" stroke="#111" stroke-width="1.7"/>
<line x1="361.4" y1="1060.4" x2="366.4" y2="1060.4" stroke="#111" stroke-width="1.3" />
<text x="357.0" y="1064.0" font-size="10.3" text-anchor="end" fill="#1a1a1a" font-weight="normal" font-style="normal" >0</text>
<line x1="361.4" y1="1049.89" x2="366.4" y2="1049.89" stroke="#111" stroke-width="1.3" />
<text x="357.0" y="1053.49" font-size="10.3" text-anchor="end" fill="#1a1a1a" font-weight="normal" font-style="normal" >0.5</text>
<line x1="361.4" y1="1039.38" x2="366.4" y2="1039.38" stroke="#111" stroke-width="1.3" />
<text x="357.0" y="1042.98" font-size="10.3" text-anchor="end" fill="#1a1a1a" font-weight="normal" font-style="normal" >1</text>
<line x1="361.4" y1="1028.8700000000001" x2="366.4" y2="1028.8700000000001" stroke="#111" stroke-width="1.3" />
<text x="357.0" y="1032.47" font-size="10.3" text-anchor="end" fill="#1a1a1a" font-weight="normal" font-style="normal" >1.5</text>
<line x1="361.4" y1="1018.3600000000001" x2="366.4" y2="1018.3600000000001" stroke="#111" stroke-width="1.3" />
<text x="357.0" y="1021.9600000000002" font-size="10.3" text-anchor="end" fill="#1a1a1a" font-weight="normal" font-style="normal" >2</text>
<line x1="361.4" y1="1007.8500000000001" x2="366.4" y2="1007.8500000000001" stroke="#111" stroke-width="1.3" />
<text x="357.0" y="1011.4500000000002" font-size="10.3" text-anchor="end" fill="#1a1a1a" font-weight="normal" font-style="normal" >2.5</text>
<line x1="361.4" y1="997.3400000000001" x2="366.4" y2="997.3400000000001" stroke="#111" stroke-width="1.3" />
<text x="357.0" y="1000.9400000000002" font-size="10.3" text-anchor="end" fill="#1a1a1a" font-weight="normal" font-style="normal" >3</text>
<line x1="361.4" y1="986.8300000000002" x2="366.4" y2="986.8300000000002" stroke="#111" stroke-width="1.3" />
<text x="357.0" y="990.4300000000002" font-size="10.3" text-anchor="end" fill="#1a1a1a" font-weight="normal" font-style="normal" >3.5</text>
<line x1="361.4" y1="976.32" x2="366.4" y2="976.32" stroke="#111" stroke-width="1.3" />
<text x="357.0" y="979.9200000000001" font-size="10.3" text-anchor="end" fill="#1a1a1a" font-weight="normal" font-style="normal" >4</text>
<path d="M386.55,979.47 C386.60,980.70 386.77,984.90 386.85,986.83 C386.93,988.76 386.82,989.81 387.05,991.03 C387.28,992.26 387.58,992.65 388.25,994.19 C388.92,995.73 390.20,998.25 391.05,1000.28 C391.90,1002.31 392.72,1004.31 393.35,1006.38 C393.98,1008.45 394.42,1010.62 394.85,1012.68 C395.28,1014.75 395.75,1016.75 395.95,1018.78 C396.15,1020.81 396.28,1023.09 396.05,1024.88 C395.82,1026.66 395.13,1027.96 394.55,1029.50 C393.97,1031.04 392.63,1032.72 392.55,1034.12 C392.47,1035.53 393.92,1036.61 394.05,1037.91 C394.18,1039.20 393.85,1040.75 393.35,1041.90 C392.85,1043.06 392.10,1043.69 391.05,1044.85 C390.00,1046.00 387.32,1047.30 387.05,1048.84 C386.78,1050.38 388.78,1052.45 389.45,1054.09 C390.12,1055.74 390.72,1057.67 391.05,1058.72 C391.38,1059.77 391.38,1060.12 391.45,1060.40 L381.65,1060.40 C381.72,1060.12 381.72,1059.77 382.05,1058.72 C382.38,1057.67 382.98,1055.74 383.65,1054.09 C384.32,1052.45 386.32,1050.38 386.05,1048.84 C385.78,1047.30 383.10,1046.00 382.05,1044.85 C381.00,1043.69 380.25,1043.06 379.75,1041.90 C379.25,1040.75 378.92,1039.20 379.05,1037.91 C379.18,1036.61 380.63,1035.53 380.55,1034.12 C380.47,1032.72 379.13,1031.04 378.55,1029.50 C377.97,1027.96 377.28,1026.66 377.05,1024.88 C376.82,1023.09 376.95,1020.81 377.15,1018.78 C377.35,1016.75 377.82,1014.75 378.25,1012.68 C378.68,1010.62 379.12,1008.45 379.75,1006.38 C380.38,1004.31 381.20,1002.31 382.05,1000.28 C382.90,998.25 384.18,995.73 384.85,994.19 C385.52,992.65 385.82,992.26 386.05,991.03 C386.28,989.81 386.17,988.76 386.25,986.83 C386.33,984.90 386.50,980.70 386.55,979.47 Z" fill="#fce0e0" stroke="#aa1530" stroke-width="1.0" stroke-linejoin="round"/>
<line x1="386.54999999999995" y1="979.47" x2="386.54999999999995" y2="1060.40" stroke="#aa1530" stroke-width="1"/>
<rect x="384.25" y="1018.57" width="4.60" height="21.02" fill="#f49ba2" stroke="#b0152f" stroke-width="0.9"/>
<line x1="384.25" y1="1027.19" x2="388.85" y2="1027.19" stroke="#d01c38" stroke-width="1"/>
<path d="M426.25,1005.75 C426.29,1009.95 426.40,1026.24 426.50,1030.97 C426.60,1035.70 426.64,1033.21 426.85,1034.12 C427.06,1035.04 427.47,1035.53 427.75,1036.44 C428.03,1037.35 428.42,1038.43 428.55,1039.59 C428.68,1040.75 428.63,1041.97 428.55,1043.37 C428.47,1044.78 428.13,1046.39 428.05,1048.00 C427.97,1049.61 427.65,1051.71 428.05,1053.04 C428.45,1054.37 429.42,1055.00 430.45,1055.99 C431.48,1056.97 433.57,1058.19 434.25,1058.93 C434.93,1059.66 434.50,1060.15 434.55,1060.40 L417.95,1060.40 C418.00,1060.15 417.57,1059.66 418.25,1058.93 C418.93,1058.19 421.02,1056.97 422.05,1055.99 C423.08,1055.00 424.05,1054.37 424.45,1053.04 C424.85,1051.71 424.53,1049.61 424.45,1048.00 C424.37,1046.39 424.03,1044.78 423.95,1043.37 C423.87,1041.97 423.82,1040.75 423.95,1039.59 C424.08,1038.43 424.47,1037.35 424.75,1036.44 C425.03,1035.53 425.44,1035.04 425.65,1034.12 C425.86,1033.21 425.90,1035.70 426.00,1030.97 C426.10,1026.24 426.21,1009.95 426.25,1005.75 Z" fill="#d6ecf9" stroke="#2f9bd0" stroke-width="1.0" stroke-linejoin="round"/>
<line x1="426.25" y1="1005.75" x2="426.25" y2="1060.40" stroke="#2f9bd0" stroke-width="1"/>
<rect x="425.05" y="1041.48" width="2.40" height="18.92" fill="#52b5e8" stroke="#1f88c6" stroke-width="0.9"/>
<line x1="425.05" y1="1043.37" x2="427.45" y2="1043.37" stroke="#1a72b0" stroke-width="1"/>
<text transform="translate(81.6 624) rotate(-90)" font-size="10.8" text-anchor="middle" fill="#222">Log<tspan font-size="8.2" dy="3.6">2</tspan><tspan dy="-3.6"> expression</tspan></text>
<rect x="218.3" y="1075.3" width="14.5" height="7" fill="#d0021b"/>
<text x="236.9" y="1083.0" font-size="11" text-anchor="start" fill="#222" font-weight="normal" font-style="normal" >Control</text>
<rect x="279.2" y="1075.3" width="13.4" height="7" fill="#3cb1e8"/>
<text x="298.2" y="1083.0" font-size="10.6" fill="#222"><tspan font-style="italic">Trsp</tspan> KO</text>
<rect x="0.5" y="0.5" width="519" height="1094" fill="none" stroke="#111" stroke-width="1.2"/>
</svg></body></html>
